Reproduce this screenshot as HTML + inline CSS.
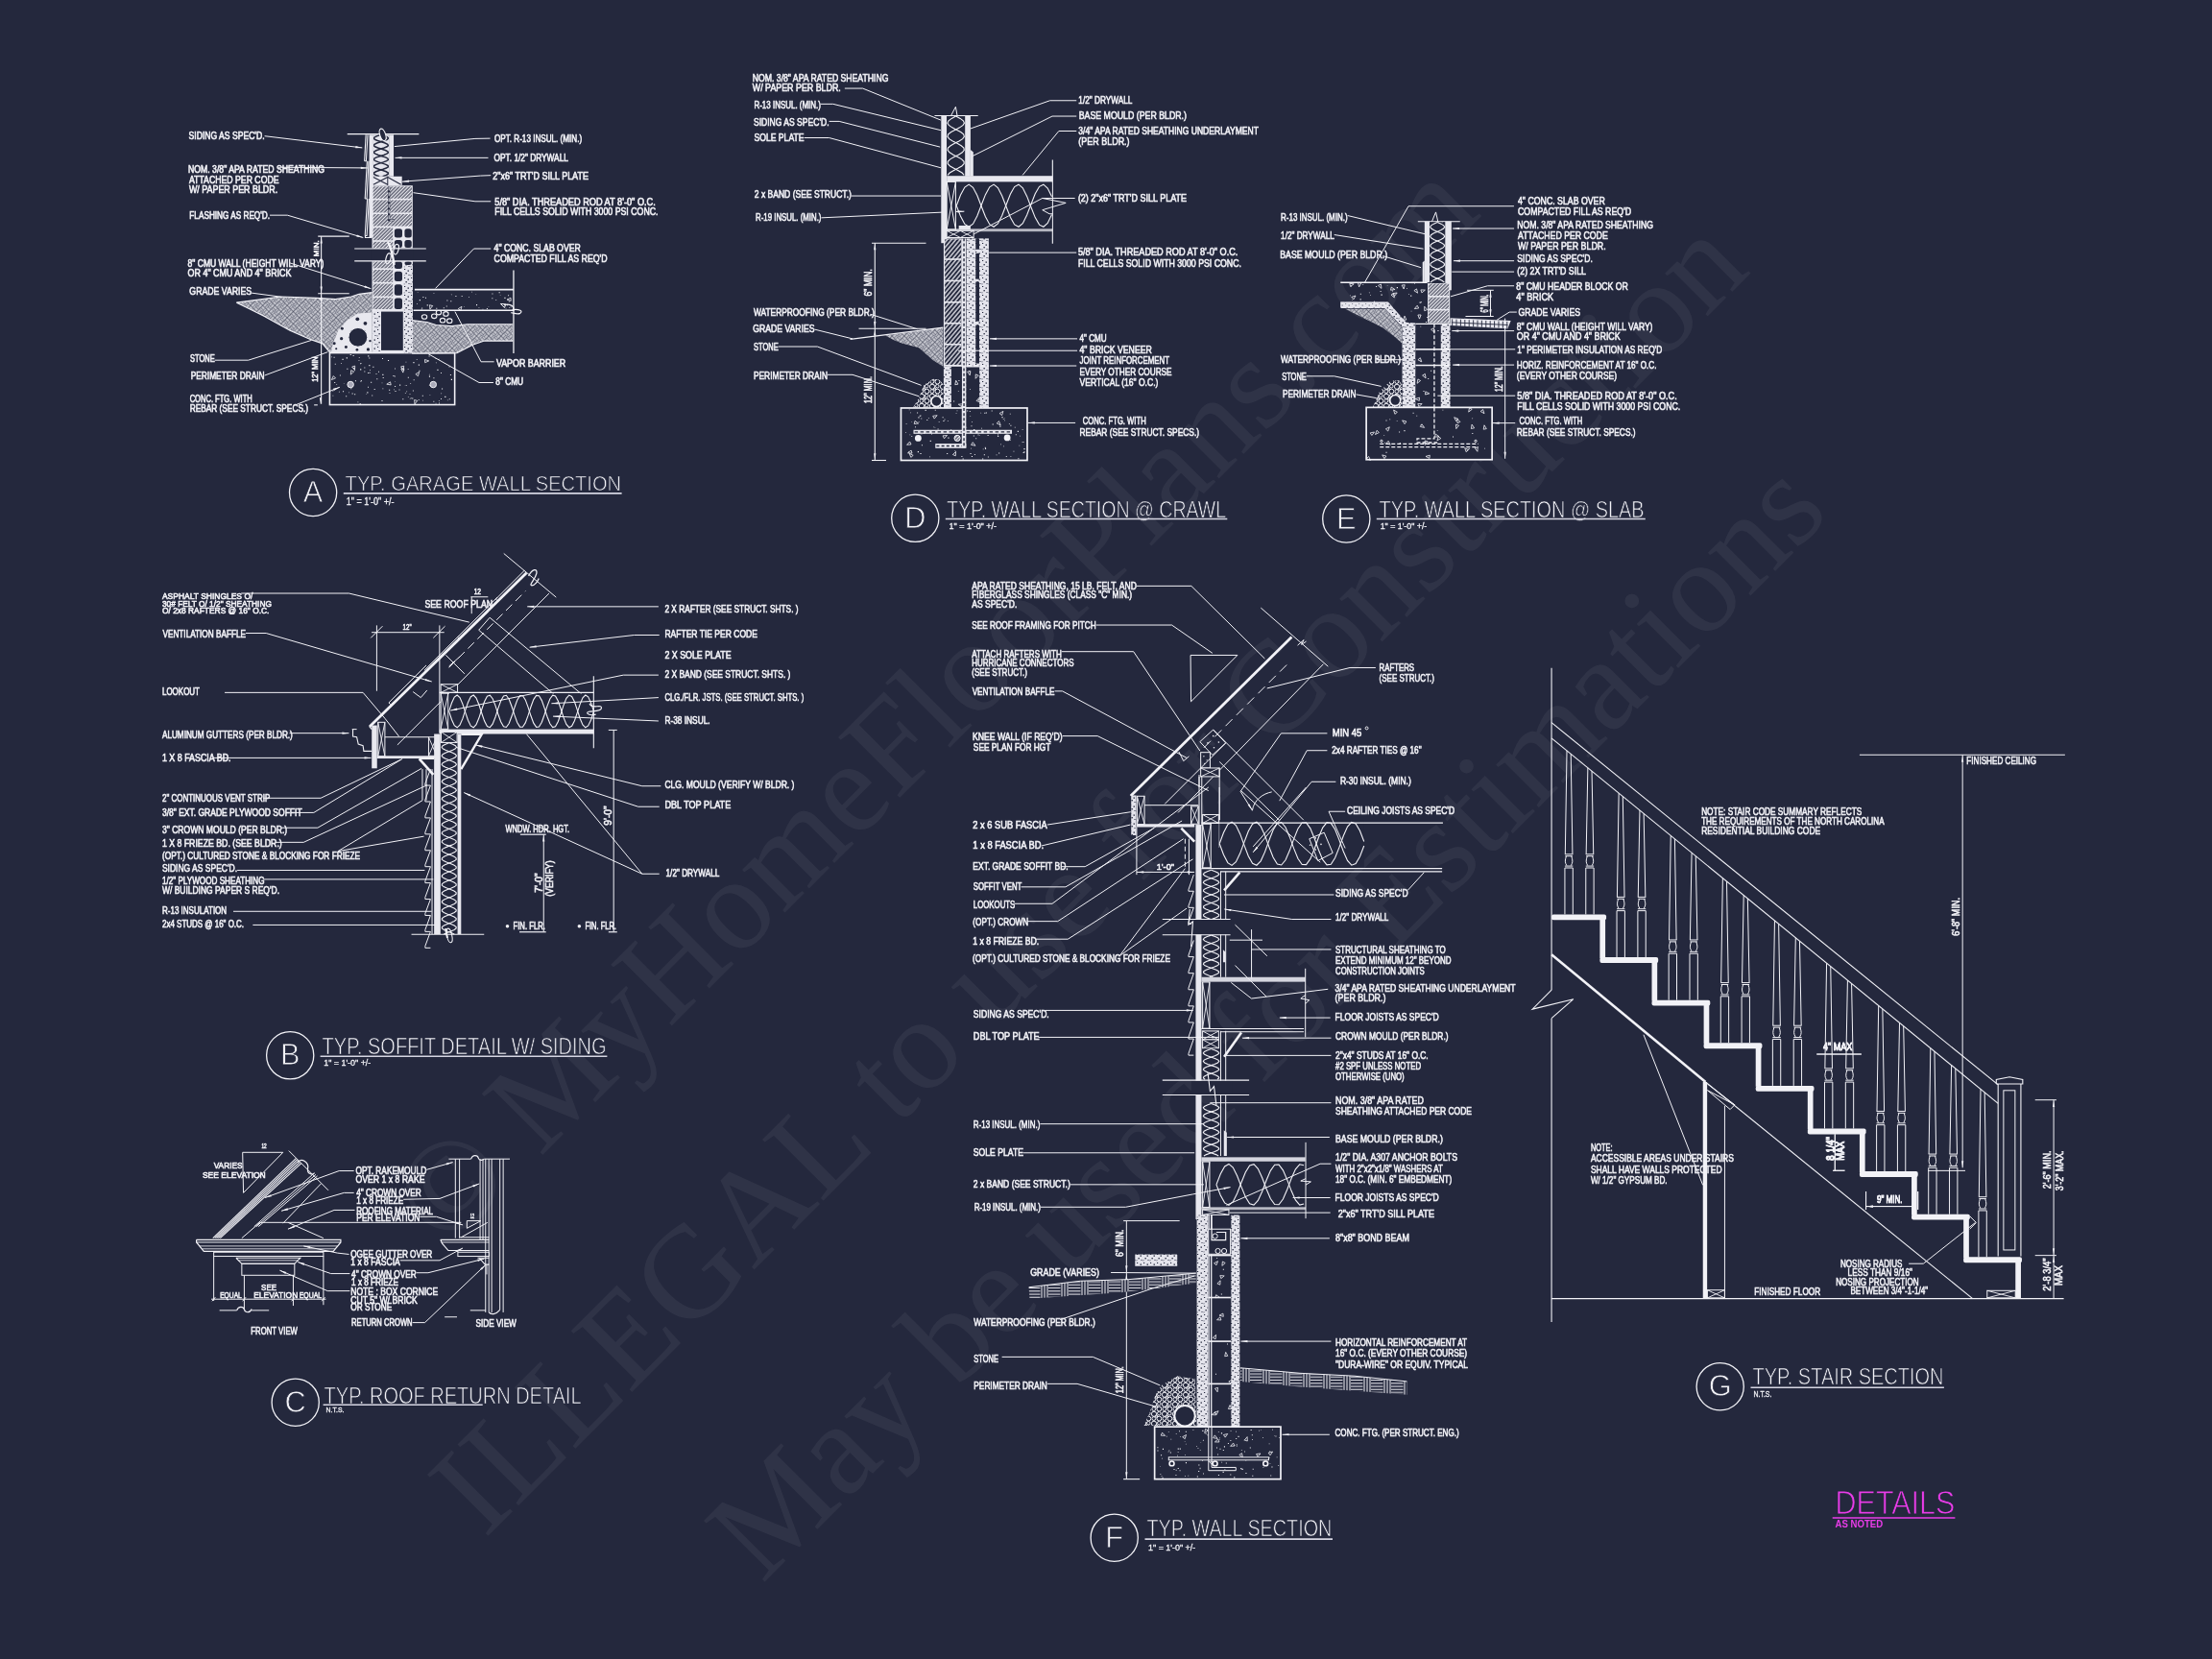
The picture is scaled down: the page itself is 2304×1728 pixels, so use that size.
<!DOCTYPE html>
<html><head><meta charset="utf-8"><title>Details</title>
<style>
html,body{margin:0;padding:0;background:#24283d;}
body{width:2304px;height:1728px;overflow:hidden;}
svg{display:block;will-change:transform;font-family:"Liberation Sans",sans-serif;}
.wm{font-family:"Liberation Serif",serif;}
</style></head><body>
<svg xmlns="http://www.w3.org/2000/svg" width="2304" height="1728" viewBox="0 0 2304 1728">
<defs>
<pattern id="hd" width="2.6" height="2.6" patternUnits="userSpaceOnUse" patternTransform="rotate(-45)"><rect width="2.6" height="2.6" fill="#24283d"/><line x1="0" y1="1.3" x2="2.6" y2="1.3" stroke="#f2f2f7" stroke-width="1.55"/></pattern>
<pattern id="hd2" width="2.2" height="2.2" patternUnits="userSpaceOnUse" patternTransform="rotate(-45)"><rect width="2.2" height="2.2" fill="#24283d"/><line x1="0" y1="1.1" x2="2.2" y2="1.1" stroke="#f2f2f7" stroke-width="1.0"/></pattern>
<pattern id="earth" width="9" height="9" patternUnits="userSpaceOnUse" patternTransform="rotate(45)">
<rect width="9" height="9" fill="#24283d"/>
<g stroke="#f2f2f7" stroke-width="1.05">
<line x1="0.3" y1="0.75" x2="4.2" y2="0.75"/><line x1="0.3" y1="2.25" x2="4.2" y2="2.25"/><line x1="0.3" y1="3.75" x2="4.2" y2="3.75"/>
<line x1="5.25" y1="0.3" x2="5.25" y2="4.2"/><line x1="6.75" y1="0.3" x2="6.75" y2="4.2"/><line x1="8.25" y1="0.3" x2="8.25" y2="4.2"/>
<line x1="0.75" y1="4.8" x2="0.75" y2="8.7"/><line x1="2.25" y1="4.8" x2="2.25" y2="8.7"/><line x1="3.75" y1="4.8" x2="3.75" y2="8.7"/>
<line x1="4.8" y1="5.25" x2="8.7" y2="5.25"/><line x1="4.8" y1="6.75" x2="8.7" y2="6.75"/><line x1="4.8" y1="8.25" x2="8.7" y2="8.25"/>
</g></pattern>
<pattern id="grout" width="7" height="9" patternUnits="userSpaceOnUse">
<rect width="7" height="9" fill="#e4e4ec"/>
<g fill="#24283d"><rect x="1" y="1" width="1.2" height="1"/><rect x="4.5" y="2.5" width="1.5" height="1.2"/><rect x="2.5" y="5" width="1.3" height="1.4"/><rect x="5.5" y="7" width="1" height="1"/><rect x="0.5" y="7.5" width="1" height="0.8"/></g></pattern>
<pattern id="brick" width="3.4" height="3.4" patternUnits="userSpaceOnUse" patternTransform="rotate(-50)"><rect width="3.4" height="3.4" fill="#24283d"/><line x1="0" y1="1.7" x2="3.4" y2="1.7" stroke="#f2f2f7" stroke-width="1.25"/></pattern>
<pattern id="stone" width="11" height="10" patternUnits="userSpaceOnUse"><rect width="11" height="10" fill="#24283d"/><g fill="none" stroke="#f2f2f7" stroke-width="1"><circle cx="3" cy="2.8" r="2.6"/><circle cx="8.4" cy="7.6" r="2.4"/><circle cx="8.3" cy="2.2" r="1.8"/><circle cx="2.8" cy="7.6" r="1.9"/><circle cx="5.6" cy="5.1" r="1.1"/></g></pattern>
<pattern id="bond" width="21" height="9.6" patternUnits="userSpaceOnUse"><rect width="21" height="9.6" fill="#24283d"/><g stroke="#f2f2f7" stroke-width="1"><line x1="0" y1="0.8" x2="12.5" y2="0.8"/><line x1="0" y1="4" x2="12.5" y2="4"/><line x1="0" y1="7.2" x2="12.5" y2="7.2"/><line x1="14" y1="0" x2="14" y2="9.6"/><line x1="17" y1="0" x2="17" y2="9.6"/><line x1="20" y1="0" x2="20" y2="9.6"/></g></pattern>
</defs>

<rect x="0" y="0" width="2304" height="1728" fill="#24283d"/>
<g id="s_misc">
<text class="wm" x="1004.6" y="763.4" font-size="137" text-anchor="middle" fill="#ffffff" opacity="0.052" transform="rotate(-45 1004.6 763.4)">© MyHomeFloorPlans.com</text>
<text class="wm" x="1165" y="943" font-size="137" text-anchor="middle" fill="#ffffff" opacity="0.052" transform="rotate(-45 1165 943)">ILLEGAL to use for Construction</text>
<text class="wm" x="1350.6" y="1093.2" font-size="137" text-anchor="middle" fill="#ffffff" opacity="0.052" transform="rotate(-45 1350.6 1093.2)">May be used for Estimations</text>
<circle cx="326.1" cy="513.0" r="24.6" fill="none" stroke="#f2f2f7" stroke-width="1.3"/>
<text x="326.1" y="523.0" font-size="30.73" fill="#f2f2f7" stroke="#24283d" stroke-width="0.8" text-anchor="middle">A</text>
<text x="359.6" y="511.2" font-size="22.21" fill="#f2f2f7" textLength="287.5" lengthAdjust="spacingAndGlyphs" stroke="#24283d" stroke-width="0.7">TYP. GARAGE WALL SECTION</text>
<line x1="357.8" y1="513.9" x2="647.6" y2="513.9" stroke="#d5d5e2" stroke-width="1.6"/>
<text x="360.8" y="526.0" font-size="10.07" fill="#f2f2f7" textLength="49.8" lengthAdjust="spacingAndGlyphs" stroke="#f2f2f7" stroke-width="0.3">1" = 1'-0" +/-</text>
<circle cx="953.3" cy="539.8" r="24.6" fill="none" stroke="#f2f2f7" stroke-width="1.3"/>
<text x="953.3" y="549.8" font-size="30.73" fill="#f2f2f7" stroke="#24283d" stroke-width="0.8" text-anchor="middle">D</text>
<text x="986.3" y="538.6" font-size="24.44" fill="#f2f2f7" textLength="290.8" lengthAdjust="spacingAndGlyphs" stroke="#24283d" stroke-width="0.7">TYP. WALL SECTION @ CRAWL</text>
<line x1="984.8" y1="540.5" x2="1278.3" y2="540.5" stroke="#d5d5e2" stroke-width="1.6"/>
<text x="988.6" y="551.4" font-size="8.59" fill="#f2f2f7" textLength="49.4" lengthAdjust="spacingAndGlyphs" stroke="#f2f2f7" stroke-width="0.3">1" = 1'-0" +/-</text>
<circle cx="1402.3" cy="540.5" r="24.6" fill="none" stroke="#f2f2f7" stroke-width="1.3"/>
<text x="1402.3" y="550.5" font-size="30.73" fill="#f2f2f7" stroke="#24283d" stroke-width="0.8" text-anchor="middle">E</text>
<text x="1436.5" y="538.6" font-size="24.44" fill="#f2f2f7" textLength="276.1" lengthAdjust="spacingAndGlyphs" stroke="#24283d" stroke-width="0.7">TYP. WALL SECTION @ SLAB</text>
<line x1="1433.8" y1="540.5" x2="1713.8" y2="540.5" stroke="#d5d5e2" stroke-width="1.6"/>
<text x="1437.7" y="551.4" font-size="8.59" fill="#f2f2f7" textLength="48.6" lengthAdjust="spacingAndGlyphs" stroke="#f2f2f7" stroke-width="0.3">1" = 1'-0" +/-</text>
<circle cx="302.2" cy="1099.3" r="24.6" fill="none" stroke="#f2f2f7" stroke-width="1.3"/>
<text x="302.2" y="1109.3" font-size="30.73" fill="#f2f2f7" stroke="#24283d" stroke-width="0.8" text-anchor="middle">B</text>
<text x="335.6" y="1098.3" font-size="24.44" fill="#f2f2f7" textLength="296.0" lengthAdjust="spacingAndGlyphs" stroke="#24283d" stroke-width="0.7">TYP. SOFFIT DETAIL W/ SIDING</text>
<line x1="333.6" y1="1100.3" x2="632.4" y2="1100.3" stroke="#d5d5e2" stroke-width="1.6"/>
<text x="337.2" y="1109.7" font-size="9.47" fill="#f2f2f7" textLength="49.1" lengthAdjust="spacingAndGlyphs" stroke="#f2f2f7" stroke-width="0.3">1" = 1'-0" +/-</text>
<circle cx="307.7" cy="1460.7" r="24.6" fill="none" stroke="#f2f2f7" stroke-width="1.3"/>
<text x="307.7" y="1470.7" font-size="30.73" fill="#f2f2f7" stroke="#24283d" stroke-width="0.8" text-anchor="middle">C</text>
<text x="337.6" y="1461.7" font-size="23.6" fill="#f2f2f7" textLength="268.1" lengthAdjust="spacingAndGlyphs" stroke="#24283d" stroke-width="0.7">TYP. ROOF RETURN DETAIL</text>
<line x1="336.6" y1="1463.3" x2="502.7" y2="1463.3" stroke="#d5d5e2" stroke-width="1.6"/>
<text x="339.6" y="1471.3" font-size="7.55" fill="#f2f2f7" textLength="18.9" lengthAdjust="spacingAndGlyphs" stroke="#f2f2f7" stroke-width="0.3">N.T.S.</text>
<circle cx="1160.7" cy="1601.7" r="24.6" fill="none" stroke="#f2f2f7" stroke-width="1.3"/>
<text x="1160.7" y="1611.7" font-size="30.73" fill="#f2f2f7" stroke="#24283d" stroke-width="0.8" text-anchor="middle">F</text>
<text x="1194.5" y="1600.1" font-size="24.16" fill="#f2f2f7" textLength="192.9" lengthAdjust="spacingAndGlyphs" stroke="#24283d" stroke-width="0.7">TYP. WALL SECTION</text>
<line x1="1192.5" y1="1603.1" x2="1388.0" y2="1603.1" stroke="#d5d5e2" stroke-width="1.6"/>
<text x="1196.1" y="1614.6" font-size="9.77" fill="#f2f2f7" textLength="49.1" lengthAdjust="spacingAndGlyphs" stroke="#f2f2f7" stroke-width="0.3">1" = 1'-0" +/-</text>
<circle cx="1791.7" cy="1444.2" r="24.6" fill="none" stroke="#f2f2f7" stroke-width="1.3"/>
<text x="1791.7" y="1454.2" font-size="30.73" fill="#f2f2f7" stroke="#24283d" stroke-width="0.8" text-anchor="middle">G</text>
<text x="1825.5" y="1442.2" font-size="23.32" fill="#f2f2f7" textLength="199.0" lengthAdjust="spacingAndGlyphs" stroke="#24283d" stroke-width="0.7">TYP. STAIR SECTION</text>
<line x1="1823.5" y1="1445.2" x2="2024.9" y2="1445.2" stroke="#d5d5e2" stroke-width="1.6"/>
<text x="1826.5" y="1455.1" font-size="8.88" fill="#f2f2f7" textLength="18.9" lengthAdjust="spacingAndGlyphs" stroke="#f2f2f7" stroke-width="0.3">N.T.S.</text>
<text x="1911.5" y="1577.0" font-size="34.64" fill="#e83ce8" textLength="124.9" lengthAdjust="spacingAndGlyphs" stroke="#24283d" stroke-width="0.9">DETAILS</text>
<line x1="1908.7" y1="1581.0" x2="2036.4" y2="1581.0" stroke="#e83ce8" stroke-width="1.6"/>
<text x="1911.5" y="1591.4" font-size="11.25" fill="#e83ce8" textLength="49.7" lengthAdjust="spacingAndGlyphs" font-weight="bold">AS NOTED</text>
</g>
<g id="s_a">
<polygon points="246.46,315.09 292.57,308.99 329.19,310.34 349.54,311.7 365.81,308.99 373.95,306.28 387.51,304.65 387.51,367.31 344.11,367.31 342.08,365.27 335.97,357.82 323.77,353.75 302.07,344.25 274.94,329.33" fill="url(#earth)" stroke="none" stroke-width="0"/>
<polyline points="246.46,315.09 292.57,308.99 329.19,310.34 349.54,311.7 365.81,308.99 373.95,306.28 387.51,304.65" fill="none" stroke="#f2f2f7" stroke-width="1.2"/>
<polyline points="246.46,315.09 274.94,329.33 302.07,344.25 323.77,353.75 335.97,357.82 342.08,365.27 344.11,367.31" fill="none" stroke="#f2f2f7" stroke-width="1.2"/>
<polygon points="346.82,357.82 352.25,344.25 361.74,333.4 372.59,326.62 387.51,325.54 387.51,367.31 344.79,367.31" fill="#e8e8ef" stroke="none" stroke-width="0"/>
<circle cx="372.32" cy="332.32" r="1.9" fill="#24283d" stroke="none" stroke-width="0"/>
<circle cx="380.46" cy="336.79" r="1.9" fill="#24283d" stroke="none" stroke-width="0"/>
<circle cx="356.32" cy="342.22" r="1.49" fill="#24283d" stroke="none" stroke-width="0"/>
<circle cx="355.64" cy="352.66" r="1.63" fill="#24283d" stroke="none" stroke-width="0"/>
<circle cx="348.18" cy="357.82" r="1.49" fill="#24283d" stroke="none" stroke-width="0"/>
<circle cx="360.39" cy="361.61" r="1.49" fill="#24283d" stroke="none" stroke-width="0"/>
<circle cx="371.92" cy="364.33" r="1.36" fill="#24283d" stroke="none" stroke-width="0"/>
<circle cx="383.45" cy="363.92" r="1.63" fill="#24283d" stroke="none" stroke-width="0"/>
<circle cx="385.48" cy="355.1" r="1.22" fill="#24283d" stroke="none" stroke-width="0"/>
<circle cx="350.22" cy="363.24" r="1.09" fill="#24283d" stroke="none" stroke-width="0"/>
<circle cx="372.87" cy="351.3" r="9.9" fill="#24283d" stroke="#e8e8ef" stroke-width="1"/>
<rect x="343.43" y="367.58" width="130.21" height="53.98" fill="#24283d" stroke="#f2f2f7" stroke-width="1.6"/>
<path d="M375.1 396.7h0.8v0.8h-0.8zM421.8 400.9h0.7v0.7h-0.7zM346.5 411.8h0.8v0.8h-0.8zM374.7 420.0h0.9v0.9h-0.9zM451.4 393.2h1.0v1.0h-1.0zM364.0 401.4h1.1v1.1h-1.1zM411.5 406.9h1.0v1.0h-1.0zM352.9 407.7h0.9v0.9h-0.9zM383.2 370.3h1.1v1.1h-1.1zM405.1 405.7h1.1v1.1h-1.1zM435.8 416.1h0.8v0.8h-0.8zM446.9 391.6h1.1v1.1h-1.1zM456.8 373.7h0.7v0.7h-0.7zM372.4 418.4h0.9v0.9h-0.9zM424.7 384.2h0.9v0.9h-0.9zM394.0 386.8h0.9v0.9h-0.9zM419.3 415.3h1.0v1.0h-1.0zM463.2 412.8h1.2v1.2h-1.2zM430.4 377.1h1.1v1.1h-1.1zM467.8 415.3h0.9v0.9h-0.9zM435.8 379.6h1.1v1.1h-1.1zM417.9 383.4h0.7v0.7h-0.7zM453.7 419.7h0.7v0.7h-0.7zM446.9 389.8h0.7v0.7h-0.7zM382.3 408.3h1.1v1.1h-1.1zM350.4 400.3h0.7v0.7h-0.7zM436.4 385.7h1.1v1.1h-1.1zM469.8 394.7h1.2v1.2h-1.2zM384.3 372.6h1.0v1.0h-1.0zM348.8 378.8h0.9v0.9h-0.9zM422.6 376.7h0.7v0.7h-0.7zM455.4 384.8h1.1v1.1h-1.1zM459.1 388.1h0.9v0.9h-0.9zM411.1 401.9h1.0v1.0h-1.0zM416.1 400.6h1.1v1.1h-1.1zM409.4 390.9h1.0v1.0h-1.0zM375.1 384.2h1.2v1.2h-1.2zM411.2 396.9h0.6v0.6h-0.6zM397.7 398.6h0.6v0.6h-0.6zM423.3 401.2h0.7v0.7h-0.7zM424.8 392.7h1.0v1.0h-1.0zM389.7 405.1h1.0v1.0h-1.0zM347.6 371.8h1.0v1.0h-1.0zM467.6 381.6h0.9v0.9h-0.9zM420.4 385.2h0.8v0.8h-0.8zM384.6 387.7h1.0v1.0h-1.0zM383.1 388.1h1.0v1.0h-1.0zM348.2 398.0h1.0v1.0h-1.0zM384.3 380.1h1.1v1.1h-1.1zM375.2 378.3h0.9v0.9h-0.9zM433.8 373.9h0.8v0.8h-0.8zM387.3 411.6h0.9v0.9h-0.9zM453.9 377.4h0.8v0.8h-0.8zM427.7 414.3h0.9v0.9h-0.9zM373.5 374.9h0.9v0.9h-0.9zM369.1 410.2h1.1v1.1h-1.1zM368.2 383.0h1.1v1.1h-1.1zM426.6 410.2h0.8v0.8h-0.8zM361.3 383.7h1.1v1.1h-1.1zM379.4 386.5h0.9v0.9h-0.9zM398.3 389.8h1.1v1.1h-1.1zM364.7 368.9h1.1v1.1h-1.1zM457.0 419.5h0.9v0.9h-0.9zM465.9 416.5h0.7v0.7h-0.7zM439.8 411.8h1.0v1.0h-1.0zM411.0 383.6h0.8v0.8h-0.8zM373.8 372.2h0.9v0.9h-0.9zM381.4 410.4h0.7v0.7h-0.7zM460.0 404.4h1.1v1.1h-1.1zM459.1 415.0h0.9v0.9h-0.9zM346.5 407.1h0.7v0.7h-0.7zM383.0 402.8h0.9v0.9h-0.9zM397.5 417.1h1.0v1.0h-1.0zM388.3 381.7h1.1v1.1h-1.1zM405.6 409.0h0.8v0.8h-0.8zM369.9 396.2h1.1v1.1h-1.1zM366.6 409.5h1.1v1.1h-1.1zM447.6 411.1h0.6v0.6h-0.6zM424.9 413.1h0.7v0.7h-0.7zM379.4 382.5h0.9v0.9h-0.9zM398.7 393.0h1.0v1.0h-1.0zM345.0 371.5h0.7v0.7h-0.7zM360.7 372.2h1.2v1.2h-1.2zM453.7 373.1h0.9v0.9h-0.9zM385.1 384.9h0.8v0.8h-0.8zM427.3 398.9h0.8v0.8h-0.8zM369.1 385.6h0.7v0.7h-0.7zM415.6 405.6h0.8v0.8h-0.8zM355.0 377.9h0.8v0.8h-0.8zM421.9 409.0h0.8v0.8h-0.8zM446.9 400.8h0.9v0.9h-0.9zM392.3 394.2h1.0v1.0h-1.0zM398.4 404.4h0.9v0.9h-0.9zM376.0 396.3h1.0v1.0h-1.0zM353.9 390.6h0.9v0.9h-0.9zM456.9 416.9h0.8v0.8h-0.8zM459.3 409.4h0.8v0.8h-0.8zM404.0 375.0h1.1v1.1h-1.1zM429.2 414.4h1.1v1.1h-1.1zM429.9 406.5h0.9v0.9h-0.9zM357.9 399.0h0.6v0.6h-0.6zM363.1 408.6h0.7v0.7h-0.7zM356.5 373.8h1.1v1.1h-1.1zM367.6 369.9h1.1v1.1h-1.1zM360.2 412.2h1.0v1.0h-1.0zM451.4 417.8h0.9v0.9h-0.9zM446.6 370.5h1.0v1.0h-1.0zM410.0 405.5h0.7v0.7h-0.7zM440.3 416.8h0.7v0.7h-0.7zM386.1 397.7h1.1v1.1h-1.1zM375.7 377.9h0.8v0.8h-0.8zM423.3 407.5h0.8v0.8h-0.8zM391.6 389.1h0.8v0.8h-0.8zM398.1 373.0h0.9v0.9h-0.9zM468.9 389.9h1.0v1.0h-1.0zM365.3 404.3h1.0v1.0h-1.0zM430.7 395.3h0.9v0.9h-0.9zM426.8 414.9h0.7v0.7h-0.7zM357.0 407.2h1.1v1.1h-1.1zM410.7 391.5h1.0v1.0h-1.0z" fill="#f2f2f7"/>
<path d="M369.5 385.5L366.7 382.1L369.7 381.1zM419.8 388.1L417.8 384.2L420.9 383.8zM432.0 420.9L431.6 416.5L434.7 417.4zM436.7 387.4L435.4 391.7L432.9 389.7zM420.0 385.6L417.6 381.9L420.7 381.2zM345.4 395.5L347.3 391.6L349.5 393.9zM365.3 390.1L365.7 385.7L368.6 387.1zM446.7 375.9L442.7 377.7L442.5 374.5zM402.8 400.2L406.5 397.8L407.2 400.9z" fill="none" stroke="#f2f2f7" stroke-width="0.8"/>
<circle cx="365.13" cy="400.54" r="3.26" fill="#a9a9b8" stroke="#f2f2f7" stroke-width="1"/>
<circle cx="451.26" cy="400.54" r="3.26" fill="#a9a9b8" stroke="#f2f2f7" stroke-width="1"/>
<polygon points="429.16,333.67 444.76,335.44 454.25,338.56 470.53,339.64 486.8,337.74 534.27,337.74 534.27,355.1 504.44,355.1 492.23,359.17 475.95,367.58 429.16,368.12" fill="url(#earth)" stroke="none" stroke-width="0"/>
<polyline points="429.16,333.67 444.76,335.44 454.25,338.56 470.53,339.64 486.8,337.74 534.27,337.74" fill="none" stroke="#f2f2f7" stroke-width="1.1"/>
<polyline points="534.27,355.1 504.44,355.1 492.23,359.17 475.95,367.58 429.16,368.12" fill="none" stroke="#f2f2f7" stroke-width="1.1"/>
<ellipse cx="442.05" cy="330.01" rx="2.71" ry="2.31" fill="none" stroke="#f2f2f7" stroke-width="1.1"/>
<ellipse cx="452.22" cy="329.33" rx="2.71" ry="2.31" fill="none" stroke="#f2f2f7" stroke-width="1.1"/>
<ellipse cx="461.03" cy="333.67" rx="2.71" ry="2.31" fill="none" stroke="#f2f2f7" stroke-width="1.1"/>
<ellipse cx="468.22" cy="334.22" rx="2.71" ry="2.31" fill="none" stroke="#f2f2f7" stroke-width="1.1"/>
<ellipse cx="464.42" cy="326.89" rx="2.71" ry="2.31" fill="none" stroke="#f2f2f7" stroke-width="1.1"/>
<ellipse cx="456.96" cy="325.54" rx="2.71" ry="2.31" fill="none" stroke="#f2f2f7" stroke-width="1.1"/>
<rect x="432.55" y="301.94" width="102.4" height="21.29" fill="#24283d" stroke="none" stroke-width="1"/>
<line x1="431.87" y1="301.66" x2="534.95" y2="301.66" stroke="#f2f2f7" stroke-width="1.8"/>
<line x1="430.52" y1="323.23" x2="535.63" y2="323.23" stroke="#f2f2f7" stroke-width="1.5"/>
<path d="M496.0 317.1h1.1v1.1h-1.1zM527.9 317.1h1.1v1.1h-1.1zM436.8 312.1h1.1v1.1h-1.1zM498.6 320.1h0.7v0.7h-0.7zM480.7 308.1h0.9v0.9h-0.9zM491.1 303.8h0.7v0.7h-0.7zM461.8 320.3h1.0v1.0h-1.0zM449.8 318.2h0.7v0.7h-0.7zM495.5 305.9h0.6v0.6h-0.6zM520.8 307.4h0.7v0.7h-0.7zM531.8 319.5h0.8v0.8h-0.8zM529.8 313.4h1.0v1.0h-1.0zM454.3 320.8h1.0v1.0h-1.0zM530.3 319.9h0.8v0.8h-0.8zM469.9 306.6h0.7v0.7h-0.7zM440.4 309.1h1.0v1.0h-1.0zM434.2 316.0h0.8v0.8h-0.8zM464.8 318.6h0.9v0.9h-0.9zM465.4 312.4h1.0v1.0h-1.0zM439.6 321.4h0.6v0.6h-0.6zM508.6 319.0h0.6v0.6h-0.6zM512.4 310.3h0.9v0.9h-0.9zM434.8 304.4h0.7v0.7h-0.7zM529.1 307.2h1.0v1.0h-1.0zM526.6 320.8h0.8v0.8h-0.8zM469.3 313.2h1.0v1.0h-1.0zM444.7 317.3h1.1v1.1h-1.1zM519.6 304.2h1.1v1.1h-1.1zM443.0 309.8h1.0v1.0h-1.0zM525.4 309.8h1.1v1.1h-1.1zM488.2 309.3h0.8v0.8h-0.8zM451.6 305.0h0.7v0.7h-0.7zM502.6 321.8h0.7v0.7h-0.7zM438.8 321.6h0.9v0.9h-0.9zM474.4 307.9h1.0v1.0h-1.0zM516.3 311.9h0.9v0.9h-0.9zM439.5 320.3h0.6v0.6h-0.6zM483.1 318.9h0.7v0.7h-0.7zM506.9 320.9h1.0v1.0h-1.0zM512.5 305.5h0.9v0.9h-0.9z" fill="#f2f2f7"/>
<path d="M447.9 322.1L447.5 317.7L450.6 318.6zM481.0 319.3L479.8 323.5L477.3 321.6zM528.0 312.1L532.0 310.2L532.2 313.4z" fill="none" stroke="#f2f2f7" stroke-width="0.8"/>
<path d="M 521.39 316.45 L 525.46 320.52 L 526.81 316.85 Z" fill="none" stroke="#f2f2f7" stroke-width="1"/>
<path d="M 524.78 317.8 C 530.2 315.77 536.99 319.16 534.27 322.55 C 541.06 321.87 545.12 323.91 541.73 326.35 C 538.34 327.98 534.27 325.54 532.24 325.54" fill="none" stroke="#f2f2f7" stroke-width="1.2"/>
<line x1="361.74" y1="139.67" x2="436.34" y2="139.67" stroke="#f2f2f7" stroke-width="1.2"/>
<polyline points="381.14,140.34 379.65,167.74" fill="none" stroke="#f2f2f7" stroke-width="1.1"/>
<polyline points="383.04,140.34 381.41,167.74 379.65,167.74" fill="none" stroke="#f2f2f7" stroke-width="1.1"/>
<polyline points="382.36,167.74 380.19,207.07" fill="none" stroke="#f2f2f7" stroke-width="1.1"/>
<polyline points="383.99,167.74 382.09,207.07 380.19,207.07" fill="none" stroke="#f2f2f7" stroke-width="1.1"/>
<polyline points="382.63,207.07 380.19,245.46" fill="none" stroke="#f2f2f7" stroke-width="1.1"/>
<polyline points="384.39,207.07 382.09,245.46 380.19,245.46" fill="none" stroke="#f2f2f7" stroke-width="1.1"/>
<polyline points="380.46,245.46 380.46,247.49 387.24,247.49" fill="none" stroke="#f2f2f7" stroke-width="1.1"/>
<rect x="388.6" y="140.34" width="16.55" height="43.41" fill="#e4e4ec" stroke="none" stroke-width="0"/>
<polyline points="396.87,140.34 400.73,141.58 403.53,142.82 404.48,144.06 403.33,145.3 400.4,146.54 396.49,147.78 392.69,149.02 390.04,150.26 389.28,151.5 390.62,152.74 393.68,153.99 397.63,155.23 401.37,156.47 403.86,157.71 404.42,158.95 402.9,160.19 399.71,161.43 395.74,162.67 392.08,163.91 389.74,165.15 389.38,166.39 391.08,167.63 394.39,168.87 398.38,170.11 401.96,171.35 404.13,172.59 404.29,173.83 402.41,175.07 398.99,176.31 394.99,177.55 391.51,178.79 389.51,180.03 389.55,181.27 391.6,182.51 395.12,183.75" fill="none" stroke="#24283d" stroke-width="1.5"/>
<polyline points="396.87,140.34 393.01,141.58 390.22,142.82 389.26,144.06 390.41,145.3 393.34,146.54 397.25,147.78 401.05,149.02 403.7,150.26 404.46,151.5 403.13,152.74 400.06,153.99 396.11,155.23 392.38,156.47 389.88,157.71 389.32,158.95 390.84,160.19 394.03,161.43 398.01,162.67 401.67,163.91 404.0,165.15 404.37,166.39 402.66,167.63 399.36,168.87 395.36,170.11 391.79,171.35 389.62,172.59 389.45,173.83 391.34,175.07 394.75,176.31 398.75,177.55 402.23,178.79 404.23,180.03 404.2,181.27 402.14,182.51 398.63,183.75" fill="none" stroke="#24283d" stroke-width="1.5"/>
<rect x="384.53" y="140.34" width="4.34" height="107.15" fill="#e8e8ef" stroke="none" stroke-width="0"/>
<rect x="405.15" y="140.34" width="4.88" height="43.41" fill="#e8e8ef" stroke="none" stroke-width="0"/>
<ellipse cx="398.64" cy="140.34" rx="2.98" ry="6.51" fill="#24283d" stroke="#f2f2f7" stroke-width="1.2" transform="rotate(-18 398.64 140.34)"/>
<rect x="388.19" y="183.75" width="30.52" height="9.49" fill="#e8e8ef" stroke="none" stroke-width="0"/>
<polyline points="403.79,184.56 417.62,192.16" fill="none" stroke="#24283d" stroke-width="1.2"/>
<polyline points="388.87,192.16 403.79,184.56" fill="none" stroke="#24283d" stroke-width="1.2"/>
<polyline points="388.87,184.56 403.79,192.16" fill="none" stroke="#24283d" stroke-width="1.2"/>
<line x1="403.79" y1="183.75" x2="403.79" y2="193.24" stroke="#24283d" stroke-width="1"/>
<rect x="387.51" y="193.24" width="42.32" height="65.37" fill="#e8e8ef" stroke="none" stroke-width="0"/>
<rect x="387.51" y="272.18" width="42.32" height="52.89" fill="#e8e8ef" stroke="none" stroke-width="0"/>
<rect x="388.6" y="194.33" width="40.42" height="12.47" fill="url(#hd)" stroke="none" stroke-width="0"/>
<rect x="388.6" y="208.43" width="40.42" height="13.02" fill="url(#hd)" stroke="none" stroke-width="0"/>
<rect x="388.6" y="223.08" width="40.42" height="12.48" fill="url(#hd)" stroke="none" stroke-width="0"/>
<rect x="388.6" y="237.18" width="20.61" height="13.02" fill="url(#hd)" stroke="none" stroke-width="0"/>
<rect x="388.6" y="251.83" width="20.61" height="6.78" fill="url(#hd)" stroke="none" stroke-width="0"/>
<rect x="388.6" y="272.18" width="20.61" height="7.19" fill="url(#hd)" stroke="none" stroke-width="0"/>
<rect x="388.6" y="280.99" width="20.61" height="12.89" fill="url(#hd)" stroke="none" stroke-width="0"/>
<rect x="388.6" y="295.51" width="20.61" height="13.02" fill="url(#hd)" stroke="none" stroke-width="0"/>
<rect x="388.6" y="310.15" width="20.61" height="13.97" fill="url(#hd)" stroke="none" stroke-width="0"/>
<polyline points="405.15,194.33 405.15,229.18 410.57,229.18" fill="none" stroke="#24283d" stroke-width="2.2"/>
<polyline points="405.15,194.33 405.15,229.18 410.57,229.18" fill="none" stroke="#f2f2f7" stroke-width="1" stroke-dasharray="4 2"/>
<rect x="410.84" y="238.27" width="8.14" height="9.22" rx="2.5" fill="#24283d"/>
<rect x="421.42" y="238.27" width="7.32" height="9.22" rx="2.5" fill="#24283d"/>
<rect x="410.84" y="249.93" width="8.14" height="8.14" rx="2.5" fill="#24283d"/>
<rect x="421.42" y="249.93" width="7.32" height="8.14" rx="2.5" fill="#24283d"/>
<rect x="410.84" y="272.58" width="8.14" height="7.46" rx="2.5" fill="#24283d"/>
<rect x="410.84" y="282.76" width="8.14" height="10.17" rx="2.5" fill="#24283d"/>
<rect x="410.84" y="296.32" width="8.14" height="11.53" rx="2.5" fill="#24283d"/>
<rect x="410.84" y="310.56" width="8.14" height="11.53" rx="2.5" fill="#24283d"/>
<rect x="420.74" y="272.18" width="9.09" height="52.89" fill="url(#grout)" stroke="none" stroke-width="0"/>
<rect x="421.42" y="272.18" width="7.32" height="3.8" rx="2.5" fill="#24283d"/>
<rect x="386.16" y="259.29" width="44.76" height="12.34" fill="#24283d" stroke="none" stroke-width="0"/>
<line x1="369.2" y1="259.02" x2="443.8" y2="259.02" stroke="#f2f2f7" stroke-width="1.2"/>
<line x1="369.2" y1="271.91" x2="443.8" y2="271.91" stroke="#f2f2f7" stroke-width="1.2"/>
<path d="M 403.79 252.24 C 406.5 255.63 409.21 266.48 410.57 275.97" fill="none" stroke="#f2f2f7" stroke-width="2.4"/>
<ellipse cx="412.61" cy="259.7" rx="2.44" ry="5.43" fill="none" stroke="#f2f2f7" stroke-width="1.2" transform="rotate(15 412.61 259.7)"/>
<ellipse cx="404.47" cy="269.19" rx="2.44" ry="5.43" fill="none" stroke="#f2f2f7" stroke-width="1.2" transform="rotate(15 404.47 269.19)"/>
<rect x="387.51" y="322.01" width="42.32" height="45.57" fill="#e8e8ef" stroke="none" stroke-width="0"/>
<rect x="388.87" y="323.91" width="7.05" height="42.04" fill="url(#grout)" stroke="none" stroke-width="0"/>
<rect x="420.74" y="290.0" width="9.09" height="77.58" fill="url(#grout)" stroke="none" stroke-width="0"/>
<rect x="397.01" y="324.59" width="22.78" height="40.28" fill="#24283d" stroke="none" stroke-width="0"/>
<line x1="534.95" y1="281.4" x2="534.95" y2="367.93" stroke="#f2f2f7" stroke-width="1.3"/>
<line x1="331.23" y1="246.14" x2="363.78" y2="246.14" stroke="#f2f2f7" stroke-width="1.1"/>
<line x1="331.23" y1="305.81" x2="363.78" y2="305.81" stroke="#f2f2f7" stroke-width="1.1"/>
<line x1="334.62" y1="246.14" x2="334.62" y2="420.83" stroke="#f2f2f7" stroke-width="1.1"/>
<polygon points="334.62,246.41 335.72,253.41 333.52,253.41" fill="#f2f2f7"/>
<polygon points="334.62,305.54 333.52,298.54 335.72,298.54" fill="#f2f2f7"/>
<polygon points="334.62,306.08 335.72,313.08 333.52,313.08" fill="#f2f2f7"/>
<text x="331.63" y="267.16" font-size="8.03" fill="#f2f2f7" textLength="16.95" lengthAdjust="spacingAndGlyphs" transform="rotate(-90 331.63 267.16)" stroke="#f2f2f7" stroke-width="0.6">MIN.</text>
<line x1="327.16" y1="421.83" x2="330.82" y2="421.83" stroke="#f2f2f7" stroke-width="1.1"/>
<polygon points="333.94,421.29 332.84,414.29 335.04,414.29" fill="#f2f2f7"/>
<text x="330.82" y="397.83" font-size="8.43" fill="#f2f2f7" textLength="26.45" lengthAdjust="spacingAndGlyphs" transform="rotate(-90 330.82 397.83)" stroke="#f2f2f7" stroke-width="0.6">12" MIN</text>
<text x="196.55" y="145.09" font-size="10.04" fill="#f2f2f7" textLength="79.07" lengthAdjust="spacingAndGlyphs" stroke="#f2f2f7" stroke-width="0.6">SIDING AS SPEC'D.</text>
<polyline points="275.62,141.7 377.34,153.91" fill="none" stroke="#f2f2f7" stroke-width="1"/>
<polygon points="377.34,153.91 370.26,154.17 370.52,151.98" fill="#f2f2f7"/>
<text x="196.0" y="179.68" font-size="10.04" fill="#f2f2f7" textLength="142.0" lengthAdjust="spacingAndGlyphs" stroke="#f2f2f7" stroke-width="0.6">NOM. 3/8" APA RATED SHEATHING</text>
<polyline points="289.86,174.25 382.77,174.93" fill="none" stroke="#f2f2f7" stroke-width="1"/>
<polygon points="382.77,174.93 375.76,175.98 375.78,173.78" fill="#f2f2f7"/>
<text x="196.95" y="190.8" font-size="10.04" fill="#f2f2f7" textLength="93.58" lengthAdjust="spacingAndGlyphs" stroke="#f2f2f7" stroke-width="0.6">ATTACHED PER CODE</text>
<text x="196.95" y="201.38" font-size="10.04" fill="#f2f2f7" textLength="92.23" lengthAdjust="spacingAndGlyphs" stroke="#f2f2f7" stroke-width="0.6">W/ PAPER PER BLDR.</text>
<text x="197.36" y="227.83" font-size="10.04" fill="#f2f2f7" textLength="83.68" lengthAdjust="spacingAndGlyphs" stroke="#f2f2f7" stroke-width="0.6">FLASHING AS REQ'D.</text>
<polyline points="281.04,224.16 299.35,224.16 378.29,247.49" fill="none" stroke="#f2f2f7" stroke-width="1"/>
<polygon points="378.29,247.49 371.27,246.56 371.89,244.45" fill="#f2f2f7"/>
<text x="195.6" y="278.01" font-size="10.04" fill="#f2f2f7" textLength="141.73" lengthAdjust="spacingAndGlyphs" stroke="#f2f2f7" stroke-width="0.6">8" CMU WALL (HEIGHT WILL VARY)</text>
<polyline points="302.07,273.94 386.43,300.66" fill="none" stroke="#f2f2f7" stroke-width="1"/>
<polygon points="386.43,300.66 379.42,299.59 380.09,297.50" fill="#f2f2f7"/>
<text x="195.6" y="287.5" font-size="10.04" fill="#f2f2f7" textLength="107.83" lengthAdjust="spacingAndGlyphs" stroke="#f2f2f7" stroke-width="0.6">OR 4" CMU AND 4" BRICK</text>
<text x="197.36" y="307.17" font-size="10.04" fill="#f2f2f7" textLength="64.7" lengthAdjust="spacingAndGlyphs" stroke="#f2f2f7" stroke-width="0.6">GRADE VARIES</text>
<polyline points="262.06,305.13 292.57,309.2" fill="none" stroke="#f2f2f7" stroke-width="1"/>
<text x="198.04" y="376.8" font-size="10.04" fill="#f2f2f7" textLength="25.63" lengthAdjust="spacingAndGlyphs" stroke="#f2f2f7" stroke-width="0.6">STONE</text>
<polyline points="223.67,375.18 258.67,375.18 324.45,354.42" fill="none" stroke="#f2f2f7" stroke-width="1"/>
<text x="198.72" y="395.11" font-size="10.04" fill="#f2f2f7" textLength="76.9" lengthAdjust="spacingAndGlyphs" stroke="#f2f2f7" stroke-width="0.6">PERIMETER DRAIN</text>
<polyline points="275.62,391.04 341.4,366.63" fill="none" stroke="#f2f2f7" stroke-width="1"/>
<text x="197.63" y="418.85" font-size="10.04" fill="#f2f2f7" textLength="65.1" lengthAdjust="spacingAndGlyphs" stroke="#f2f2f7" stroke-width="0.6">CONC. FTG. WITH</text>
<text x="197.63" y="429.43" font-size="10.04" fill="#f2f2f7" textLength="123.42" lengthAdjust="spacingAndGlyphs" stroke="#f2f2f7" stroke-width="0.6">REBAR (SEE STRUCT. SPECS.)</text>
<polyline points="306.81,422.24 353.88,403.25" fill="none" stroke="#f2f2f7" stroke-width="1"/>
<polygon points="353.88,403.25 347.80,406.89 346.98,404.85" fill="#f2f2f7"/>
<text x="515.01" y="147.8" font-size="10.04" fill="#f2f2f7" textLength="91.14" lengthAdjust="spacingAndGlyphs" stroke="#f2f2f7" stroke-width="0.6">OPT. R-13 INSUL. (MIN.)</text>
<polyline points="510.54,144.14 494.94,144.41 410.85,152.55" fill="none" stroke="#f2f2f7" stroke-width="1"/>
<text x="514.61" y="167.74" font-size="10.04" fill="#f2f2f7" textLength="77.31" lengthAdjust="spacingAndGlyphs" stroke="#f2f2f7" stroke-width="0.6">OPT. 1/2" DRYWALL</text>
<polyline points="508.5,164.35 411.53,164.35" fill="none" stroke="#f2f2f7" stroke-width="1"/>
<polygon points="411.53,164.35 418.53,163.25 418.53,165.45" fill="#f2f2f7"/>
<text x="513.25" y="187.14" font-size="10.04" fill="#f2f2f7" textLength="99.69" lengthAdjust="spacingAndGlyphs" stroke="#f2f2f7" stroke-width="0.6">2"x6" TRT'D SILL PLATE</text>
<polyline points="511.22,182.66 500.37,183.07 418.99,189.17" fill="none" stroke="#f2f2f7" stroke-width="1"/>
<polygon points="418.99,189.17 425.89,187.55 426.05,189.74" fill="#f2f2f7"/>
<text x="515.29" y="213.58" font-size="10.04" fill="#f2f2f7" textLength="167.5" lengthAdjust="spacingAndGlyphs" stroke="#f2f2f7" stroke-width="0.6">5/8" DIA. THREADED ROD AT 8'-0" O.C.</text>
<polyline points="511.22,209.79 494.94,209.79 430.52,200.7" fill="none" stroke="#f2f2f7" stroke-width="1"/>
<text x="515.29" y="224.44" font-size="10.04" fill="#f2f2f7" textLength="170.22" lengthAdjust="spacingAndGlyphs" stroke="#f2f2f7" stroke-width="0.6">FILL CELLS SOLID WITH 3000 PSI CONC.</text>
<text x="514.61" y="261.73" font-size="10.04" fill="#f2f2f7" textLength="90.19" lengthAdjust="spacingAndGlyphs" stroke="#f2f2f7" stroke-width="0.6">4" CONC. SLAB OVER</text>
<polyline points="511.22,259.02 493.58,259.02 453.57,300.39" fill="none" stroke="#f2f2f7" stroke-width="1"/>
<text x="514.61" y="272.58" font-size="10.04" fill="#f2f2f7" textLength="118.0" lengthAdjust="spacingAndGlyphs" stroke="#f2f2f7" stroke-width="0.6">COMPACTED FILL AS REQ'D</text>
<text x="516.91" y="381.55" font-size="10.04" fill="#f2f2f7" textLength="72.29" lengthAdjust="spacingAndGlyphs" stroke="#f2f2f7" stroke-width="0.6">VAPOR BARRIER</text>
<polyline points="514.61,376.8 501.04,376.8 473.92,324.59" fill="none" stroke="#f2f2f7" stroke-width="1"/>
<text x="516.37" y="400.95" font-size="10.04" fill="#f2f2f7" textLength="28.75" lengthAdjust="spacingAndGlyphs" stroke="#f2f2f7" stroke-width="0.6">8" CMU</text>
<polyline points="513.93,398.5 499.01,398.5 446.11,368.67" fill="none" stroke="#f2f2f7" stroke-width="1"/>
</g>
<g id="s_d">
<line x1="973.45" y1="120.55" x2="1018.7" y2="120.55" stroke="#f2f2f7" stroke-width="1.1"/>
<polyline points="990.54,120.55 995.42,111.27 997.86,125.1 1002.75,120.55" fill="none" stroke="#f2f2f7" stroke-width="1"/>
<rect x="980.29" y="120.55" width="5.86" height="132.65" fill="#e8e8ef" stroke="none" stroke-width="0"/>
<rect x="986.15" y="121.04" width="19.04" height="61.36" fill="#24283d" stroke="none" stroke-width="0"/>
<polyline points="995.67,121.04 1000.14,123.4 1003.36,125.76 1004.42,128.12 1003.03,130.48 999.57,132.84 995.02,135.2 990.65,137.56 987.69,139.92 986.96,142.28 988.68,144.64 992.35,147.0 996.96,149.36 1001.2,151.72 1003.89,154.08 1004.28,156.44 1002.25,158.8 998.37,161.16 993.74,163.52 989.65,165.88 987.24,168.24 987.2,170.6 989.53,172.96 993.58,175.32 998.22,177.68 1002.14,180.04 1004.25,182.4" fill="none" stroke="#f2f2f7" stroke-width="1.1"/>
<polyline points="995.67,121.04 991.19,123.4 987.98,125.76 986.91,128.12 988.31,130.48 991.76,132.84 996.31,135.2 1000.68,137.56 1003.65,139.92 1004.37,142.28 1002.66,144.64 998.98,147.0 994.38,149.36 990.13,151.72 987.44,154.08 987.06,156.44 989.09,158.8 992.96,161.16 997.59,163.52 1001.69,165.88 1004.09,168.24 1004.14,170.6 1001.8,172.96 997.75,175.32 993.11,177.68 989.19,180.04 987.09,182.4" fill="none" stroke="#f2f2f7" stroke-width="1.1"/>
<rect x="1005.19" y="120.55" width="5.7" height="63.15" fill="#e8e8ef" stroke="none" stroke-width="0"/>
<polygon points="1010.89,156.03 1013.82,158.47 1013.82,183.7 1010.89,183.7" fill="#e8e8ef" stroke="none" stroke-width="0"/>
<rect x="986.15" y="183.21" width="110.18" height="6.18" fill="#e8e8ef" stroke="none" stroke-width="0"/>
<line x1="1096.33" y1="166.61" x2="1096.33" y2="253.68" stroke="#f2f2f7" stroke-width="1.1"/>
<rect x="986.15" y="189.39" width="9.27" height="49.65" fill="#24283d" stroke="#f2f2f7" stroke-width="1"/>
<polyline points="986.15,189.39 995.42,239.04" fill="none" stroke="#f2f2f7" stroke-width="1"/>
<polyline points="995.42,189.39 986.15,239.04" fill="none" stroke="#f2f2f7" stroke-width="1"/>
<rect x="996.24" y="190.21" width="99.28" height="48.01" fill="#24283d" stroke="none" stroke-width="0"/>
<polyline points="996.24,214.22 1000.55,225.33 1004.87,233.43 1009.19,236.3 1013.5,233.18 1017.82,224.9 1022.14,213.72 1026.45,202.67 1030.77,194.77 1035.09,192.14 1039.4,195.51 1043.72,203.97 1048.04,215.21 1052.35,226.18 1056.67,233.9 1060.99,236.27 1065.3,232.65 1069.62,224.02 1073.94,212.73 1078.25,201.84 1082.57,194.31 1086.89,192.2 1091.2,196.06 1095.52,204.86" fill="none" stroke="#f2f2f7" stroke-width="1.1"/>
<polyline points="996.24,214.22 1000.55,203.1 1004.87,195.01 1009.19,192.13 1013.5,195.26 1017.82,203.53 1022.14,214.71 1026.45,225.76 1030.77,233.67 1035.09,236.29 1039.4,232.92 1043.72,224.46 1048.04,213.22 1052.35,202.25 1056.67,194.54 1060.99,192.16 1065.3,195.78 1069.62,204.41 1073.94,215.7 1078.25,226.59 1082.57,234.12 1086.89,236.23 1091.2,232.37 1095.52,223.57" fill="none" stroke="#f2f2f7" stroke-width="1.1"/>
<line x1="986.15" y1="239.04" x2="1096.33" y2="239.04" stroke="#f2f2f7" stroke-width="1.2"/>
<line x1="995.42" y1="240.66" x2="1096.33" y2="240.66" stroke="#f2f2f7" stroke-width="0.8"/>
<polyline points="1014.14,243.92 1085.76,206.48 1110.17,211.37 1085.76,218.69 1093.08,222.76 1096.33,222.76" fill="none" stroke="#f2f2f7" stroke-width="1"/>
<rect x="986.15" y="240.34" width="27.99" height="7.16" fill="#24283d" stroke="#f2f2f7" stroke-width="1"/>
<polyline points="986.15,240.34 1000.31,247.5 1014.14,240.34" fill="none" stroke="#f2f2f7" stroke-width="0.9"/>
<polyline points="986.15,247.5 1000.31,240.34 1014.14,247.5" fill="none" stroke="#f2f2f7" stroke-width="0.9"/>
<rect x="998.68" y="234.97" width="12.21" height="4.07" fill="#e8e8ef" stroke="none" stroke-width="0"/>
<line x1="908.02" y1="253.2" x2="964.5" y2="253.2" stroke="#f2f2f7" stroke-width="1.1"/>
<line x1="911.28" y1="252.93" x2="911.28" y2="479.49" stroke="#f2f2f7" stroke-width="1.1"/>
<line x1="894.51" y1="342.29" x2="964.5" y2="342.29" stroke="#f2f2f7" stroke-width="1.1"/>
<line x1="908.02" y1="479.49" x2="922.99" y2="479.49" stroke="#f2f2f7" stroke-width="1.1"/>
<polygon points="911.28,253.26 912.38,260.26 910.18,260.26" fill="#f2f2f7"/>
<polygon points="911.28,341.96 910.18,334.96 912.38,334.96" fill="#f2f2f7"/>
<polygon points="911.28,342.61 912.38,349.61 910.18,349.61" fill="#f2f2f7"/>
<polygon points="911.28,479.17 910.18,472.17 912.38,472.17" fill="#f2f2f7"/>
<text x="907.53" y="308.59" font-size="10.6" fill="#f2f2f7" textLength="28.48" lengthAdjust="spacingAndGlyphs" transform="rotate(-90 907.53 308.59)" stroke="#f2f2f7" stroke-width="0.6">6" MIN.</text>
<text x="907.53" y="420.08" font-size="10.6" fill="#f2f2f7" textLength="27.99" lengthAdjust="spacingAndGlyphs" transform="rotate(-90 907.53 420.08)" stroke="#f2f2f7" stroke-width="0.6">12" MIN.</text>
<rect x="982.89" y="248.37" width="18.88" height="132.81" fill="#e8e8ef" stroke="none" stroke-width="0"/>
<rect x="984.19" y="249.35" width="16.93" height="19.86" fill="url(#brick)" stroke="none" stroke-width="0"/>
<rect x="984.19" y="270.83" width="16.93" height="20.84" fill="url(#brick)" stroke="none" stroke-width="0"/>
<rect x="984.19" y="293.29" width="16.93" height="20.67" fill="url(#brick)" stroke="none" stroke-width="0"/>
<rect x="984.19" y="315.59" width="16.93" height="20.35" fill="url(#brick)" stroke="none" stroke-width="0"/>
<rect x="984.19" y="337.57" width="16.93" height="20.34" fill="url(#brick)" stroke="none" stroke-width="0"/>
<rect x="984.19" y="359.54" width="16.93" height="20.34" fill="url(#brick)" stroke="none" stroke-width="0"/>
<rect x="1001.77" y="248.37" width="4.56" height="218.1" fill="#e8e8ef" stroke="none" stroke-width="0"/>
<line x1="1004.05" y1="248.37" x2="1004.05" y2="464.52" stroke="#24283d" stroke-width="1.4" stroke-dasharray="3 2.2"/>
<rect x="974.26" y="462.08" width="32.07" height="4.72" fill="#e8e8ef" stroke="none" stroke-width="0"/>
<line x1="975.4" y1="464.52" x2="1004.38" y2="464.52" stroke="#24283d" stroke-width="1.4" stroke-dasharray="3 2.2"/>
<rect x="1006.82" y="248.37" width="23.11" height="176.6" fill="url(#grout)" stroke="none" stroke-width="0"/>
<rect x="1016.26" y="248.37" width="3.74" height="11.4" fill="#24283d" stroke="none" stroke-width="0"/>
<rect x="1016.26" y="263.83" width="3.74" height="26.86" fill="#24283d" stroke="none" stroke-width="0"/>
<rect x="1016.26" y="293.62" width="3.74" height="41.02" fill="#24283d" stroke="none" stroke-width="0"/>
<rect x="1016.26" y="338.7" width="3.74" height="39.88" fill="#24283d" stroke="none" stroke-width="0"/>
<line x1="982.89" y1="381.18" x2="1029.93" y2="381.18" stroke="#f2f2f7" stroke-width="1.3"/>
<rect x="982.89" y="381.84" width="7.98" height="43.13" fill="url(#grout)" stroke="none" stroke-width="0"/>
<rect x="992.01" y="382.49" width="9.76" height="41.99" fill="#24283d" stroke="none" stroke-width="0"/>
<rect x="1006.82" y="382.49" width="13.34" height="41.99" fill="#24283d" stroke="none" stroke-width="0"/>
<path d="M1001.0 422.0h0.7v0.7h-0.7zM993.1 417.5h1.0v1.0h-1.0zM998.4 396.0h1.0v1.0h-1.0zM997.9 407.1h0.7v0.7h-0.7z" fill="#f2f2f7"/>
<path d="M995.7 396.3L998.0 400.1L994.8 400.7zM998.3 421.2L1002.7 420.8L1001.9 423.9z" fill="none" stroke="#f2f2f7" stroke-width="0.8"/>
<path d="M1010.3 387.7h0.8v0.8h-0.8zM1009.2 386.2h0.8v0.8h-0.8zM1018.8 416.0h1.0v1.0h-1.0zM1010.1 405.3h0.8v0.8h-0.8z" fill="#f2f2f7"/>
<path d="M1010.2 390.9L1007.7 387.2L1010.8 386.5zM1020.0 414.2L1020.1 418.6L1017.1 417.5zM1016.2 394.3L1016.2 389.9L1019.2 391.1z" fill="none" stroke="#f2f2f7" stroke-width="0.8"/>
<polygon points="922.18,349.61 982.4,341.15 982.4,381.84 971.82,375.33 957.17,362.3 939.27,357.42 931.13,354.17" fill="url(#earth)" stroke="none" stroke-width="0"/>
<polyline points="885.56,353.35 982.4,341.15" fill="none" stroke="#f2f2f7" stroke-width="1.1"/>
<polygon points="950.99,424.48 957.17,414.39 962.06,401.37 971.82,394.86 979.15,395.67 982.4,400.55 982.4,424.97" fill="url(#stone)" stroke="none" stroke-width="0"/>
<circle cx="975.4" cy="417.97" r="5.53" fill="#24283d" stroke="#f2f2f7" stroke-width="1.6"/>
<rect x="938.46" y="424.97" width="131.51" height="54.52" fill="#24283d" stroke="#f2f2f7" stroke-width="1.7"/>
<path d="M981.6 434.3h1.0v1.0h-1.0zM949.4 454.1h0.8v0.8h-0.8zM947.5 452.6h0.7v0.7h-0.7zM995.7 430.2h0.7v0.7h-0.7zM994.5 469.0h0.7v0.7h-0.7zM968.7 458.8h1.1v1.1h-1.1zM1014.1 446.9h1.2v1.2h-1.2zM946.1 470.6h0.8v0.8h-0.8zM958.6 432.6h0.8v0.8h-0.8zM1044.8 435.9h0.9v0.9h-0.9zM1022.0 445.7h0.9v0.9h-0.9zM948.1 429.6h0.7v0.7h-0.7zM1027.3 448.5h0.8v0.8h-0.8zM1015.2 449.8h0.8v0.8h-0.8zM1042.0 462.4h0.8v0.8h-0.8zM1013.8 453.5h1.1v1.1h-1.1zM1033.6 441.4h1.2v1.2h-1.2zM955.2 448.0h1.0v1.0h-1.0zM959.6 451.7h0.7v0.7h-0.7zM1025.8 465.8h0.9v0.9h-0.9zM1052.4 442.7h1.0v1.0h-1.0zM1016.3 456.3h0.9v0.9h-0.9zM1047.8 475.0h0.9v0.9h-0.9zM1025.3 429.7h1.0v1.0h-1.0zM1023.1 477.5h1.1v1.1h-1.1zM976.6 446.4h1.0v1.0h-1.0zM943.0 450.3h0.7v0.7h-0.7zM955.1 429.6h1.0v1.0h-1.0zM956.7 439.3h0.8v0.8h-0.8zM1051.8 430.7h0.9v0.9h-0.9zM1010.5 471.9h1.1v1.1h-1.1zM1050.9 440.9h0.9v0.9h-0.9zM986.1 471.9h1.1v1.1h-1.1zM959.4 435.6h0.8v0.8h-0.8zM970.0 451.5h0.9v0.9h-0.9zM973.8 426.8h0.9v0.9h-0.9zM987.4 455.6h1.1v1.1h-1.1zM1028.6 453.0h1.0v1.0h-1.0zM1026.8 429.4h1.1v1.1h-1.1zM1040.1 471.4h1.1v1.1h-1.1zM990.4 447.1h0.7v0.7h-0.7zM1021.4 429.8h0.7v0.7h-0.7zM966.9 434.9h0.8v0.8h-0.8zM946.8 426.6h0.7v0.7h-0.7zM953.1 445.2h0.6v0.6h-0.6zM1052.2 458.1h0.7v0.7h-0.7zM972.4 444.4h0.8v0.8h-0.8zM955.8 470.1h1.2v1.2h-1.2zM999.9 451.4h0.7v0.7h-0.7zM953.2 444.2h0.8v0.8h-0.8zM1046.4 434.9h0.6v0.6h-0.6zM1062.0 453.7h0.7v0.7h-0.7zM1009.8 428.0h0.9v0.9h-0.9zM1065.6 470.9h1.0v1.0h-1.0zM973.6 445.4h0.7v0.7h-0.7zM1039.1 453.9h1.1v1.1h-1.1zM982.4 438.0h1.1v1.1h-1.1zM1066.4 470.3h1.1v1.1h-1.1zM1045.0 464.5h0.8v0.8h-0.8zM1006.5 444.8h0.6v0.6h-0.6zM943.7 440.9h0.8v0.8h-0.8zM1028.9 475.6h0.9v0.9h-0.9zM1060.3 477.2h1.1v1.1h-1.1zM986.9 437.9h0.8v0.8h-0.8zM965.3 437.1h1.0v1.0h-1.0zM1055.5 469.7h0.9v0.9h-0.9zM1023.8 467.6h0.7v0.7h-0.7zM1024.8 473.2h1.1v1.1h-1.1zM1036.3 451.1h0.7v0.7h-0.7zM1041.3 443.6h1.1v1.1h-1.1zM1064.7 446.9h0.8v0.8h-0.8zM1061.5 463.8h0.7v0.7h-0.7zM956.4 434.3h1.1v1.1h-1.1zM1043.5 434.1h1.1v1.1h-1.1zM1065.8 460.3h0.8v0.8h-0.8zM1010.5 433.3h0.6v0.6h-0.6zM1064.6 459.9h0.9v0.9h-0.9zM1059.8 448.8h1.1v1.1h-1.1zM1046.0 437.4h0.8v0.8h-0.8zM977.7 438.9h0.9v0.9h-0.9zM973.4 448.1h0.7v0.7h-0.7zM1056.8 444.7h0.9v0.9h-0.9zM1014.9 473.0h0.9v0.9h-0.9zM1057.8 452.3h0.9v0.9h-0.9zM1007.2 427.6h0.9v0.9h-0.9zM963.6 426.8h1.1v1.1h-1.1zM962.2 450.9h1.0v1.0h-1.0zM1011.5 443.3h0.9v0.9h-0.9zM1011.3 466.8h0.7v0.7h-0.7zM1012.0 439.3h0.8v0.8h-0.8zM1039.1 452.6h0.9v0.9h-0.9zM1037.6 473.4h0.9v0.9h-0.9zM1018.6 452.5h0.9v0.9h-0.9zM1028.9 449.8h0.9v0.9h-0.9zM1001.4 474.9h1.0v1.0h-1.0zM1052.5 474.9h0.8v0.8h-0.8zM1011.9 475.0h1.1v1.1h-1.1zM957.7 432.8h0.9v0.9h-0.9zM949.4 438.9h0.7v0.7h-0.7zM1026.0 466.8h1.1v1.1h-1.1zM959.9 463.3h1.0v1.0h-1.0zM958.4 471.9h1.2v1.2h-1.2zM968.2 475.4h0.8v0.8h-0.8zM1002.6 477.4h1.1v1.1h-1.1zM960.8 448.7h0.9v0.9h-0.9zM983.6 436.6h0.8v0.8h-0.8zM1032.7 427.6h0.9v0.9h-0.9zM996.6 427.5h0.8v0.8h-0.8zM1020.1 452.9h0.7v0.7h-0.7zM1066.4 467.0h1.2v1.2h-1.2z" fill="#f2f2f7"/>
<path d="M956.6 441.0L952.2 441.5L953.0 438.4zM1042.2 442.8L1038.2 440.9L1040.5 438.7zM995.6 470.4L995.3 474.8L992.4 473.5zM976.1 432.7L973.2 436.1L971.7 433.3zM1016.0 464.2L1011.6 463.4L1013.3 460.7zM944.6 463.3L947.6 460.0L949.0 462.9zM947.2 472.3L951.2 474.3L948.8 476.4zM1044.9 428.4L1043.6 432.6L1041.1 430.6zM945.5 471.8L949.1 469.0L950.0 472.1zM986.5 453.5L983.5 456.8L982.0 453.9z" fill="none" stroke="#f2f2f7" stroke-width="0.8"/>
<rect x="951.48" y="447.75" width="102.54" height="4.07" fill="#e8e8ef" stroke="none" stroke-width="0"/>
<line x1="952.62" y1="449.87" x2="1053.2" y2="449.87" stroke="#24283d" stroke-width="1.3" stroke-dasharray="3.5 2.5"/>
<circle cx="956.36" cy="456.38" r="3.42" fill="#f2f2f7" stroke="none" stroke-width="0"/>
<circle cx="1049.13" cy="455.89" r="3.42" fill="#f2f2f7" stroke="none" stroke-width="0"/>
<circle cx="997.05" cy="456.38" r="3.09" fill="url(#hd)" stroke="#f2f2f7" stroke-width="1"/>
<rect x="974.26" y="462.08" width="32.07" height="4.72" fill="#e8e8ef" stroke="none" stroke-width="0"/>
<line x1="975.4" y1="464.52" x2="1004.38" y2="464.52" stroke="#24283d" stroke-width="1.4" stroke-dasharray="3 2.2"/>
<rect x="1001.77" y="424.97" width="4.56" height="41.5" fill="#e8e8ef" stroke="none" stroke-width="0"/>
<line x1="1004.05" y1="424.97" x2="1004.05" y2="464.52" stroke="#24283d" stroke-width="1.4" stroke-dasharray="3 2.2"/>
<text x="784.97" y="328.94" font-size="10.6" fill="#f2f2f7" textLength="125.81" lengthAdjust="spacingAndGlyphs" stroke="#f2f2f7" stroke-width="0.6">WATERPROOFING (PER BLDR.)</text>
<polyline points="906.72,327.31 955.55,342.77" fill="none" stroke="#f2f2f7" stroke-width="1"/>
<text x="784.32" y="346.35" font-size="10.6" fill="#f2f2f7" textLength="64.13" lengthAdjust="spacingAndGlyphs" stroke="#f2f2f7" stroke-width="0.6">GRADE VARIES</text>
<polyline points="848.45,343.1 888.0,352.86" fill="none" stroke="#f2f2f7" stroke-width="1"/>
<text x="784.97" y="365.23" font-size="10.6" fill="#f2f2f7" textLength="25.72" lengthAdjust="spacingAndGlyphs" stroke="#f2f2f7" stroke-width="0.6">STONE</text>
<polyline points="810.69,361.0 851.38,361.0 959.62,401.37" fill="none" stroke="#f2f2f7" stroke-width="1"/>
<text x="784.97" y="394.53" font-size="10.6" fill="#f2f2f7" textLength="76.99" lengthAdjust="spacingAndGlyphs" stroke="#f2f2f7" stroke-width="0.6">PERIMETER DRAIN</text>
<polyline points="861.96,390.3 888.0,390.3 957.17,412.76" fill="none" stroke="#f2f2f7" stroke-width="1"/>
<text x="783.83" y="85.23" font-size="10.6" fill="#f2f2f7" textLength="141.6" lengthAdjust="spacingAndGlyphs" stroke="#f2f2f7" stroke-width="0.6">NOM. 3/8" APA RATED SHEATHING</text>
<text x="783.83" y="94.99" font-size="10.6" fill="#f2f2f7" textLength="91.96" lengthAdjust="spacingAndGlyphs" stroke="#f2f2f7" stroke-width="0.6">W/ PAPER PER BLDR.</text>
<polyline points="879.86,92.06 898.58,92.06 979.96,125.1" fill="none" stroke="#f2f2f7" stroke-width="1"/>
<text x="785.46" y="113.39" font-size="10.6" fill="#f2f2f7" textLength="69.5" lengthAdjust="spacingAndGlyphs" stroke="#f2f2f7" stroke-width="0.6">R-13 INSUL. (MIN.)</text>
<polyline points="854.96,108.34 867.66,108.34 979.96,135.68" fill="none" stroke="#f2f2f7" stroke-width="1"/>
<text x="784.97" y="130.8" font-size="10.6" fill="#f2f2f7" textLength="78.61" lengthAdjust="spacingAndGlyphs" stroke="#f2f2f7" stroke-width="0.6">SIDING AS SPEC'D.</text>
<polyline points="863.59,126.41 874.17,126.41 979.15,153.1" fill="none" stroke="#f2f2f7" stroke-width="1"/>
<text x="785.46" y="147.08" font-size="10.6" fill="#f2f2f7" textLength="52.08" lengthAdjust="spacingAndGlyphs" stroke="#f2f2f7" stroke-width="0.6">SOLE PLATE</text>
<polyline points="837.55,143.5 863.59,143.5 979.96,174.75" fill="none" stroke="#f2f2f7" stroke-width="1"/>
<text x="785.79" y="206.48" font-size="10.6" fill="#f2f2f7" textLength="101.07" lengthAdjust="spacingAndGlyphs" stroke="#f2f2f7" stroke-width="0.6">2 x BAND (SEE STRUCT.)</text>
<polyline points="886.86,204.04 979.96,204.04" fill="none" stroke="#f2f2f7" stroke-width="1"/>
<text x="787.09" y="230.08" font-size="10.6" fill="#f2f2f7" textLength="68.36" lengthAdjust="spacingAndGlyphs" stroke="#f2f2f7" stroke-width="0.6">R-19 INSUL. (MIN.)</text>
<polyline points="855.45,226.83 981.59,221.13" fill="none" stroke="#f2f2f7" stroke-width="1"/>
<polyline points="995.42,220.48 1004.38,220.16" fill="none" stroke="#f2f2f7" stroke-width="1"/>
<polygon points="1004.38,220.16 997.42,221.51 997.35,219.31" fill="#f2f2f7"/>
<text x="1123.37" y="108.34" font-size="10.6" fill="#f2f2f7" textLength="55.99" lengthAdjust="spacingAndGlyphs" stroke="#f2f2f7" stroke-width="0.6">1/2" DRYWALL</text>
<polyline points="1121.26,104.76 1093.59,104.76 1010.58,134.06" fill="none" stroke="#f2f2f7" stroke-width="1"/>
<text x="1123.7" y="124.29" font-size="10.6" fill="#f2f2f7" textLength="112.3" lengthAdjust="spacingAndGlyphs" stroke="#f2f2f7" stroke-width="0.6">BASE MOULD (PER BLDR.)</text>
<polyline points="1121.26,121.04 1096.03,121.04 1013.02,162.54" fill="none" stroke="#f2f2f7" stroke-width="1"/>
<text x="1123.37" y="140.08" font-size="10.6" fill="#f2f2f7" textLength="187.5" lengthAdjust="spacingAndGlyphs" stroke="#f2f2f7" stroke-width="0.6">3/4" APA RATED SHEATHING UNDERLAYMENT</text>
<polyline points="1121.26,136.5 1102.86,136.5 1065.1,182.4" fill="none" stroke="#f2f2f7" stroke-width="1"/>
<text x="1123.37" y="150.82" font-size="10.6" fill="#f2f2f7" textLength="53.22" lengthAdjust="spacingAndGlyphs" stroke="#f2f2f7" stroke-width="0.6">(PER BLDR.)</text>
<text x="1122.88" y="210.07" font-size="10.6" fill="#f2f2f7" textLength="113.12" lengthAdjust="spacingAndGlyphs" stroke="#f2f2f7" stroke-width="0.6">(2) 2"x6" TRT'D SILL PLATE</text>
<line x1="1119.63" y1="206.48" x2="1085.45" y2="206.48" stroke="#f2f2f7" stroke-width="1"/>
<text x="1122.88" y="266.38" font-size="10.6" fill="#f2f2f7" textLength="166.5" lengthAdjust="spacingAndGlyphs" stroke="#f2f2f7" stroke-width="0.6">5/8" DIA. THREADED ROD AT 8'-0" O.C.</text>
<polyline points="1121.26,263.12 1030.11,263.12" fill="none" stroke="#f2f2f7" stroke-width="1"/>
<text x="1122.88" y="277.61" font-size="10.6" fill="#f2f2f7" textLength="170.08" lengthAdjust="spacingAndGlyphs" stroke="#f2f2f7" stroke-width="0.6">FILL CELLS SOLID WITH 3000 PSI CONC.</text>
<text x="1124.51" y="355.79" font-size="10.6" fill="#f2f2f7" textLength="28.16" lengthAdjust="spacingAndGlyphs" stroke="#f2f2f7" stroke-width="0.6">4" CMU</text>
<polyline points="1122.07,352.86 1030.92,352.86" fill="none" stroke="#f2f2f7" stroke-width="1"/>
<polygon points="1030.92,352.86 1037.92,351.76 1037.92,353.96" fill="#f2f2f7"/>
<text x="1124.51" y="367.51" font-size="10.6" fill="#f2f2f7" textLength="75.36" lengthAdjust="spacingAndGlyphs" stroke="#f2f2f7" stroke-width="0.6">4" BRICK VENEER</text>
<polyline points="1122.07,365.23 997.88,365.23" fill="none" stroke="#f2f2f7" stroke-width="1"/>
<text x="1124.51" y="379.39" font-size="10.6" fill="#f2f2f7" textLength="93.59" lengthAdjust="spacingAndGlyphs" stroke="#f2f2f7" stroke-width="0.6">JOINT REINFORCEMENT</text>
<polyline points="1121.26,381.02 1030.92,381.02" fill="none" stroke="#f2f2f7" stroke-width="1"/>
<polygon points="1030.92,381.02 1037.92,379.92 1037.92,382.12" fill="#f2f2f7"/>
<text x="1124.51" y="390.79" font-size="10.6" fill="#f2f2f7" textLength="96.03" lengthAdjust="spacingAndGlyphs" stroke="#f2f2f7" stroke-width="0.6">EVERY OTHER COURSE</text>
<text x="1124.51" y="402.18" font-size="10.6" fill="#f2f2f7" textLength="81.87" lengthAdjust="spacingAndGlyphs" stroke="#f2f2f7" stroke-width="0.6">VERTICAL (16" O.C.)</text>
<text x="1127.77" y="441.73" font-size="10.6" fill="#f2f2f7" textLength="65.92" lengthAdjust="spacingAndGlyphs" stroke="#f2f2f7" stroke-width="0.6">CONC. FTG. WITH</text>
<polyline points="1120.12,440.43 1070.8,440.43" fill="none" stroke="#f2f2f7" stroke-width="1"/>
<polygon points="1070.80,440.43 1077.80,439.33 1077.80,441.53" fill="#f2f2f7"/>
<text x="1124.51" y="454.26" font-size="10.6" fill="#f2f2f7" textLength="124.51" lengthAdjust="spacingAndGlyphs" stroke="#f2f2f7" stroke-width="0.6">REBAR (SEE STRUCT. SPECS.)</text>
</g>
<g id="s_e">
<polyline points="1576.93,214.74 1467.06,214.74 1421.49,294.17" fill="none" stroke="#f2f2f7" stroke-width="1"/>
<line x1="1476.83" y1="230.69" x2="1520.77" y2="230.69" stroke="#f2f2f7" stroke-width="1.1"/>
<polyline points="1491.48,230.69 1495.55,220.92 1498.8,235.57 1502.87,230.69" fill="none" stroke="#f2f2f7" stroke-width="1"/>
<rect x="1483.83" y="230.69" width="5.21" height="63.48" fill="#e8e8ef" stroke="none" stroke-width="0"/>
<polygon points="1483.83,271.38 1481.71,273.33 1481.71,294.17 1483.83,294.17" fill="#e8e8ef" stroke="none" stroke-width="0"/>
<rect x="1489.04" y="231.5" width="16.27" height="62.67" fill="#24283d" stroke="none" stroke-width="0"/>
<polyline points="1497.17,231.5 1500.96,233.15 1503.71,234.8 1504.66,236.45 1503.55,238.1 1500.69,239.75 1496.87,241.4 1493.12,243.05 1490.49,244.7 1489.7,246.35 1490.96,247.99 1493.93,249.64 1497.79,251.29 1501.48,252.94 1503.99,254.59 1504.62,256.24 1503.21,257.89 1500.13,259.54 1496.25,261.19 1492.62,262.84 1490.24,264.48 1489.77,266.13 1491.33,267.78 1494.5,269.43 1498.41,271.08 1501.97,272.73 1504.22,274.38 1504.53,276.03 1502.82,277.68 1499.56,279.33 1495.64,280.97 1492.14,282.62 1490.03,284.27 1489.88,285.92 1491.74,287.57 1495.09,289.22 1499.01,290.87 1502.43,292.52 1504.41,294.17" fill="none" stroke="#f2f2f7" stroke-width="1.1"/>
<polyline points="1497.17,231.5 1493.39,233.15 1490.64,234.8 1489.69,236.45 1490.8,238.1 1493.66,239.75 1497.48,241.4 1501.23,243.05 1503.85,244.7 1504.65,246.35 1503.39,247.99 1500.42,249.64 1496.56,251.29 1492.87,252.94 1490.36,254.59 1489.73,256.24 1491.14,257.89 1494.21,259.54 1498.1,261.19 1501.73,262.84 1504.11,264.48 1504.58,266.13 1503.02,267.78 1499.85,269.43 1495.94,271.08 1492.38,272.73 1490.13,274.38 1489.82,276.03 1491.53,277.68 1494.79,279.33 1498.71,280.97 1502.21,282.62 1504.32,284.27 1504.47,285.92 1502.61,287.57 1499.26,289.22 1495.34,290.87 1491.92,292.52 1489.94,294.17" fill="none" stroke="#f2f2f7" stroke-width="1.1"/>
<rect x="1505.31" y="230.69" width="6.51" height="71.61" fill="#e8e8ef" stroke="none" stroke-width="0"/>
<line x1="1396.26" y1="294.17" x2="1486.6" y2="294.17" stroke="#f2f2f7" stroke-width="1.5"/>
<path d="M1479.9 314.3h0.9v0.9h-0.9zM1450.0 302.6h0.9v0.9h-0.9zM1406.2 307.6h0.7v0.7h-0.7zM1469.7 323.8h0.7v0.7h-0.7zM1485.0 335.0h1.0v1.0h-1.0zM1452.5 301.5h0.6v0.6h-0.6zM1444.8 297.4h0.7v0.7h-0.7zM1419.3 296.2h0.9v0.9h-0.9zM1438.5 306.5h1.2v1.2h-1.2zM1486.2 329.9h1.0v1.0h-1.0zM1425.9 304.5h0.8v0.8h-0.8zM1473.0 295.0h0.7v0.7h-0.7zM1478.6 314.5h1.2v1.2h-1.2zM1433.1 298.0h1.0v1.0h-1.0zM1467.0 306.2h0.7v0.7h-0.7zM1465.1 299.9h0.8v0.8h-0.8zM1406.8 297.5h1.1v1.1h-1.1zM1437.6 302.9h1.0v1.0h-1.0zM1408.2 312.4h0.7v0.7h-0.7zM1469.2 307.6h1.1v1.1h-1.1zM1416.6 311.3h1.1v1.1h-1.1zM1454.8 299.1h1.2v1.2h-1.2zM1416.8 305.7h1.0v1.0h-1.0zM1427.1 307.3h0.7v0.7h-0.7zM1430.9 313.8h1.1v1.1h-1.1z" fill="#f2f2f7"/>
<path d="M1476.6 305.2L1472.9 302.7L1475.5 300.9zM1478.5 332.1L1476.9 328.0L1480.1 328.0zM1484.4 302.1L1480.9 304.9L1479.9 301.9zM1473.3 321.6L1476.2 318.2L1477.7 321.0zM1410.2 295.8L1406.6 298.4L1405.8 295.3zM1452.3 310.0L1449.0 307.1L1451.8 305.6zM1462.2 301.0L1460.1 297.1L1463.2 296.7zM1455.2 305.0L1452.4 308.4L1450.8 305.7zM1415.6 298.9L1414.5 294.6L1417.7 294.9zM1438.9 300.4L1435.6 297.4L1438.4 296.0zM1412.0 308.0L1409.9 311.8L1407.8 309.4zM1483.7 319.2L1486.7 322.5L1483.7 323.7zM1452.9 301.5L1448.5 302.2L1449.2 299.1zM1463.0 329.1L1464.9 333.1L1461.8 333.4z" fill="none" stroke="#f2f2f7" stroke-width="0.8"/>
<polygon points="1396.26,314.51 1445.9,314.51 1464.62,335.67 1474.39,336.48 1474.39,424.38 1460.55,424.38 1460.55,340.55 1442.16,321.02 1396.26,321.02" fill="url(#grout)" stroke="none" stroke-width="0"/>
<rect x="1396.26" y="314.51" width="48.83" height="6.51" fill="#e8e8ef" stroke="none" stroke-width="0" opacity="0.55"/>
<polygon points="1401.15,321.84 1442.65,321.84 1460.55,341.37 1460.55,357.64 1453.23,351.13 1440.21,341.37 1427.19,334.86 1414.17,328.35" fill="url(#earth)" stroke="none" stroke-width="0"/>
<rect x="1487.08" y="294.98" width="23.12" height="41.5" fill="#e8e8ef" stroke="none" stroke-width="0"/>
<rect x="1488.06" y="295.47" width="21.16" height="12.53" fill="url(#hd)" stroke="none" stroke-width="0"/>
<rect x="1488.06" y="309.63" width="21.16" height="12.21" fill="url(#hd)" stroke="none" stroke-width="0"/>
<rect x="1488.06" y="323.46" width="21.16" height="12.21" fill="url(#hd)" stroke="none" stroke-width="0"/>
<rect x="1474.71" y="337.3" width="26.05" height="87.08" fill="#24283d" stroke="none" stroke-width="0"/>
<rect x="1500.76" y="337.3" width="9.76" height="87.08" fill="url(#grout)" stroke="none" stroke-width="0"/>
<line x1="1474.39" y1="337.3" x2="1510.52" y2="337.3" stroke="#f2f2f7" stroke-width="1.2"/>
<line x1="1474.39" y1="363.83" x2="1510.52" y2="363.83" stroke="#f2f2f7" stroke-width="1.2"/>
<line x1="1474.39" y1="380.43" x2="1510.52" y2="380.43" stroke="#f2f2f7" stroke-width="1.6"/>
<path d="M1487.2 394.0h1.0v1.0h-1.0zM1479.4 339.8h0.8v0.8h-0.8zM1482.5 406.9h1.0v1.0h-1.0zM1490.2 385.7h1.0v1.0h-1.0zM1479.4 375.8h0.7v0.7h-0.7zM1497.4 343.9h1.1v1.1h-1.1z" fill="#f2f2f7"/>
<path d="M1476.1 399.3L1476.9 394.9L1479.6 396.5zM1488.8 409.9L1484.5 411.0L1484.8 407.9zM1474.2 415.5L1478.5 414.1L1478.3 417.3zM1481.2 420.6L1477.8 423.5L1476.8 420.5zM1480.8 376.8L1476.9 374.8L1479.3 372.7zM1485.1 393.8L1481.6 391.1L1484.3 389.4zM1494.0 346.1L1490.6 343.2L1493.4 341.7z" fill="none" stroke="#f2f2f7" stroke-width="0.8"/>
<polyline points="1493.92,337.3 1493.92,456.93 1476.02,456.93 1476.02,461.0 1497.17,461.0" fill="none" stroke="#f2f2f7" stroke-width="1.3" stroke-dasharray="4 2"/>
<line x1="1528.1" y1="302.3" x2="1555.77" y2="302.3" stroke="#f2f2f7" stroke-width="1"/>
<line x1="1526.47" y1="329.49" x2="1555.77" y2="329.49" stroke="#f2f2f7" stroke-width="1"/>
<line x1="1552.51" y1="302.3" x2="1552.51" y2="329.49" stroke="#f2f2f7" stroke-width="1"/>
<polygon points="1552.51,302.63 1553.61,309.63 1551.41,309.63" fill="#f2f2f7"/>
<polygon points="1552.51,329.16 1551.41,322.16 1553.61,322.16" fill="#f2f2f7"/>
<text x="1549.58" y="325.42" font-size="10.6" fill="#f2f2f7" textLength="18.72" lengthAdjust="spacingAndGlyphs" transform="rotate(-90 1549.58 325.42)" stroke="#f2f2f7" stroke-width="0.6">6" MIN.</text>
<line x1="1567.65" y1="331.6" x2="1567.65" y2="477.76" stroke="#f2f2f7" stroke-width="1"/>
<polygon points="1567.65,477.76 1566.55,470.76 1568.75,470.76" fill="#f2f2f7"/>
<polygon points="1567.65,331.93 1568.75,338.93 1566.55,338.93" fill="#f2f2f7"/>
<text x="1565.21" y="408.1" font-size="10.6" fill="#f2f2f7" textLength="26.86" lengthAdjust="spacingAndGlyphs" transform="rotate(-90 1565.21 408.1)" stroke="#f2f2f7" stroke-width="0.6">12" MIN.</text>
<polygon points="1510.52,331.28 1573.67,334.04 1570.42,342.18 1510.52,338.93" fill="#e8e8ef" stroke="none" stroke-width="0"/>
<line x1="1512.64" y1="332.42" x2="1512.64" y2="339.41" stroke="#24283d" stroke-width="0.9"/>
<line x1="1517.03" y1="332.61" x2="1517.03" y2="339.61" stroke="#24283d" stroke-width="0.9"/>
<line x1="1521.43" y1="332.81" x2="1521.43" y2="339.8" stroke="#24283d" stroke-width="0.9"/>
<line x1="1525.82" y1="333.0" x2="1525.82" y2="340.0" stroke="#24283d" stroke-width="0.9"/>
<line x1="1530.21" y1="333.2" x2="1530.21" y2="340.2" stroke="#24283d" stroke-width="0.9"/>
<line x1="1534.61" y1="333.39" x2="1534.61" y2="340.39" stroke="#24283d" stroke-width="0.9"/>
<line x1="1539.0" y1="333.59" x2="1539.0" y2="340.59" stroke="#24283d" stroke-width="0.9"/>
<line x1="1543.4" y1="333.78" x2="1543.4" y2="340.78" stroke="#24283d" stroke-width="0.9"/>
<line x1="1547.79" y1="333.98" x2="1547.79" y2="340.98" stroke="#24283d" stroke-width="0.9"/>
<line x1="1552.19" y1="334.17" x2="1552.19" y2="341.17" stroke="#24283d" stroke-width="0.9"/>
<line x1="1556.58" y1="334.37" x2="1556.58" y2="341.37" stroke="#24283d" stroke-width="0.9"/>
<line x1="1560.98" y1="334.56" x2="1560.98" y2="341.56" stroke="#24283d" stroke-width="0.9"/>
<line x1="1565.37" y1="334.76" x2="1565.37" y2="341.76" stroke="#24283d" stroke-width="0.9"/>
<line x1="1569.77" y1="334.95" x2="1569.77" y2="341.95" stroke="#24283d" stroke-width="0.9"/>
<line x1="1511.82" y1="335.83" x2="1570.42" y2="338.44" stroke="#24283d" stroke-width="0.9"/>
<polygon points="1429.63,424.38 1436.95,408.1 1448.35,396.71 1457.3,395.89 1460.55,401.59 1460.55,424.38" fill="url(#stone)" stroke="none" stroke-width="0"/>
<circle cx="1453.23" cy="417.05" r="5.53" fill="#24283d" stroke="#f2f2f7" stroke-width="1.6"/>
<rect x="1423.12" y="424.38" width="131.02" height="54.36" fill="#24283d" stroke="#f2f2f7" stroke-width="1.7"/>
<path d="M1457.8 461.1h1.0v1.0h-1.0zM1533.3 435.5h0.8v0.8h-0.8zM1443.5 437.6h1.0v1.0h-1.0zM1441.4 453.2h0.7v0.7h-0.7zM1462.4 448.1h1.1v1.1h-1.1zM1502.5 426.7h0.8v0.8h-0.8zM1443.5 470.7h1.1v1.1h-1.1zM1527.7 468.4h1.0v1.0h-1.0zM1546.0 466.7h0.8v0.8h-0.8zM1533.3 451.0h1.0v1.0h-1.0zM1496.8 448.0h0.8v0.8h-0.8zM1479.7 442.1h0.7v0.7h-0.7zM1529.5 466.9h1.2v1.2h-1.2zM1513.0 454.4h1.0v1.0h-1.0zM1442.0 460.7h0.9v0.9h-0.9zM1447.3 436.4h0.9v0.9h-0.9zM1457.1 449.6h1.0v1.0h-1.0zM1475.3 432.7h0.9v0.9h-0.9zM1454.8 438.1h0.7v0.7h-0.7zM1471.6 429.8h1.0v1.0h-1.0z" fill="#f2f2f7"/>
<path d="M1546.0 442.8L1548.3 446.6L1545.2 447.2zM1546.0 430.7L1542.1 428.5L1544.6 426.5zM1525.7 466.5L1529.6 468.6L1527.1 470.7zM1447.3 444.8L1445.7 449.0L1443.4 446.8zM1538.9 470.3L1536.2 466.8L1539.2 465.8zM1533.1 442.1L1535.6 445.8L1532.4 446.5zM1439.7 473.9L1443.9 475.1L1442.0 477.6zM1514.7 434.7L1518.8 436.3L1516.7 438.7zM1496.9 458.8L1498.3 454.6L1500.8 456.6zM1516.8 446.6L1516.4 442.2L1519.5 443.1zM1448.2 463.2L1444.0 461.7L1446.1 459.3zM1451.6 427.0L1455.4 429.3L1452.9 431.3zM1498.9 454.6L1494.5 455.2L1495.3 452.1zM1483.6 445.4L1479.3 444.4L1481.0 441.8zM1427.5 479.4L1423.4 477.7L1425.6 475.4zM1460.6 437.9L1464.9 439.0L1463.1 441.6zM1432.5 452.5L1434.1 448.3L1436.4 450.5zM1529.7 429.1L1530.5 424.7L1533.2 426.3zM1485.0 475.4L1489.3 474.2L1488.9 477.4zM1484.4 463.4L1484.1 459.0L1487.1 459.9zM1431.5 450.0L1428.9 453.5L1427.2 450.9zM1517.8 436.3L1520.9 439.4L1518.0 440.7z" fill="none" stroke="#f2f2f7" stroke-width="0.8"/>
<polyline points="1493.92,424.38 1493.92,456.93 1476.02,456.93 1476.02,461.0 1497.17,461.0" fill="none" stroke="#f2f2f7" stroke-width="1.3" stroke-dasharray="4 2"/>
<line x1="1437.28" y1="462.3" x2="1539.82" y2="462.3" stroke="#f2f2f7" stroke-width="1.3" stroke-dasharray="4 2"/>
<line x1="1437.28" y1="465.55" x2="1539.82" y2="465.55" stroke="#f2f2f7" stroke-width="1.3" stroke-dasharray="4 2"/>
<circle cx="1438.91" cy="459.37" r="1.14" fill="none" stroke="#f2f2f7" stroke-width="1"/>
<circle cx="1537.05" cy="459.37" r="1.14" fill="none" stroke="#f2f2f7" stroke-width="1"/>
<text x="1334.09" y="229.88" font-size="10.6" fill="#f2f2f7" textLength="69.5" lengthAdjust="spacingAndGlyphs" stroke="#f2f2f7" stroke-width="0.6">R-13 INSUL. (MIN.)</text>
<polyline points="1403.59,224.51 1484.15,243.71" fill="none" stroke="#f2f2f7" stroke-width="1"/>
<text x="1334.09" y="249.41" font-size="10.6" fill="#f2f2f7" textLength="55.66" lengthAdjust="spacingAndGlyphs" stroke="#f2f2f7" stroke-width="0.6">1/2" DRYWALL</text>
<polyline points="1389.75,244.52 1482.53,259.17" fill="none" stroke="#f2f2f7" stroke-width="1"/>
<text x="1333.27" y="269.26" font-size="10.6" fill="#f2f2f7" textLength="111.82" lengthAdjust="spacingAndGlyphs" stroke="#f2f2f7" stroke-width="0.6">BASE MOULD (PER BLDR.)</text>
<polyline points="1440.21,266.5 1480.08,278.7" fill="none" stroke="#f2f2f7" stroke-width="1"/>
<text x="1334.09" y="377.99" font-size="10.6" fill="#f2f2f7" textLength="124.84" lengthAdjust="spacingAndGlyphs" stroke="#f2f2f7" stroke-width="0.6">WATERPROOFING (PER BLDR.)</text>
<line x1="1433.7" y1="374.73" x2="1462.18" y2="374.73" stroke="#f2f2f7" stroke-width="1"/>
<text x="1335.23" y="395.89" font-size="10.6" fill="#f2f2f7" textLength="25.55" lengthAdjust="spacingAndGlyphs" stroke="#f2f2f7" stroke-width="0.6">STONE</text>
<polyline points="1360.78,391.82 1389.75,391.82 1438.58,402.4" fill="none" stroke="#f2f2f7" stroke-width="1"/>
<text x="1336.04" y="414.28" font-size="10.6" fill="#f2f2f7" textLength="76.5" lengthAdjust="spacingAndGlyphs" stroke="#f2f2f7" stroke-width="0.6">PERIMETER DRAIN</text>
<polyline points="1412.54,410.87 1433.7,414.61" fill="none" stroke="#f2f2f7" stroke-width="1"/>
<text x="1580.99" y="212.79" font-size="10.6" fill="#f2f2f7" textLength="90.82" lengthAdjust="spacingAndGlyphs" stroke="#f2f2f7" stroke-width="0.6">4" CONC. SLAB OVER</text>
<text x="1580.99" y="223.85" font-size="10.6" fill="#f2f2f7" textLength="118.16" lengthAdjust="spacingAndGlyphs" stroke="#f2f2f7" stroke-width="0.6">COMPACTED FILL AS REQ'D</text>
<text x="1580.34" y="238.34" font-size="10.6" fill="#f2f2f7" textLength="141.6" lengthAdjust="spacingAndGlyphs" stroke="#f2f2f7" stroke-width="0.6">NOM. 3/8" APA RATED SHEATHING</text>
<polyline points="1577.08,238.01 1513.12,238.01" fill="none" stroke="#f2f2f7" stroke-width="1"/>
<polygon points="1513.12,238.01 1520.12,236.91 1520.12,239.11" fill="#f2f2f7"/>
<text x="1580.99" y="249.41" font-size="10.6" fill="#f2f2f7" textLength="93.75" lengthAdjust="spacingAndGlyphs" stroke="#f2f2f7" stroke-width="0.6">ATTACHED PER CODE</text>
<text x="1580.99" y="259.66" font-size="10.6" fill="#f2f2f7" textLength="91.63" lengthAdjust="spacingAndGlyphs" stroke="#f2f2f7" stroke-width="0.6">W/ PAPER PER BLDR.</text>
<text x="1580.34" y="273.01" font-size="10.6" fill="#f2f2f7" textLength="78.45" lengthAdjust="spacingAndGlyphs" stroke="#f2f2f7" stroke-width="0.6">SIDING AS SPEC'D.</text>
<polyline points="1577.08,271.71 1513.93,271.71" fill="none" stroke="#f2f2f7" stroke-width="1"/>
<polygon points="1513.93,271.71 1520.93,270.61 1520.93,272.81" fill="#f2f2f7"/>
<text x="1580.34" y="286.35" font-size="10.6" fill="#f2f2f7" textLength="71.61" lengthAdjust="spacingAndGlyphs" stroke="#f2f2f7" stroke-width="0.6">(2) 2X TRT'D SILL</text>
<polyline points="1577.08,283.1 1512.3,283.1" fill="none" stroke="#f2f2f7" stroke-width="1"/>
<text x="1579.36" y="302.3" font-size="10.6" fill="#f2f2f7" textLength="116.54" lengthAdjust="spacingAndGlyphs" stroke="#f2f2f7" stroke-width="0.6">8" CMU HEADER BLOCK OR</text>
<polyline points="1577.08,297.75 1549.41,297.75 1511.0,308.82" fill="none" stroke="#f2f2f7" stroke-width="1"/>
<text x="1579.36" y="312.88" font-size="10.6" fill="#f2f2f7" textLength="38.74" lengthAdjust="spacingAndGlyphs" stroke="#f2f2f7" stroke-width="0.6">4" BRICK</text>
<text x="1581.48" y="328.67" font-size="10.6" fill="#f2f2f7" textLength="64.62" lengthAdjust="spacingAndGlyphs" stroke="#f2f2f7" stroke-width="0.6">GRADE VARIES</text>
<polyline points="1579.85,325.09 1572.2,325.09 1559.18,333.23" fill="none" stroke="#f2f2f7" stroke-width="1"/>
<text x="1579.85" y="344.3" font-size="10.6" fill="#f2f2f7" textLength="141.6" lengthAdjust="spacingAndGlyphs" stroke="#f2f2f7" stroke-width="0.6">8" CMU WALL (HEIGHT WILL VARY)</text>
<polyline points="1577.08,344.62 1512.3,344.62" fill="none" stroke="#f2f2f7" stroke-width="1"/>
<polygon points="1512.30,344.62 1519.30,343.52 1519.30,345.72" fill="#f2f2f7"/>
<text x="1579.85" y="353.57" font-size="10.6" fill="#f2f2f7" textLength="107.91" lengthAdjust="spacingAndGlyphs" stroke="#f2f2f7" stroke-width="0.6">OR 4" CMU AND 4" BRICK</text>
<text x="1580.34" y="367.73" font-size="10.6" fill="#f2f2f7" textLength="150.88" lengthAdjust="spacingAndGlyphs" stroke="#f2f2f7" stroke-width="0.6">1" PERIMETER INSULATION AS REQ'D</text>
<polyline points="1578.22,363.83 1474.54,363.83" fill="none" stroke="#f2f2f7" stroke-width="1"/>
<text x="1579.85" y="383.68" font-size="10.6" fill="#f2f2f7" textLength="145.67" lengthAdjust="spacingAndGlyphs" stroke="#f2f2f7" stroke-width="0.6">HORIZ. REINFORCEMENT AT 16" O.C.</text>
<polyline points="1577.08,380.1 1513.12,380.1" fill="none" stroke="#f2f2f7" stroke-width="1"/>
<polygon points="1513.12,380.10 1520.12,379.00 1520.12,381.20" fill="#f2f2f7"/>
<text x="1579.85" y="395.08" font-size="10.6" fill="#f2f2f7" textLength="104.17" lengthAdjust="spacingAndGlyphs" stroke="#f2f2f7" stroke-width="0.6">(EVERY OTHER COURSE)</text>
<text x="1580.34" y="415.75" font-size="10.6" fill="#f2f2f7" textLength="166.34" lengthAdjust="spacingAndGlyphs" stroke="#f2f2f7" stroke-width="0.6">5/8" DIA. THREADED ROD AT 8'-0" O.C.</text>
<polyline points="1578.22,412.17 1497.33,412.17" fill="none" stroke="#f2f2f7" stroke-width="1"/>
<text x="1580.34" y="426.82" font-size="10.6" fill="#f2f2f7" textLength="169.92" lengthAdjust="spacingAndGlyphs" stroke="#f2f2f7" stroke-width="0.6">FILL CELLS SOLID WITH 3000 PSI CONC.</text>
<text x="1582.62" y="441.95" font-size="10.6" fill="#f2f2f7" textLength="65.59" lengthAdjust="spacingAndGlyphs" stroke="#f2f2f7" stroke-width="0.6">CONC. FTG. WITH</text>
<polyline points="1578.22,440.65 1554.62,440.65" fill="none" stroke="#f2f2f7" stroke-width="1"/>
<polygon points="1554.62,440.65 1561.62,439.55 1561.62,441.75" fill="#f2f2f7"/>
<text x="1579.85" y="454.0" font-size="10.6" fill="#f2f2f7" textLength="123.7" lengthAdjust="spacingAndGlyphs" stroke="#f2f2f7" stroke-width="0.6">REBAR (SEE STRUCT. SPECS.)</text>
</g>
<g id="s_b">
<polyline points="385.1,756.85 548.35,596.86" fill="none" stroke="#f2f2f7" stroke-width="2.8"/>
<polyline points="404.95,731.95 444.02,692.88" fill="none" stroke="#f2f2f7" stroke-width="1"/>
<line x1="404.95" y1="731.95" x2="406.58" y2="733.57" stroke="#f2f2f7" stroke-width="1"/>
<polyline points="442.39,697.77 478.2,661.96" fill="none" stroke="#f2f2f7" stroke-width="1"/>
<line x1="442.39" y1="697.77" x2="444.02" y2="699.39" stroke="#f2f2f7" stroke-width="1"/>
<polyline points="476.57,663.59 518.07,622.08" fill="none" stroke="#f2f2f7" stroke-width="1"/>
<line x1="476.57" y1="663.59" x2="478.2" y2="665.21" stroke="#f2f2f7" stroke-width="1"/>
<polyline points="516.45,624.04 546.56,593.93" fill="none" stroke="#f2f2f7" stroke-width="1"/>
<line x1="516.45" y1="624.04" x2="518.07" y2="625.66" stroke="#f2f2f7" stroke-width="1"/>
<polyline points="413.91,775.89 571.95,618.01" fill="none" stroke="#f2f2f7" stroke-width="1"/>
<line x1="467.62" y1="695.33" x2="547.37" y2="615.57" stroke="#f2f2f7" stroke-width="1" stroke-dasharray="9 5"/>
<polyline points="524.75,576.51 579.27,622.08" fill="none" stroke="#f2f2f7" stroke-width="1"/>
<path d="M 550.62 600.11 C 553.88 592.79 560.39 591.16 558.76 597.67 C 557.14 604.18 550.62 609.06 553.88 609.88 C 557.14 609.88 560.39 604.99 561.2 602.55" fill="none" stroke="#f2f2f7" stroke-width="1.3"/>
<polyline points="464.36,682.3 483.89,701.84" fill="none" stroke="#f2f2f7" stroke-width="1"/>
<polyline points="467.62,694.02 479.01,683.93" fill="none" stroke="#f2f2f7" stroke-width="1"/>
<polyline points="430.18,720.55 438.32,726.58 444.83,718.93" fill="none" stroke="#f2f2f7" stroke-width="1"/>
<polyline points="498.7,656.26 510.1,643.24 617.52,732.76" fill="none" stroke="#f2f2f7" stroke-width="1"/>
<polyline points="498.7,656.26 616.71,757.17" fill="none" stroke="#f2f2f7" stroke-width="1"/>
<rect x="387.21" y="755.55" width="5.54" height="44.76" fill="#e8e8ef" stroke="none" stroke-width="0"/>
<polyline points="384.61,756.36 387.21,759.62" fill="none" stroke="#f2f2f7" stroke-width="1.2"/>
<rect x="393.72" y="752.29" width="7.17" height="35.48" fill="#24283d" stroke="#f2f2f7" stroke-width="1"/>
<line x1="393.72" y1="752.29" x2="400.89" y2="787.77" stroke="#f2f2f7" stroke-width="0.9"/>
<line x1="400.89" y1="752.29" x2="393.72" y2="787.77" stroke="#f2f2f7" stroke-width="0.9"/>
<rect x="392.75" y="787.29" width="65.1" height="2.76" fill="#e8e8ef" stroke="none" stroke-width="0"/>
<line x1="400.89" y1="767.75" x2="446.46" y2="767.75" stroke="#f2f2f7" stroke-width="1"/>
<rect x="446.46" y="767.75" width="8.46" height="19.54" fill="#24283d" stroke="#f2f2f7" stroke-width="1"/>
<line x1="446.46" y1="767.75" x2="454.92" y2="787.29" stroke="#f2f2f7" stroke-width="0.9"/>
<line x1="454.92" y1="767.75" x2="446.46" y2="787.29" stroke="#f2f2f7" stroke-width="0.9"/>
<polyline points="400.89,748.22 415.53,766.94" fill="none" stroke="#f2f2f7" stroke-width="1"/>
<polyline points="366.71,759.62 371.59,759.62" fill="none" stroke="#f2f2f7" stroke-width="1"/>
<polyline points="367.52,760.1 367.52,766.94 371.59,767.75 373.22,775.08 378.1,776.71 378.91,782.4 387.21,782.4" fill="none" stroke="#f2f2f7" stroke-width="1.1"/>
<line x1="387.05" y1="658.7" x2="462.73" y2="658.7" stroke="#f2f2f7" stroke-width="1"/>
<line x1="392.42" y1="651.38" x2="392.42" y2="719.74" stroke="#f2f2f7" stroke-width="1"/>
<line x1="457.85" y1="651.38" x2="457.85" y2="763.68" stroke="#f2f2f7" stroke-width="1"/>
<line x1="386.24" y1="664.4" x2="398.44" y2="652.19" stroke="#f2f2f7" stroke-width="1"/>
<line x1="451.34" y1="664.4" x2="463.55" y2="652.19" stroke="#f2f2f7" stroke-width="1"/>
<text x="419.6" y="656.26" font-size="9.16" fill="#f2f2f7" textLength="8.95" lengthAdjust="spacingAndGlyphs" stroke="#f2f2f7" stroke-width="0.6">12"</text>
<line x1="490.4" y1="621.76" x2="508.31" y2="621.76" stroke="#f2f2f7" stroke-width="1"/>
<line x1="491.22" y1="621.76" x2="491.22" y2="639.17" stroke="#f2f2f7" stroke-width="1"/>
<text x="493.66" y="618.83" font-size="8.67" fill="#f2f2f7" textLength="7.32" lengthAdjust="spacingAndGlyphs" stroke="#f2f2f7" stroke-width="0.6">12</text>
<text x="442.39" y="633.15" font-size="10.36" fill="#f2f2f7" textLength="70.8" lengthAdjust="spacingAndGlyphs" stroke="#f2f2f7" stroke-width="0.6">SEE ROOF PLAN</text>
<rect x="459.15" y="712.74" width="17.42" height="8.63" fill="#24283d" stroke="#f2f2f7" stroke-width="1"/>
<line x1="459.15" y1="712.74" x2="476.57" y2="721.37" stroke="#f2f2f7" stroke-width="0.9"/>
<line x1="476.57" y1="712.74" x2="459.15" y2="721.37" stroke="#f2f2f7" stroke-width="0.9"/>
<line x1="457.85" y1="721.37" x2="618.33" y2="721.37" stroke="#f2f2f7" stroke-width="1.2"/>
<rect x="459.15" y="722.18" width="7.65" height="37.11" fill="#24283d" stroke="#f2f2f7" stroke-width="1"/>
<line x1="459.15" y1="722.18" x2="466.8" y2="759.29" stroke="#f2f2f7" stroke-width="0.9"/>
<line x1="466.8" y1="722.18" x2="459.15" y2="759.29" stroke="#f2f2f7" stroke-width="0.9"/>
<rect x="467.62" y="722.51" width="150.71" height="36.78" fill="#24283d" stroke="none" stroke-width="0"/>
<polyline points="467.62,740.9 470.46,749.49 473.3,755.71 476.15,757.81 478.99,755.23 481.84,748.67 484.68,739.95 487.52,731.5 490.37,725.66 493.21,724.04 496.05,727.09 498.9,733.98 501.74,742.78 504.59,751.06 507.43,756.53 510.27,757.65 513.12,754.14 515.96,746.95 518.8,738.08 521.65,729.99 524.49,724.93 527.33,724.3 530.18,728.27 533.02,735.74 535.87,744.65 538.71,752.51 541.55,757.15 544.4,757.29 547.24,752.88 550.08,745.15 552.93,736.24 555.77,728.62 558.62,724.41 561.46,724.77 564.3,729.6 567.15,737.57 569.99,746.46 572.83,753.81 575.68,757.57 578.52,756.72 581.37,751.47 584.21,743.3 587.05,734.45 589.9,727.4 592.74,724.09 595.58,725.44 598.43,731.08 601.27,739.44 604.11,748.21 606.96,754.95 609.8,757.79 612.65,755.95 615.49,749.94 618.33,741.41" fill="none" stroke="#f2f2f7" stroke-width="1.1"/>
<polyline points="467.62,740.9 470.46,732.3 473.3,726.09 476.15,723.98 478.99,726.57 481.84,733.13 484.68,741.84 487.52,750.29 490.37,756.14 493.21,757.76 496.05,754.7 498.9,747.82 501.74,739.01 504.59,730.73 507.43,725.27 510.27,724.14 513.12,727.66 515.96,734.85 518.8,743.72 521.65,751.8 524.49,756.86 527.33,757.5 530.18,753.53 533.02,746.05 535.87,737.15 538.71,729.29 541.55,724.64 544.4,724.51 547.24,728.92 550.08,736.65 552.93,745.56 555.77,753.18 558.62,757.39 561.46,757.03 564.3,752.19 567.15,744.23 569.99,735.34 572.83,727.99 575.68,724.22 578.52,725.08 581.37,730.32 584.21,738.5 587.05,747.34 589.9,754.4 592.74,757.71 595.58,756.36 598.43,750.72 601.27,742.36 604.11,733.59 606.96,726.85 609.8,724.01 612.65,725.85 615.49,731.86 618.33,740.38" fill="none" stroke="#f2f2f7" stroke-width="1.1"/>
<rect x="457.85" y="759.62" width="160.48" height="4.88" fill="#e8e8ef" stroke="none" stroke-width="0"/>
<line x1="618.33" y1="704.28" x2="618.33" y2="779.15" stroke="#f2f2f7" stroke-width="1.1"/>
<path d="M 614.1 732.76 C 615.73 739.27 627.12 732.76 626.47 737.64 C 625.49 742.53 610.85 739.27 611.66 742.85 C 614.1 745.78 620.61 744.15 620.61 744.15" fill="none" stroke="#f2f2f7" stroke-width="1.2"/>
<line x1="633.8" y1="760.43" x2="642.75" y2="760.43" stroke="#f2f2f7" stroke-width="1"/>
<rect x="452.15" y="764.5" width="6.68" height="208.49" fill="#e8e8ef" stroke="none" stroke-width="0"/>
<rect x="459.48" y="773.78" width="16.6" height="199.21" fill="#24283d" stroke="none" stroke-width="0"/>
<polyline points="467.78,773.78 471.61,775.27 474.41,776.77 475.42,778.27 474.36,779.77 471.53,781.27 467.68,782.76 463.87,784.26 461.1,785.76 460.14,787.26 461.25,788.75 464.11,790.25 467.97,791.75 471.78,793.25 474.5,794.75 475.41,796.24 474.26,797.74 471.36,799.24 467.49,800.74 463.7,802.24 461.01,803.73 460.15,805.23 461.35,806.73 464.28,808.23 468.16,809.73 471.94,811.22 474.59,812.72 475.4,814.22 474.16,815.72 471.19,817.21 467.3,818.71 463.54,820.21 460.93,821.71 460.16,823.21 461.45,824.7 464.45,826.2 468.35,827.7 472.09,829.2 474.67,830.7 475.39,832.19 474.05,833.69 471.02,835.19 467.11,836.69 463.39,838.19 460.85,839.68 460.18,841.18 461.56,842.68 464.62,844.18 468.54,845.67 472.25,847.17 474.75,848.67 475.37,850.17 473.94,851.67 470.85,853.16 466.93,854.66 463.23,856.16 460.77,857.66 460.2,859.16 461.67,860.65 464.8,862.15 468.73,863.65 472.4,865.15 474.83,866.64 475.35,868.14 473.83,869.64 470.67,871.14 466.74,872.64 463.08,874.13 460.69,875.63 460.22,877.13 461.79,878.63 464.97,880.13 468.92,881.62 472.55,883.12 474.9,884.62 475.32,886.12 473.71,887.62 470.5,889.11 466.55,890.61 462.93,892.11 460.63,893.61 460.25,895.1 461.91,896.6 465.15,898.1 469.1,899.6 472.7,901.1 474.97,902.59 475.29,904.09 473.59,905.59 470.32,907.09 466.36,908.59 462.79,910.08 460.56,911.58 460.29,913.08 462.03,914.58 465.33,916.08 469.29,917.57 472.84,919.07 475.03,920.57 475.26,922.07 473.46,923.56 470.14,925.06 466.18,926.56 462.65,928.06 460.5,929.56 460.32,931.05 462.16,932.55 465.51,934.05 469.48,935.55 472.98,937.05 475.09,938.54 475.21,940.04 473.34,941.54 469.96,943.04 465.99,944.53 462.51,946.03 460.45,947.53 460.37,949.03 462.29,950.53 465.69,952.02 469.66,953.52 473.12,955.02 475.14,956.52 475.17,958.02 473.2,959.51 469.77,961.01 465.81,962.51 462.37,964.01 460.4,965.51 460.42,967.0 462.42,968.5 465.88,970.0 469.85,971.5 473.26,972.99" fill="none" stroke="#f2f2f7" stroke-width="1.1"/>
<polyline points="467.78,773.78 463.95,775.27 461.15,776.77 460.14,778.27 461.2,779.77 464.03,781.27 467.88,782.76 471.69,784.26 474.46,785.76 475.42,787.26 474.31,788.75 471.45,790.25 467.59,791.75 463.78,793.25 461.06,794.75 460.15,796.24 461.3,797.74 464.2,799.24 468.07,800.74 471.86,802.24 474.55,803.73 475.41,805.23 474.21,806.73 471.28,808.23 467.4,809.73 463.62,811.22 460.97,812.72 460.16,814.22 461.4,815.72 464.37,817.21 468.26,818.71 472.02,820.21 474.63,821.71 475.4,823.21 474.11,824.7 471.11,826.2 467.21,827.7 463.47,829.2 460.89,830.7 460.17,832.19 461.51,833.69 464.54,835.19 468.44,836.69 472.17,838.19 474.71,839.68 475.38,841.18 474.0,842.68 470.94,844.18 467.02,845.67 463.31,847.17 460.81,848.67 460.19,850.17 461.62,851.67 464.71,853.16 468.63,854.66 472.33,856.16 474.79,857.66 475.36,859.16 473.89,860.65 470.76,862.15 466.83,863.65 463.16,865.15 460.73,866.64 460.21,868.14 461.73,869.64 464.89,871.14 468.82,872.64 472.48,874.13 474.86,875.63 475.34,877.13 473.77,878.63 470.59,880.13 466.64,881.62 463.01,883.12 460.66,884.62 460.24,886.12 461.85,887.62 465.06,889.11 469.01,890.61 472.63,892.11 474.93,893.61 475.31,895.1 473.65,896.6 470.41,898.1 466.46,899.6 462.86,901.1 460.59,902.59 460.27,904.09 461.97,905.59 465.24,907.09 469.2,908.59 472.77,910.08 475.0,911.58 475.27,913.08 473.53,914.58 470.23,916.08 466.27,917.57 462.72,919.07 460.53,920.57 460.3,922.07 462.1,923.56 465.42,925.06 469.38,926.56 472.91,928.06 475.06,929.56 475.24,931.05 473.4,932.55 470.05,934.05 466.08,935.55 462.58,937.05 460.47,938.54 460.35,940.04 462.22,941.54 465.6,943.04 469.57,944.53 473.05,946.03 475.11,947.53 475.19,949.03 473.27,950.53 469.87,952.02 465.9,953.52 462.44,955.02 460.42,956.52 460.39,958.02 462.36,959.51 465.79,961.01 469.75,962.51 473.19,964.01 475.16,965.51 475.14,967.0 473.14,968.5 469.68,970.0 465.71,971.5 462.3,972.99" fill="none" stroke="#f2f2f7" stroke-width="1.1"/>
<rect x="476.57" y="764.5" width="3.74" height="208.49" fill="#e8e8ef" stroke="none" stroke-width="0"/>
<rect x="459.48" y="762.38" width="16.6" height="11.07" fill="#24283d" stroke="#f2f2f7" stroke-width="1"/>
<line x1="459.48" y1="762.38" x2="476.08" y2="773.45" stroke="#f2f2f7" stroke-width="0.9"/>
<line x1="476.08" y1="762.38" x2="459.48" y2="773.45" stroke="#f2f2f7" stroke-width="0.9"/>
<polyline points="436.69,790.38 451.34,806.82" fill="none" stroke="#f2f2f7" stroke-width="2.6"/>
<line x1="436.69" y1="790.05" x2="452.15" y2="790.05" stroke="#f2f2f7" stroke-width="2"/>
<polyline points="480.31,764.82 501.8,764.82 480.31,801.12" fill="none" stroke="#f2f2f7" stroke-width="2.4"/>
<line x1="439.95" y1="801.12" x2="439.95" y2="833.67" stroke="#f2f2f7" stroke-width="1"/>
<line x1="444.02" y1="801.12" x2="444.02" y2="833.67" stroke="#f2f2f7" stroke-width="1"/>
<polyline points="448.41,801.12 442.88,816.09 442.88,818.05 448.41,818.05" fill="none" stroke="#f2f2f7" stroke-width="1"/>
<polyline points="448.41,818.05 442.88,833.02 442.88,834.97 448.41,834.97" fill="none" stroke="#f2f2f7" stroke-width="1"/>
<polyline points="448.41,834.97 442.88,849.95 442.88,851.9 448.41,851.9" fill="none" stroke="#f2f2f7" stroke-width="1"/>
<polyline points="448.41,851.9 442.88,866.88 442.88,868.83 448.41,868.83" fill="none" stroke="#f2f2f7" stroke-width="1"/>
<polyline points="448.41,868.83 442.88,883.8 442.88,885.76 448.41,885.76" fill="none" stroke="#f2f2f7" stroke-width="1"/>
<polyline points="448.41,885.76 442.88,900.73 442.88,902.68 448.41,902.68" fill="none" stroke="#f2f2f7" stroke-width="1"/>
<polyline points="448.41,902.68 442.88,917.66 442.88,919.61 448.41,919.61" fill="none" stroke="#f2f2f7" stroke-width="1"/>
<polyline points="448.41,919.61 442.88,934.58 442.88,936.54 448.41,936.54" fill="none" stroke="#f2f2f7" stroke-width="1"/>
<polyline points="448.41,936.54 442.88,951.51 442.88,953.46 448.41,953.46" fill="none" stroke="#f2f2f7" stroke-width="1"/>
<polyline points="448.41,953.46 442.88,968.44 442.88,970.39 448.41,970.39" fill="none" stroke="#f2f2f7" stroke-width="1"/>
<polyline points="448.41,970.39 442.88,985.36 442.88,987.32 448.41,987.32" fill="none" stroke="#f2f2f7" stroke-width="1"/>
<line x1="450.04" y1="801.12" x2="450.04" y2="972.99" stroke="#f2f2f7" stroke-width="1"/>
<line x1="428.55" y1="973.32" x2="504.24" y2="973.32" stroke="#f2f2f7" stroke-width="1.1"/>
<ellipse cx="468.11" cy="974.46" rx="2.6" ry="7.49" fill="none" stroke="#f2f2f7" stroke-width="1.1" transform="rotate(-12 468.11 974.46)"/>
<line x1="464.04" y1="967.14" x2="465.99" y2="976.9" stroke="#f2f2f7" stroke-width="2"/>
<text x="168.95" y="623.71" font-size="9.64" fill="#f2f2f7" textLength="94.4" lengthAdjust="spacingAndGlyphs" stroke="#f2f2f7" stroke-width="0.6">ASPHALT SHINGLES O/</text>
<text x="168.95" y="631.52" font-size="9.64" fill="#f2f2f7" textLength="113.93" lengthAdjust="spacingAndGlyphs" stroke="#f2f2f7" stroke-width="0.6">30# FELT O/ 1/2" SHEATHING</text>
<text x="168.95" y="638.68" font-size="9.64" fill="#f2f2f7" textLength="111.49" lengthAdjust="spacingAndGlyphs" stroke="#f2f2f7" stroke-width="0.6">O/ 2x8 RAFTERS @ 16" O.C.</text>
<polyline points="251.15,618.01 363.45,618.01 488.78,648.12" fill="none" stroke="#f2f2f7" stroke-width="1"/>
<text x="169.44" y="664.08" font-size="10.36" fill="#f2f2f7" textLength="86.59" lengthAdjust="spacingAndGlyphs" stroke="#f2f2f7" stroke-width="0.6">VENTILATION BAFFLE</text>
<polyline points="256.03,659.52 277.19,659.52 449.71,709.97" fill="none" stroke="#f2f2f7" stroke-width="1"/>
<polygon points="449.71,709.97 442.68,709.06 443.30,706.95" fill="#f2f2f7"/>
<text x="168.95" y="724.3" font-size="10.36" fill="#f2f2f7" textLength="39.06" lengthAdjust="spacingAndGlyphs" stroke="#f2f2f7" stroke-width="0.6">LOOKOUT</text>
<line x1="234.06" y1="721.37" x2="378.1" y2="721.37" stroke="#f2f2f7" stroke-width="1"/>
<line x1="378.1" y1="721.37" x2="400.89" y2="748.22" stroke="#f2f2f7" stroke-width="1"/>
<text x="168.95" y="769.38" font-size="10.36" fill="#f2f2f7" textLength="135.9" lengthAdjust="spacingAndGlyphs" stroke="#f2f2f7" stroke-width="0.6">ALUMINUM GUTTERS (PER BLDR.)</text>
<polyline points="301.6,763.68 363.45,763.68" fill="none" stroke="#f2f2f7" stroke-width="1"/>
<polygon points="363.45,763.68 356.45,764.78 356.45,762.58" fill="#f2f2f7"/>
<text x="168.95" y="792.98" font-size="10.36" fill="#f2f2f7" textLength="71.61" lengthAdjust="spacingAndGlyphs" stroke="#f2f2f7" stroke-width="0.6">1 X 8 FASCIA BD.</text>
<polyline points="221.85,789.4 386.56,789.4" fill="none" stroke="#f2f2f7" stroke-width="1"/>
<polygon points="386.56,789.40 379.56,790.50 379.56,788.30" fill="#f2f2f7"/>
<text x="168.95" y="834.52" font-size="10.36" fill="#f2f2f7" textLength="112.3" lengthAdjust="spacingAndGlyphs" stroke="#f2f2f7" stroke-width="0.6">2" CONTINUOUS VENT STRIP</text>
<polyline points="273.93,831.27 334.15,831.27 417.16,791.39" fill="none" stroke="#f2f2f7" stroke-width="1"/>
<text x="168.95" y="850.31" font-size="10.36" fill="#f2f2f7" textLength="145.67" lengthAdjust="spacingAndGlyphs" stroke="#f2f2f7" stroke-width="0.6">3/8" EXT. GRADE PLYWOOD SOFFIT</text>
<polyline points="306.48,846.41 326.83,846.41 419.11,790.42" fill="none" stroke="#f2f2f7" stroke-width="1"/>
<text x="168.95" y="867.57" font-size="10.36" fill="#f2f2f7" textLength="130.21" lengthAdjust="spacingAndGlyphs" stroke="#f2f2f7" stroke-width="0.6">3" CROWN MOULD (PER BLDR.)</text>
<polyline points="293.46,862.19 330.9,862.19 439.13,800.35" fill="none" stroke="#f2f2f7" stroke-width="1"/>
<text x="168.95" y="881.73" font-size="10.36" fill="#f2f2f7" textLength="124.84" lengthAdjust="spacingAndGlyphs" stroke="#f2f2f7" stroke-width="0.6">1 X 8 FRIEZE BD. (SEE BLDR.)</text>
<polyline points="286.95,877.33 316.25,877.33 444.83,817.76" fill="none" stroke="#f2f2f7" stroke-width="1"/>
<text x="168.95" y="894.75" font-size="10.36" fill="#f2f2f7" textLength="206.22" lengthAdjust="spacingAndGlyphs" stroke="#f2f2f7" stroke-width="0.6">(OPT.) CULTURED STONE &amp; BLOCKING FOR FRIEZE</text>
<polyline points="352.06,886.61 439.95,833.71" fill="none" stroke="#f2f2f7" stroke-width="1"/>
<polyline points="352.06,886.61 441.58,871.15" fill="none" stroke="#f2f2f7" stroke-width="1"/>
<text x="168.95" y="907.77" font-size="10.36" fill="#f2f2f7" textLength="78.12" lengthAdjust="spacingAndGlyphs" stroke="#f2f2f7" stroke-width="0.6">SIDING AS SPEC'D.</text>
<polyline points="247.08,906.46 442.39,906.46" fill="none" stroke="#f2f2f7" stroke-width="1"/>
<text x="168.95" y="921.28" font-size="10.36" fill="#f2f2f7" textLength="106.61" lengthAdjust="spacingAndGlyphs" stroke="#f2f2f7" stroke-width="0.6">1/2" PLYWOOD SHEATHING</text>
<polyline points="273.93,915.9 451.34,915.9" fill="none" stroke="#f2f2f7" stroke-width="1"/>
<text x="168.95" y="931.37" font-size="10.36" fill="#f2f2f7" textLength="122.07" lengthAdjust="spacingAndGlyphs" stroke="#f2f2f7" stroke-width="0.6">W/ BUILDING PAPER S REQ'D.</text>
<text x="168.95" y="951.71" font-size="10.36" fill="#f2f2f7" textLength="67.22" lengthAdjust="spacingAndGlyphs" stroke="#f2f2f7" stroke-width="0.6">R-13 INSULATION</text>
<polyline points="243.01,949.27 449.71,949.27" fill="none" stroke="#f2f2f7" stroke-width="1"/>
<text x="168.95" y="965.55" font-size="10.36" fill="#f2f2f7" textLength="85.12" lengthAdjust="spacingAndGlyphs" stroke="#f2f2f7" stroke-width="0.6">2x4 STUDS @ 16" O.C.</text>
<polyline points="263.35,963.43 452.97,963.43" fill="none" stroke="#f2f2f7" stroke-width="1"/>
<text x="692.4" y="637.55" font-size="10.36" fill="#f2f2f7" textLength="139.16" lengthAdjust="spacingAndGlyphs" stroke="#f2f2f7" stroke-width="0.6">2 X RAFTER (SEE STRUCT. SHTS. )</text>
<polyline points="685.89,631.85 549.17,631.85" fill="none" stroke="#f2f2f7" stroke-width="1"/>
<polygon points="549.17,631.85 556.17,630.75 556.17,632.95" fill="#f2f2f7"/>
<text x="692.4" y="664.08" font-size="10.36" fill="#f2f2f7" textLength="96.52" lengthAdjust="spacingAndGlyphs" stroke="#f2f2f7" stroke-width="0.6">RAFTER TIE PER CODE</text>
<polyline points="686.71,661.47 660.66,661.47 551.61,674.17" fill="none" stroke="#f2f2f7" stroke-width="1"/>
<polygon points="551.61,674.17 558.44,672.27 558.69,674.45" fill="#f2f2f7"/>
<text x="692.4" y="685.56" font-size="10.36" fill="#f2f2f7" textLength="69.17" lengthAdjust="spacingAndGlyphs" stroke="#f2f2f7" stroke-width="0.6">2 X SOLE PLATE</text>
<text x="692.4" y="706.39" font-size="10.36" fill="#f2f2f7" textLength="131.02" lengthAdjust="spacingAndGlyphs" stroke="#f2f2f7" stroke-width="0.6">2 X BAND (SEE STRUCT. SHTS. )</text>
<polyline points="685.89,703.14 649.27,703.14 469.26,740.08" fill="none" stroke="#f2f2f7" stroke-width="1"/>
<polygon points="469.26,740.08 475.90,737.60 476.34,739.75" fill="#f2f2f7"/>
<text x="692.4" y="729.51" font-size="10.36" fill="#f2f2f7" textLength="144.86" lengthAdjust="spacingAndGlyphs" stroke="#f2f2f7" stroke-width="0.6">CLG./FLR. JSTS. (SEE STRUCT. SHTS. )</text>
<polyline points="685.89,726.58 574.4,732.76" fill="none" stroke="#f2f2f7" stroke-width="1"/>
<polygon points="574.40,732.76 581.33,731.27 581.45,733.47" fill="#f2f2f7"/>
<text x="692.4" y="753.92" font-size="10.36" fill="#f2f2f7" textLength="47.2" lengthAdjust="spacingAndGlyphs" stroke="#f2f2f7" stroke-width="0.6">R-38 INSUL.</text>
<polyline points="685.89,750.99 576.03,746.11" fill="none" stroke="#f2f2f7" stroke-width="1"/>
<polygon points="576.03,746.11 583.07,745.32 582.97,747.52" fill="#f2f2f7"/>
<text x="692.4" y="820.69" font-size="10.36" fill="#f2f2f7" textLength="135.09" lengthAdjust="spacingAndGlyphs" stroke="#f2f2f7" stroke-width="0.6">CLG. MOULD (VERIFY W/ BLDR. )</text>
<polyline points="688.33,818.74 668.8,818.74 495.46,775.93" fill="none" stroke="#f2f2f7" stroke-width="1"/>
<polygon points="495.46,775.93 502.52,776.54 501.99,778.68" fill="#f2f2f7"/>
<text x="692.4" y="841.52" font-size="10.36" fill="#f2f2f7" textLength="68.85" lengthAdjust="spacingAndGlyphs" stroke="#f2f2f7" stroke-width="0.6">DBL TOP PLATE</text>
<polyline points="686.71,840.22 664.73,840.22 475.12,778.37" fill="none" stroke="#f2f2f7" stroke-width="1"/>
<text x="693.54" y="912.65" font-size="10.36" fill="#f2f2f7" textLength="55.83" lengthAdjust="spacingAndGlyphs" stroke="#f2f2f7" stroke-width="0.6">1/2" DRYWALL</text>
<polyline points="686.71,910.21 668.8,910.21 548.36,764.54" fill="none" stroke="#f2f2f7" stroke-width="1"/>
<polyline points="668.8,910.21 483.26,825.57" fill="none" stroke="#f2f2f7" stroke-width="1"/>
<polygon points="483.26,825.57 490.09,827.47 489.17,829.48" fill="#f2f2f7"/>
<text x="526.39" y="867.08" font-size="10.36" fill="#f2f2f7" textLength="66.73" lengthAdjust="spacingAndGlyphs" stroke="#f2f2f7" stroke-width="0.6">WNDW. HDR. HGT.</text>
<line x1="541.85" y1="869.19" x2="568.7" y2="869.19" stroke="#f2f2f7" stroke-width="1.2"/>
<line x1="566.26" y1="869.19" x2="566.26" y2="970.43" stroke="#f2f2f7" stroke-width="1"/>
<polygon points="566.26,869.52 567.36,876.52 565.16,876.52" fill="#f2f2f7"/>
<text x="564.64" y="929.74" font-size="10.36" fill="#f2f2f7" textLength="20.35" lengthAdjust="spacingAndGlyphs" transform="rotate(-90 564.64 929.74)" stroke="#f2f2f7" stroke-width="0.6">7'-0"</text>
<text x="575.7" y="933.81" font-size="10.36" fill="#f2f2f7" textLength="37.43" lengthAdjust="spacingAndGlyphs" transform="rotate(-90 575.7 933.81)" stroke="#f2f2f7" stroke-width="0.6">(VERIFY)</text>
<line x1="639.18" y1="760.47" x2="639.18" y2="970.43" stroke="#f2f2f7" stroke-width="1"/>
<text x="636.58" y="859.75" font-size="10.36" fill="#f2f2f7" textLength="20.35" lengthAdjust="spacingAndGlyphs" transform="rotate(-90 636.58 859.75)" stroke="#f2f2f7" stroke-width="0.6">9'-0"</text>
<circle cx="528.5" cy="964.73" r="1.79" fill="#f2f2f7" stroke="none" stroke-width="0"/>
<text x="534.52" y="968.48" font-size="10.36" fill="#f2f2f7" textLength="33.37" lengthAdjust="spacingAndGlyphs" stroke="#f2f2f7" stroke-width="0.6">FIN. FLR.</text>
<line x1="541.04" y1="970.76" x2="568.7" y2="970.76" stroke="#f2f2f7" stroke-width="1.2"/>
<circle cx="603.37" cy="964.73" r="1.79" fill="#f2f2f7" stroke="none" stroke-width="0"/>
<text x="609.39" y="968.48" font-size="10.36" fill="#f2f2f7" textLength="32.55" lengthAdjust="spacingAndGlyphs" stroke="#f2f2f7" stroke-width="0.6">FIN. FLR.</text>
<line x1="633.81" y1="970.76" x2="642.76" y2="970.76" stroke="#f2f2f7" stroke-width="1.2"/>
</g>
<g id="s_c">
<polyline points="252.7,1200.31 294.79,1200.31 253.56,1242.4 252.7,1200.31" fill="none" stroke="#f2f2f7" stroke-width="1"/>
<text x="272.46" y="1196.01" font-size="7.63" fill="#f2f2f7" textLength="5.15" lengthAdjust="spacingAndGlyphs" stroke="#f2f2f7" stroke-width="0.6">12</text>
<text x="222.64" y="1217.49" font-size="9.66" fill="#f2f2f7" textLength="30.06" lengthAdjust="spacingAndGlyphs" stroke="#f2f2f7" stroke-width="0.6">VARIES</text>
<text x="210.96" y="1226.94" font-size="9.66" fill="#f2f2f7" textLength="65.8" lengthAdjust="spacingAndGlyphs" stroke="#f2f2f7" stroke-width="0.6">SEE ELEVATION</text>
<line x1="221.78" y1="1289.64" x2="308.54" y2="1206.32" stroke="#f2f2f7" stroke-width="1.1"/>
<line x1="223.67" y1="1289.64" x2="309.86" y2="1207.64" stroke="#f2f2f7" stroke-width="1.1"/>
<line x1="225.56" y1="1289.64" x2="311.18" y2="1208.97" stroke="#f2f2f7" stroke-width="1.1"/>
<line x1="227.45" y1="1289.64" x2="312.5" y2="1210.29" stroke="#f2f2f7" stroke-width="1.1"/>
<line x1="229.34" y1="1289.64" x2="313.83" y2="1211.61" stroke="#f2f2f7" stroke-width="1.1"/>
<line x1="264.73" y1="1277.61" x2="327.43" y2="1221.78" stroke="#f2f2f7" stroke-width="1"/>
<line x1="266.96" y1="1277.61" x2="329.0" y2="1223.34" stroke="#f2f2f7" stroke-width="1"/>
<line x1="269.2" y1="1277.61" x2="330.56" y2="1224.91" stroke="#f2f2f7" stroke-width="1"/>
<line x1="300.81" y1="1198.59" x2="342.04" y2="1239.82" stroke="#f2f2f7" stroke-width="1"/>
<path d="M 310.25 1210.62 C 313.69 1205.46 322.28 1210.62 320.56 1217.49 C 319.7 1222.64 325.72 1224.36 327.43 1221.78" fill="none" stroke="#f2f2f7" stroke-width="1.2"/>
<line x1="294.79" y1="1274.18" x2="334.31" y2="1232.95" stroke="#f2f2f7" stroke-width="1"/>
<line x1="251.85" y1="1289.64" x2="270.74" y2="1273.32" stroke="#f2f2f7" stroke-width="1"/>
<line x1="270.74" y1="1273.32" x2="480.33" y2="1273.32" stroke="#f2f2f7" stroke-width="1"/>
<line x1="299.95" y1="1273.32" x2="336.88" y2="1289.64" stroke="#f2f2f7" stroke-width="1"/>
<polyline points="204.6,1291.36 354.92,1291.36 354.92,1293.93 347.19,1303.38 212.33,1303.38 204.6,1293.93 204.6,1291.36" fill="none" stroke="#f2f2f7" stroke-width="1.2"/>
<line x1="204.6" y1="1293.93" x2="354.92" y2="1293.93" stroke="#f2f2f7" stroke-width="1"/>
<line x1="208.04" y1="1297.89" x2="351.48" y2="1297.89" stroke="#f2f2f7" stroke-width="0.8"/>
<line x1="210.62" y1="1300.81" x2="348.91" y2="1300.81" stroke="#f2f2f7" stroke-width="0.8"/>
<rect x="222.64" y="1304.24" width="114.24" height="4.3" fill="none" stroke="#f2f2f7" stroke-width="1"/>
<polyline points="245.83,1310.25 312.83,1310.25 306.82,1316.27 251.85,1316.27 245.83,1310.25" fill="none" stroke="#f2f2f7" stroke-width="1.1"/>
<line x1="248.41" y1="1312.83" x2="310.25" y2="1312.83" stroke="#f2f2f7" stroke-width="0.8"/>
<rect x="251.85" y="1316.27" width="54.97" height="12.02" fill="none" stroke="#f2f2f7" stroke-width="1"/>
<line x1="222.64" y1="1308.54" x2="222.64" y2="1354.92" stroke="#f2f2f7" stroke-width="1"/>
<line x1="336.88" y1="1308.54" x2="336.88" y2="1359.21" stroke="#f2f2f7" stroke-width="1"/>
<line x1="254.42" y1="1328.29" x2="254.42" y2="1363.51" stroke="#f2f2f7" stroke-width="1"/>
<line x1="305.44" y1="1328.29" x2="305.44" y2="1360.07" stroke="#f2f2f7" stroke-width="1"/>
<line x1="220.06" y1="1353.2" x2="339.46" y2="1353.2" stroke="#f2f2f7" stroke-width="1"/>
<line x1="220.92" y1="1355.26" x2="224.36" y2="1351.14" stroke="#f2f2f7" stroke-width="1"/>
<line x1="252.7" y1="1355.26" x2="256.14" y2="1351.14" stroke="#f2f2f7" stroke-width="1"/>
<line x1="303.73" y1="1355.26" x2="307.16" y2="1351.14" stroke="#f2f2f7" stroke-width="1"/>
<line x1="335.16" y1="1355.26" x2="338.6" y2="1351.14" stroke="#f2f2f7" stroke-width="1"/>
<text x="229.17" y="1352.34" font-size="9.66" fill="#f2f2f7" textLength="22.68" lengthAdjust="spacingAndGlyphs" stroke="#f2f2f7" stroke-width="0.6">EQUAL</text>
<text x="272.12" y="1343.75" font-size="9.66" fill="#f2f2f7" textLength="15.8" lengthAdjust="spacingAndGlyphs" stroke="#f2f2f7" stroke-width="0.6">SEE</text>
<text x="264.21" y="1352.34" font-size="9.66" fill="#f2f2f7" textLength="46.04" lengthAdjust="spacingAndGlyphs" stroke="#f2f2f7" stroke-width="0.6">ELEVATION</text>
<text x="311.63" y="1352.34" font-size="9.66" fill="#f2f2f7" textLength="23.54" lengthAdjust="spacingAndGlyphs" stroke="#f2f2f7" stroke-width="0.6">EQUAL</text>
<line x1="228.65" y1="1364.88" x2="246.69" y2="1364.88" stroke="#f2f2f7" stroke-width="1"/>
<line x1="262.15" y1="1364.88" x2="280.19" y2="1364.88" stroke="#f2f2f7" stroke-width="1"/>
<path d="M 246.69 1364.88 C 248.41 1360.07 253.56 1360.93 254.42 1363.85 C 255.28 1367.8 260.43 1367.8 262.15 1363.51" fill="none" stroke="#f2f2f7" stroke-width="1.2"/>
<text x="261.29" y="1389.62" font-size="10.17" fill="#f2f2f7" textLength="48.62" lengthAdjust="spacingAndGlyphs" stroke="#f2f2f7" stroke-width="0.6">FRONT VIEW</text>
<text x="370.38" y="1222.98" font-size="10.17" fill="#f2f2f7" textLength="73.87" lengthAdjust="spacingAndGlyphs" stroke="#f2f2f7" stroke-width="0.6">OPT. RAKEMOULD</text>
<text x="370.38" y="1231.75" font-size="10.17" fill="#f2f2f7" textLength="72.15" lengthAdjust="spacingAndGlyphs" stroke="#f2f2f7" stroke-width="0.6">OVER 1 x 8 RAKE</text>
<polyline points="368.66,1219.55 353.2,1219.55 275.9,1247.55" fill="none" stroke="#f2f2f7" stroke-width="1"/>
<polygon points="275.90,1247.55 282.11,1244.13 282.86,1246.20" fill="#f2f2f7"/>
<polyline points="444.25,1218.35 471.74,1210.62" fill="none" stroke="#f2f2f7" stroke-width="1"/>
<polygon points="471.74,1210.62 465.30,1213.57 464.70,1211.46" fill="#f2f2f7"/>
<text x="371.24" y="1246.35" font-size="10.17" fill="#f2f2f7" textLength="67.51" lengthAdjust="spacingAndGlyphs" stroke="#f2f2f7" stroke-width="0.6">4" CROWN OVER</text>
<text x="371.24" y="1254.42" font-size="10.17" fill="#f2f2f7" textLength="48.96" lengthAdjust="spacingAndGlyphs" stroke="#f2f2f7" stroke-width="0.6">1 x 8 FRIEZE</text>
<polyline points="368.66,1242.4 358.36,1242.4 293.08,1261.29" fill="none" stroke="#f2f2f7" stroke-width="1"/>
<polygon points="293.08,1261.29 299.50,1258.29 300.11,1260.40" fill="#f2f2f7"/>
<polyline points="420.2,1249.27 458.0,1248.41 499.23,1232.95" fill="none" stroke="#f2f2f7" stroke-width="1"/>
<polygon points="499.23,1232.95 493.06,1236.44 492.29,1234.38" fill="#f2f2f7"/>
<text x="371.24" y="1264.73" font-size="10.17" fill="#f2f2f7" textLength="79.88" lengthAdjust="spacingAndGlyphs" stroke="#f2f2f7" stroke-width="0.6">ROOFING MATERIAL</text>
<text x="371.24" y="1272.12" font-size="10.17" fill="#f2f2f7" textLength="66.14" lengthAdjust="spacingAndGlyphs" stroke="#f2f2f7" stroke-width="0.6">PER ELEVATION</text>
<polyline points="369.52,1260.43 348.05,1260.43 299.95,1280.19" fill="none" stroke="#f2f2f7" stroke-width="1"/>
<polygon points="299.95,1280.19 306.01,1276.51 306.84,1278.55" fill="#f2f2f7"/>
<polyline points="437.38,1267.31 454.56,1267.31 482.05,1275.9" fill="none" stroke="#f2f2f7" stroke-width="1"/>
<polygon points="482.05,1275.90 475.04,1274.86 475.70,1272.76" fill="#f2f2f7"/>
<text x="365.23" y="1309.91" font-size="10.17" fill="#f2f2f7" textLength="85.04" lengthAdjust="spacingAndGlyphs" stroke="#f2f2f7" stroke-width="0.6">OGEE GUTTER OVER</text>
<text x="365.23" y="1317.98" font-size="10.17" fill="#f2f2f7" textLength="51.54" lengthAdjust="spacingAndGlyphs" stroke="#f2f2f7" stroke-width="0.6">1 x 8 FASCIA</text>
<polyline points="363.51,1306.47 351.48,1305.1 316.27,1297.89" fill="none" stroke="#f2f2f7" stroke-width="1"/>
<polygon points="316.27,1297.89 323.35,1298.22 322.91,1300.37" fill="#f2f2f7"/>
<polyline points="416.77,1312.83 458.0,1312.83 482.05,1299.95" fill="none" stroke="#f2f2f7" stroke-width="1"/>
<polygon points="482.05,1299.95 476.40,1304.22 475.36,1302.29" fill="#f2f2f7"/>
<text x="366.09" y="1330.53" font-size="10.17" fill="#f2f2f7" textLength="67.51" lengthAdjust="spacingAndGlyphs" stroke="#f2f2f7" stroke-width="0.6">4" CROWN OVER</text>
<text x="366.09" y="1338.6" font-size="10.17" fill="#f2f2f7" textLength="48.96" lengthAdjust="spacingAndGlyphs" stroke="#f2f2f7" stroke-width="0.6">1 x 8 FRIEZE</text>
<polyline points="364.37,1326.57 344.61,1326.57 310.25,1314.55" fill="none" stroke="#f2f2f7" stroke-width="1"/>
<polygon points="310.25,1314.55 317.22,1315.82 316.49,1317.90" fill="#f2f2f7"/>
<polyline points="433.6,1325.72 445.97,1325.72 504.38,1311.11" fill="none" stroke="#f2f2f7" stroke-width="1"/>
<polygon points="504.38,1311.11 497.86,1313.88 497.32,1311.74" fill="#f2f2f7"/>
<text x="365.23" y="1348.91" font-size="10.17" fill="#f2f2f7" textLength="91.05" lengthAdjust="spacingAndGlyphs" stroke="#f2f2f7" stroke-width="0.6">NOTE : BOX CORNICE</text>
<text x="365.23" y="1357.5" font-size="10.17" fill="#f2f2f7" textLength="69.58" lengthAdjust="spacingAndGlyphs" stroke="#f2f2f7" stroke-width="0.6">CUT 5" W/ BRICK</text>
<text x="365.23" y="1365.23" font-size="10.17" fill="#f2f2f7" textLength="42.95" lengthAdjust="spacingAndGlyphs" stroke="#f2f2f7" stroke-width="0.6">OR STONE</text>
<polyline points="364.37,1344.61 341.18,1344.61 291.36,1323.14" fill="none" stroke="#f2f2f7" stroke-width="1"/>
<polygon points="291.36,1323.14 298.22,1324.90 297.35,1326.92" fill="#f2f2f7"/>
<text x="366.09" y="1380.69" font-size="10.17" fill="#f2f2f7" textLength="63.56" lengthAdjust="spacingAndGlyphs" stroke="#f2f2f7" stroke-width="0.6">RETURN CROWN</text>
<polyline points="429.65,1377.6 442.53,1377.6 506.1,1317.13" fill="none" stroke="#f2f2f7" stroke-width="1"/>
<polygon points="506.10,1317.13 501.79,1322.75 500.27,1321.16" fill="#f2f2f7"/>
<line x1="467.44" y1="1207.18" x2="490.64" y2="1207.18" stroke="#f2f2f7" stroke-width="1"/>
<line x1="504.38" y1="1207.18" x2="531.01" y2="1207.18" stroke="#f2f2f7" stroke-width="1"/>
<path d="M 490.64 1207.18 C 492.35 1202.03 497.51 1202.88 498.37 1206.32 C 499.23 1208.9 502.66 1208.9 504.38 1207.18" fill="none" stroke="#f2f2f7" stroke-width="1.2"/>
<line x1="474.32" y1="1207.18" x2="474.32" y2="1289.64" stroke="#f2f2f7" stroke-width="1"/>
<line x1="478.61" y1="1207.18" x2="478.61" y2="1289.64" stroke="#f2f2f7" stroke-width="1"/>
<line x1="500.08" y1="1207.18" x2="500.08" y2="1291.36" stroke="#f2f2f7" stroke-width="1"/>
<line x1="503.0" y1="1207.18" x2="503.0" y2="1291.36" stroke="#f2f2f7" stroke-width="1"/>
<line x1="505.75" y1="1207.18" x2="505.75" y2="1366.95" stroke="#f2f2f7" stroke-width="1"/>
<line x1="509.19" y1="1207.18" x2="509.19" y2="1366.95" stroke="#f2f2f7" stroke-width="1"/>
<line x1="512.11" y1="1207.18" x2="512.11" y2="1366.95" stroke="#f2f2f7" stroke-width="1"/>
<line x1="520.7" y1="1207.18" x2="520.7" y2="1364.37" stroke="#f2f2f7" stroke-width="1"/>
<line x1="524.14" y1="1207.18" x2="524.14" y2="1366.95" stroke="#f2f2f7" stroke-width="1"/>
<path d="M 509.19 1366.95 C 511.25 1369.52 516.4 1369.52 520.7 1364.37" fill="none" stroke="#f2f2f7" stroke-width="1.2"/>
<text x="489.78" y="1268.68" font-size="7.63" fill="#f2f2f7" textLength="4.29" lengthAdjust="spacingAndGlyphs" stroke="#f2f2f7" stroke-width="0.6">12</text>
<polyline points="486.34,1271.6 500.94,1271.6 486.34,1279.33 486.34,1271.6" fill="none" stroke="#f2f2f7" stroke-width="1"/>
<line x1="480.33" y1="1288.78" x2="507.81" y2="1273.32" stroke="#f2f2f7" stroke-width="1"/>
<line x1="478.61" y1="1288.78" x2="509.53" y2="1288.78" stroke="#f2f2f7" stroke-width="1"/>
<polyline points="458.85,1291.36 509.53,1291.36" fill="none" stroke="#f2f2f7" stroke-width="1.2"/>
<polyline points="458.85,1291.36 460.57,1295.14 466.93,1302.52 509.53,1302.52" fill="none" stroke="#f2f2f7" stroke-width="1.2"/>
<line x1="459.71" y1="1293.93" x2="509.53" y2="1293.93" stroke="#f2f2f7" stroke-width="0.9"/>
<rect x="476.89" y="1304.24" width="32.64" height="4.3" fill="none" stroke="#f2f2f7" stroke-width="1"/>
<polyline points="497.51,1310.25 509.53,1310.25" fill="none" stroke="#f2f2f7" stroke-width="1"/>
<polyline points="499.23,1310.25 505.24,1317.13 509.53,1317.13" fill="none" stroke="#f2f2f7" stroke-width="1.1"/>
<line x1="506.96" y1="1317.13" x2="506.96" y2="1327.43" stroke="#f2f2f7" stroke-width="1"/>
<line x1="489.78" y1="1364.88" x2="506.1" y2="1364.88" stroke="#f2f2f7" stroke-width="1"/>
<line x1="463.15" y1="1371.76" x2="476.03" y2="1371.76" stroke="#f2f2f7" stroke-width="1"/>
<text x="495.45" y="1382.06" font-size="10.17" fill="#f2f2f7" textLength="42.43" lengthAdjust="spacingAndGlyphs" stroke="#f2f2f7" stroke-width="0.6">SIDE VIEW</text>
</g>
<g id="s_f">
<polyline points="1177.73,828.93 1345.38,663.57" fill="none" stroke="#f2f2f7" stroke-width="2.8"/>
<line x1="1313.31" y1="633.13" x2="1383.3" y2="694.17" stroke="#f2f2f7" stroke-width="1"/>
<path d="M 1351.56 672.19 L 1358.07 666.5 L 1355.63 671.38 L 1360.51 668.12" fill="none" stroke="#f2f2f7" stroke-width="1"/>
<line x1="1227.05" y1="846.35" x2="1378.42" y2="691.73" stroke="#f2f2f7" stroke-width="1"/>
<line x1="1253.91" y1="778.8" x2="1343.42" y2="689.28" stroke="#f2f2f7" stroke-width="1" stroke-dasharray="10 6"/>
<polyline points="1240.07,682.45 1288.9,682.45 1240.56,730.79 1240.07,682.45" fill="none" stroke="#f2f2f7" stroke-width="1"/>
<polyline points="1227.86,782.87 1232.75,792.64 1238.44,787.75" fill="none" stroke="#f2f2f7" stroke-width="1"/>
<polyline points="1249.84,772.62 1263.67,760.08 1276.69,773.92 1262.86,786.45 1249.84,772.62" fill="none" stroke="#f2f2f7" stroke-width="1"/>
<circle cx="1263.67" cy="766.6" r="0.81" fill="#f2f2f7" stroke="none" stroke-width="0"/>
<circle cx="1257.98" cy="773.92" r="0.81" fill="#f2f2f7" stroke="none" stroke-width="0"/>
<circle cx="1269.37" cy="773.11" r="0.81" fill="#f2f2f7" stroke="none" stroke-width="0"/>
<circle cx="1264.49" cy="778.8" r="0.81" fill="#f2f2f7" stroke="none" stroke-width="0"/>
<rect x="1250.65" y="783.68" width="9.77" height="16.28" fill="none" stroke="#f2f2f7" stroke-width="1"/>
<circle cx="1253.91" cy="787.75" r="0.65" fill="#f2f2f7" stroke="none" stroke-width="0"/>
<circle cx="1257.16" cy="791.82" r="0.65" fill="#f2f2f7" stroke="none" stroke-width="0"/>
<circle cx="1254.72" cy="795.4" r="0.65" fill="#f2f2f7" stroke="none" stroke-width="0"/>
<rect x="1250.65" y="799.96" width="19.53" height="8.95" fill="#24283d" stroke="#f2f2f7" stroke-width="1"/>
<line x1="1250.65" y1="799.96" x2="1270.18" y2="808.91" stroke="#f2f2f7" stroke-width="0.9"/>
<line x1="1270.18" y1="799.96" x2="1250.65" y2="808.91" stroke="#f2f2f7" stroke-width="0.9"/>
<line x1="1249.02" y1="808.91" x2="1249.02" y2="860.18" stroke="#f2f2f7" stroke-width="1"/>
<line x1="1251.79" y1="808.91" x2="1251.79" y2="860.18" stroke="#f2f2f7" stroke-width="1"/>
<line x1="1270.18" y1="799.96" x2="1270.18" y2="882.97" stroke="#f2f2f7" stroke-width="1"/>
<line x1="1263.67" y1="760.08" x2="1363.77" y2="860.18" stroke="#f2f2f7" stroke-width="1"/>
<line x1="1270.18" y1="793.45" x2="1338.54" y2="860.18" stroke="#f2f2f7" stroke-width="1"/>
<line x1="1276.69" y1="773.92" x2="1213.22" y2="837.4" stroke="#f2f2f7" stroke-width="1"/>
<rect x="1178.22" y="828.44" width="5.37" height="41.51" fill="url(#grout)" stroke="none" stroke-width="0"/>
<rect x="1184.41" y="829.26" width="7.65" height="29.29" fill="#24283d" stroke="#f2f2f7" stroke-width="1"/>
<line x1="1184.41" y1="829.26" x2="1192.06" y2="858.55" stroke="#f2f2f7" stroke-width="0.9"/>
<line x1="1192.06" y1="829.26" x2="1184.41" y2="858.55" stroke="#f2f2f7" stroke-width="0.9"/>
<line x1="1192.06" y1="838.7" x2="1248.21" y2="838.7" stroke="#f2f2f7" stroke-width="1"/>
<rect x="1240.56" y="839.84" width="7.65" height="18.39" fill="#24283d" stroke="#f2f2f7" stroke-width="1"/>
<line x1="1240.56" y1="839.84" x2="1248.21" y2="858.23" stroke="#f2f2f7" stroke-width="0.9"/>
<line x1="1248.21" y1="839.84" x2="1240.56" y2="858.23" stroke="#f2f2f7" stroke-width="0.9"/>
<rect x="1183.92" y="858.25" width="60.22" height="3.25" fill="#e8e8ef" stroke="none" stroke-width="0"/>
<line x1="1183.92" y1="861.5" x2="1183.92" y2="911.15" stroke="#f2f2f7" stroke-width="1"/>
<line x1="1183.92" y1="908.38" x2="1244.14" y2="908.38" stroke="#f2f2f7" stroke-width="1"/>
<polygon points="1184.24,908.38 1191.24,907.28 1191.24,909.48" fill="#f2f2f7"/>
<polygon points="1243.82,908.38 1236.82,909.48 1236.82,907.28" fill="#f2f2f7"/>
<text x="1204.75" y="906.26" font-size="9.16" fill="#f2f2f7" textLength="18.23" lengthAdjust="spacingAndGlyphs" stroke="#f2f2f7" stroke-width="0.6">1'-0"</text>
<polyline points="1230.31,862.64 1244.14,876.64" fill="none" stroke="#f2f2f7" stroke-width="2.6"/>
<line x1="1234.38" y1="873.71" x2="1234.38" y2="904.64" stroke="#f2f2f7" stroke-width="1" stroke-dasharray="5 3"/>
<line x1="1238.44" y1="873.71" x2="1238.44" y2="911.15" stroke="#f2f2f7" stroke-width="1"/>
<polyline points="1243.33,911.15 1237.96,926.61 1237.96,928.24 1243.33,928.24" fill="none" stroke="#f2f2f7" stroke-width="1"/>
<polyline points="1243.33,928.24 1237.96,943.7 1237.96,945.33 1243.33,945.33" fill="none" stroke="#f2f2f7" stroke-width="1"/>
<polyline points="1243.33,945.33 1237.96,960.79 1237.96,962.42 1243.33,962.42" fill="none" stroke="#f2f2f7" stroke-width="1"/>
<polyline points="1243.33,979.51 1237.96,994.97 1237.96,996.6 1243.33,996.6" fill="none" stroke="#f2f2f7" stroke-width="1"/>
<polyline points="1243.33,996.6 1237.96,1012.06 1237.96,1013.68 1243.33,1013.68" fill="none" stroke="#f2f2f7" stroke-width="1"/>
<polyline points="1243.33,1013.68 1237.96,1029.15 1237.96,1030.77 1243.33,1030.77" fill="none" stroke="#f2f2f7" stroke-width="1"/>
<polyline points="1243.33,1030.77 1237.96,1046.24 1237.96,1047.86 1243.33,1047.86" fill="none" stroke="#f2f2f7" stroke-width="1"/>
<polyline points="1243.33,1047.86 1237.96,1063.33 1237.96,1064.95 1243.33,1064.95" fill="none" stroke="#f2f2f7" stroke-width="1"/>
<polyline points="1243.33,1064.95 1237.96,1080.42 1237.96,1082.04 1243.33,1082.04" fill="none" stroke="#f2f2f7" stroke-width="1"/>
<polyline points="1243.33,1082.04 1237.96,1097.51 1237.96,1099.13 1243.33,1099.13" fill="none" stroke="#f2f2f7" stroke-width="1"/>
<rect x="1245.44" y="859.06" width="6.02" height="410.97" fill="#e8e8ef" stroke="none" stroke-width="0"/>
<line x1="1249.02" y1="806.98" x2="1249.02" y2="820.0" stroke="#f2f2f7" stroke-width="1"/>
<rect x="1252.6" y="848.48" width="16.77" height="8.95" fill="#24283d" stroke="#f2f2f7" stroke-width="1"/>
<line x1="1252.6" y1="848.48" x2="1269.37" y2="857.43" stroke="#f2f2f7" stroke-width="0.9"/>
<line x1="1269.37" y1="848.48" x2="1252.6" y2="857.43" stroke="#f2f2f7" stroke-width="0.9"/>
<line x1="1270.18" y1="820.0" x2="1270.18" y2="857.43" stroke="#f2f2f7" stroke-width="1"/>
<rect x="1252.6" y="858.25" width="8.63" height="45.57" fill="#24283d" stroke="#f2f2f7" stroke-width="1"/>
<line x1="1252.6" y1="858.25" x2="1261.23" y2="903.82" stroke="#f2f2f7" stroke-width="0.9"/>
<line x1="1261.23" y1="858.25" x2="1252.6" y2="903.82" stroke="#f2f2f7" stroke-width="0.9"/>
<rect x="1270.18" y="854.18" width="150.56" height="49.15" fill="#24283d" stroke="none" stroke-width="0"/>
<polyline points="1270.18,878.76 1274.48,890.3 1278.79,898.6 1283.09,901.35 1287.39,897.77 1291.69,888.86 1295.99,877.12 1300.29,865.84 1304.59,858.18 1308.9,856.28 1313.2,860.68 1317.5,870.14 1321.8,882.02 1326.1,892.98 1330.4,899.96 1334.71,901.0 1339.01,895.81 1343.31,885.84 1347.61,873.88 1351.91,863.3 1356.21,857.04 1360.51,856.87 1364.82,862.83 1369.12,873.25 1373.42,885.21 1377.72,895.37 1382.02,900.87 1386.32,900.18 1390.62,893.48 1394.93,882.66 1399.23,870.75 1403.53,861.08 1407.83,856.36 1412.13,857.91 1416.43,865.31 1420.74,876.47" fill="none" stroke="#f2f2f7" stroke-width="1.1"/>
<polyline points="1270.18,878.76 1274.48,867.22 1278.79,858.91 1283.09,856.16 1287.39,859.74 1291.69,868.65 1295.99,880.39 1300.29,891.67 1304.59,899.34 1308.9,901.23 1313.2,896.83 1317.5,887.37 1321.8,875.49 1326.1,864.53 1330.4,857.55 1334.71,856.52 1339.01,861.71 1343.31,871.68 1347.61,883.63 1351.91,894.22 1356.21,900.47 1360.51,900.65 1364.82,894.69 1369.12,884.27 1373.42,872.3 1377.72,862.14 1382.02,856.64 1386.32,857.33 1390.62,864.03 1394.93,874.85 1399.23,886.76 1403.53,896.43 1407.83,901.15 1412.13,899.6 1416.43,892.21 1420.74,881.04" fill="none" stroke="#f2f2f7" stroke-width="1.1"/>
<line x1="1251.46" y1="857.11" x2="1502.93" y2="857.11" stroke="#f2f2f7" stroke-width="1.1"/>
<line x1="1251.46" y1="904.64" x2="1502.12" y2="904.64" stroke="#f2f2f7" stroke-width="1.2"/>
<line x1="1271.0" y1="907.89" x2="1502.12" y2="907.89" stroke="#f2f2f7" stroke-width="1.2"/>
<line x1="1292.15" y1="823.26" x2="1375.16" y2="898.12" stroke="#f2f2f7" stroke-width="1"/>
<line x1="1360.51" y1="820.0" x2="1305.18" y2="881.85" stroke="#f2f2f7" stroke-width="1"/>
<polyline points="1363.77,873.71 1379.23,867.2 1388.18,888.36 1372.72,896.5 1363.77,873.71" fill="none" stroke="#f2f2f7" stroke-width="1"/>
<circle cx="1370.28" cy="872.9" r="0.81" fill="#f2f2f7" stroke="none" stroke-width="0"/>
<circle cx="1364.58" cy="880.22" r="0.81" fill="#f2f2f7" stroke="none" stroke-width="0"/>
<circle cx="1375.98" cy="879.41" r="0.81" fill="#f2f2f7" stroke="none" stroke-width="0"/>
<circle cx="1370.28" cy="885.1" r="0.81" fill="#f2f2f7" stroke="none" stroke-width="0"/>
<path d="M 1304.36 844.41 C 1305.99 833.02 1315.76 826.51 1324.71 824.88" fill="none" stroke="#f2f2f7" stroke-width="1"/>
<rect x="1252.6" y="906.26" width="17.91" height="50.95" fill="#24283d" stroke="none" stroke-width="0"/>
<polyline points="1261.56,906.26 1265.76,907.72 1268.78,909.17 1269.79,910.63 1268.49,912.09 1265.26,913.54 1260.99,915.0 1256.88,916.45 1254.07,917.91 1253.36,919.36 1254.95,920.82 1258.37,922.27 1262.69,923.73 1266.69,925.19 1269.26,926.64 1269.67,928.1 1267.81,929.55 1264.2,931.01 1259.86,932.46 1255.99,933.92 1253.67,935.37 1253.56,936.83 1255.69,938.28 1259.45,939.74 1263.81,941.2 1267.53,942.65 1269.59,944.11 1269.4,945.56 1267.01,947.02 1263.1,948.47 1258.76,949.93 1255.2,951.38 1253.42,952.84 1253.91,954.3 1256.54,955.75 1260.57,957.21" fill="none" stroke="#f2f2f7" stroke-width="1.1"/>
<polyline points="1261.56,906.26 1257.36,907.72 1254.33,909.17 1253.33,910.63 1254.62,912.09 1257.86,913.54 1262.13,915.0 1266.24,916.45 1269.04,917.91 1269.75,919.36 1268.17,920.82 1264.74,922.27 1260.42,923.73 1256.42,925.19 1253.85,926.64 1253.44,928.1 1255.3,929.55 1258.91,931.01 1263.25,932.46 1267.13,933.92 1269.44,935.37 1269.55,936.83 1267.43,938.28 1263.66,939.74 1259.3,941.2 1255.58,942.65 1253.53,944.11 1253.72,945.56 1256.1,947.02 1260.01,948.47 1264.35,949.93 1267.91,951.38 1269.69,952.84 1269.2,954.3 1266.57,955.75 1262.54,957.21" fill="none" stroke="#f2f2f7" stroke-width="1.1"/>
<rect x="1252.6" y="974.13" width="17.91" height="43.3" fill="#24283d" stroke="none" stroke-width="0"/>
<polyline points="1261.56,974.13 1265.72,975.58 1268.75,977.02 1269.79,978.46 1268.57,979.91 1265.42,981.35 1261.21,982.79 1257.09,984.24 1254.2,985.68 1253.34,987.12 1254.73,988.57 1258.0,990.01 1262.25,991.45 1266.3,992.89 1269.06,994.34 1269.75,995.78 1268.18,997.22 1264.8,998.67 1260.52,1000.11 1256.53,1001.55 1253.92,1003.0 1253.41,1004.44 1255.14,1005.88 1258.63,1007.33 1262.93,1008.77 1266.85,1010.21 1269.31,1011.66 1269.65,1013.1 1267.75,1014.54 1264.16,1015.99 1259.84,1017.43" fill="none" stroke="#f2f2f7" stroke-width="1.1"/>
<polyline points="1261.56,974.13 1257.39,975.58 1254.37,977.02 1253.32,978.46 1254.54,979.91 1257.69,981.35 1261.9,982.79 1266.02,984.24 1268.91,985.68 1269.78,987.12 1268.38,988.57 1265.11,990.01 1260.87,991.45 1256.81,992.89 1254.06,994.34 1253.37,995.78 1254.93,997.22 1258.31,998.67 1262.59,1000.11 1266.58,1001.55 1269.19,1003.0 1269.7,1004.44 1267.97,1005.88 1264.48,1007.33 1260.18,1008.77 1256.26,1010.21 1253.8,1011.66 1253.47,1013.1 1255.36,1014.54 1258.96,1015.99 1263.27,1017.43" fill="none" stroke="#f2f2f7" stroke-width="1.1"/>
<line x1="1271.48" y1="907.89" x2="1271.48" y2="1017.75" stroke="#f2f2f7" stroke-width="1"/>
<line x1="1276.69" y1="907.89" x2="1276.69" y2="1017.75" stroke="#f2f2f7" stroke-width="1"/>
<polyline points="1275.07,927.42 1291.34,908.7" fill="none" stroke="#f2f2f7" stroke-width="2.6"/>
<polygon points="1273.93,989.27 1276.69,991.71 1276.69,1002.29 1273.93,1002.29" fill="#e8e8ef" stroke="none" stroke-width="0"/>
<rect x="1240.89" y="958.02" width="41.5" height="15.46" fill="#24283d" stroke="none" stroke-width="0"/>
<line x1="1210.77" y1="957.53" x2="1281.58" y2="957.53" stroke="#f2f2f7" stroke-width="1.1"/>
<line x1="1210.77" y1="973.81" x2="1281.58" y2="973.81" stroke="#f2f2f7" stroke-width="1.1"/>
<polyline points="1239.26,946.95 1237.96,963.23 1242.51,959.97 1240.56,986.02" fill="none" stroke="#f2f2f7" stroke-width="1.1"/>
<line x1="1303.55" y1="968.11" x2="1303.55" y2="1020.2" stroke="#f2f2f7" stroke-width="1"/>
<line x1="1280.76" y1="979.18" x2="1314.94" y2="979.18" stroke="#f2f2f7" stroke-width="1"/>
<line x1="1286.46" y1="963.23" x2="1319.82" y2="995.78" stroke="#f2f2f7" stroke-width="1"/>
<line x1="1286.46" y1="1005.55" x2="1319.01" y2="1038.1" stroke="#f2f2f7" stroke-width="1"/>
<rect x="1251.46" y="1017.75" width="108.24" height="4.89" fill="#e8e8ef" stroke="none" stroke-width="0" opacity="0.9"/>
<rect x="1252.6" y="1022.96" width="7.33" height="48.18" fill="#24283d" stroke="#f2f2f7" stroke-width="1"/>
<line x1="1252.6" y1="1022.96" x2="1259.93" y2="1071.14" stroke="#f2f2f7" stroke-width="0.9"/>
<line x1="1259.93" y1="1022.96" x2="1252.6" y2="1071.14" stroke="#f2f2f7" stroke-width="0.9"/>
<line x1="1251.46" y1="1071.46" x2="1358.07" y2="1071.46" stroke="#f2f2f7" stroke-width="1.1"/>
<line x1="1271.0" y1="1074.72" x2="1358.07" y2="1074.72" stroke="#f2f2f7" stroke-width="1"/>
<line x1="1359.7" y1="1008.8" x2="1359.7" y2="1080.42" stroke="#f2f2f7" stroke-width="1"/>
<polyline points="1359.7,1036.47 1354.82,1040.05 1363.77,1041.68 1359.7,1045.42" fill="none" stroke="#f2f2f7" stroke-width="1"/>
<rect x="1252.6" y="1073.91" width="16.77" height="8.95" fill="#24283d" stroke="#f2f2f7" stroke-width="1"/>
<line x1="1252.6" y1="1073.91" x2="1269.37" y2="1082.86" stroke="#f2f2f7" stroke-width="0.9"/>
<line x1="1269.37" y1="1073.91" x2="1252.6" y2="1082.86" stroke="#f2f2f7" stroke-width="0.9"/>
<rect x="1252.6" y="1082.86" width="16.77" height="8.95" fill="#24283d" stroke="#f2f2f7" stroke-width="1"/>
<line x1="1252.6" y1="1082.86" x2="1269.37" y2="1091.81" stroke="#f2f2f7" stroke-width="0.9"/>
<line x1="1269.37" y1="1082.86" x2="1252.6" y2="1091.81" stroke="#f2f2f7" stroke-width="0.9"/>
<rect x="1252.6" y="1092.55" width="17.91" height="31.74" fill="#24283d" stroke="none" stroke-width="0"/>
<polyline points="1261.56,1092.55 1265.72,1093.99 1268.74,1095.44 1269.79,1096.88 1268.57,1098.32 1265.43,1099.77 1261.22,1101.21 1257.1,1102.65 1254.21,1104.09 1253.34,1105.54 1254.72,1106.98 1257.98,1108.42 1262.23,1109.86 1266.29,1111.31 1269.05,1112.75 1269.75,1114.19 1268.2,1115.63 1264.82,1117.08 1260.55,1118.52 1256.55,1119.96 1253.93,1121.41 1253.4,1122.85 1255.12,1124.29" fill="none" stroke="#f2f2f7" stroke-width="1.1"/>
<polyline points="1261.56,1092.55 1257.39,1093.99 1254.37,1095.44 1253.32,1096.88 1254.54,1098.32 1257.68,1099.77 1261.89,1101.21 1266.01,1102.65 1268.9,1104.09 1269.78,1105.54 1268.39,1106.98 1265.13,1108.42 1260.88,1109.86 1256.82,1111.31 1254.06,1112.75 1253.36,1114.19 1254.91,1115.63 1258.29,1117.08 1262.56,1118.52 1266.56,1119.96 1269.18,1121.41 1269.71,1122.85 1267.99,1124.29" fill="none" stroke="#f2f2f7" stroke-width="1.1"/>
<rect x="1252.6" y="1149.52" width="17.91" height="54.52" fill="#24283d" stroke="none" stroke-width="0"/>
<polyline points="1261.56,1149.52 1265.7,1150.95 1268.72,1152.39 1269.79,1153.82 1268.62,1155.26 1265.53,1156.69 1261.36,1158.13 1257.24,1159.56 1254.3,1161.0 1253.33,1162.43 1254.59,1163.87 1257.75,1165.3 1261.94,1166.74 1266.03,1168.17 1268.9,1169.61 1269.78,1171.04 1268.41,1172.48 1265.19,1173.91 1260.97,1175.35 1256.92,1176.78 1254.12,1178.22 1253.35,1179.65 1254.81,1181.09 1258.1,1182.52 1262.33,1183.95 1266.35,1185.39 1269.07,1186.82 1269.75,1188.26 1268.19,1189.69 1264.83,1191.13 1260.59,1192.56 1256.6,1194.0 1253.96,1195.43 1253.39,1196.87 1255.04,1198.3 1258.46,1199.74 1262.72,1201.17 1266.67,1202.61 1269.22,1204.04" fill="none" stroke="#f2f2f7" stroke-width="1.1"/>
<polyline points="1261.56,1149.52 1257.41,1150.95 1254.39,1152.39 1253.32,1153.82 1254.49,1155.26 1257.58,1156.69 1261.75,1158.13 1265.87,1159.56 1268.81,1161.0 1269.79,1162.43 1268.52,1163.87 1265.36,1165.3 1261.17,1166.74 1257.08,1168.17 1254.21,1169.61 1253.33,1171.04 1254.7,1172.48 1257.92,1173.91 1262.14,1175.35 1266.2,1176.78 1268.99,1178.22 1269.76,1179.65 1268.31,1181.09 1265.01,1182.52 1260.78,1183.95 1256.76,1185.39 1254.04,1186.82 1253.37,1188.26 1254.92,1189.69 1258.28,1191.13 1262.53,1192.56 1266.51,1194.0 1269.15,1195.43 1269.72,1196.87 1268.07,1198.3 1264.66,1199.74 1260.39,1201.17 1256.45,1202.61 1253.89,1204.04" fill="none" stroke="#f2f2f7" stroke-width="1.1"/>
<line x1="1271.48" y1="1073.83" x2="1271.48" y2="1204.04" stroke="#f2f2f7" stroke-width="1"/>
<line x1="1276.69" y1="1073.83" x2="1276.69" y2="1204.04" stroke="#f2f2f7" stroke-width="1"/>
<polyline points="1275.07,1100.69 1292.97,1075.46" fill="none" stroke="#f2f2f7" stroke-width="2.6"/>
<polygon points="1274.74,1177.19 1277.83,1179.63 1277.83,1204.04 1274.74,1204.04" fill="#e8e8ef" stroke="none" stroke-width="0"/>
<rect x="1240.89" y="1125.59" width="42.31" height="14.65" fill="#24283d" stroke="none" stroke-width="0"/>
<line x1="1210.77" y1="1125.1" x2="1301.11" y2="1125.1" stroke="#f2f2f7" stroke-width="1.1"/>
<line x1="1210.77" y1="1140.57" x2="1301.11" y2="1140.57" stroke="#f2f2f7" stroke-width="1.1"/>
<polyline points="1257.98,1116.97 1260.42,1136.5 1264.49,1131.61 1266.93,1151.15" fill="none" stroke="#f2f2f7" stroke-width="1.1"/>
<rect x="1251.46" y="1205.35" width="108.24" height="4.39" fill="#e8e8ef" stroke="none" stroke-width="0" opacity="0.9"/>
<rect x="1252.6" y="1210.07" width="7.33" height="47.36" fill="#24283d" stroke="#f2f2f7" stroke-width="1"/>
<line x1="1252.6" y1="1210.07" x2="1259.93" y2="1257.43" stroke="#f2f2f7" stroke-width="0.9"/>
<line x1="1259.93" y1="1210.07" x2="1252.6" y2="1257.43" stroke="#f2f2f7" stroke-width="0.9"/>
<rect x="1266.93" y="1210.55" width="91.14" height="46.72" fill="#24283d" stroke="none" stroke-width="0"/>
<polyline points="1266.93,1233.91 1271.27,1244.97 1275.61,1252.87 1279.95,1255.37 1284.29,1251.75 1288.63,1243.05 1292.97,1231.74 1297.31,1221.05 1301.65,1214.02 1305.99,1212.67 1310.33,1217.37 1314.67,1226.79 1319.01,1238.23 1323.35,1248.45 1327.69,1254.52 1332.03,1254.71 1336.37,1248.97 1340.71,1238.94 1345.05,1227.48 1349.39,1217.84 1353.73,1212.79 1358.07,1213.76" fill="none" stroke="#f2f2f7" stroke-width="1.1"/>
<polyline points="1266.93,1233.91 1271.27,1222.85 1275.61,1214.95 1279.95,1212.45 1284.29,1216.07 1288.63,1224.77 1292.97,1236.08 1297.31,1246.77 1301.65,1253.8 1305.99,1255.15 1310.33,1250.45 1314.67,1241.03 1319.01,1229.58 1323.35,1219.37 1327.69,1213.3 1332.03,1213.11 1336.37,1218.84 1340.71,1228.88 1345.05,1240.34 1349.39,1249.97 1353.73,1255.03 1358.07,1254.06" fill="none" stroke="#f2f2f7" stroke-width="1.1"/>
<line x1="1251.46" y1="1258.08" x2="1360.03" y2="1258.08" stroke="#f2f2f7" stroke-width="1.1"/>
<line x1="1251.46" y1="1259.71" x2="1360.03" y2="1259.71" stroke="#f2f2f7" stroke-width="0.8"/>
<line x1="1360.03" y1="1189.88" x2="1360.03" y2="1269.15" stroke="#f2f2f7" stroke-width="1"/>
<polyline points="1360.03,1227.64 1354.82,1230.08 1365.4,1230.9 1360.03,1234.15" fill="none" stroke="#f2f2f7" stroke-width="1"/>
<rect x="1252.6" y="1259.87" width="27.35" height="5.53" fill="#24283d" stroke="#f2f2f7" stroke-width="1"/>
<line x1="1252.6" y1="1259.87" x2="1279.95" y2="1265.4" stroke="#f2f2f7" stroke-width="0.9"/>
<line x1="1279.95" y1="1259.87" x2="1252.6" y2="1265.4" stroke="#f2f2f7" stroke-width="0.9"/>
<line x1="1170.08" y1="1271.59" x2="1228.68" y2="1271.59" stroke="#f2f2f7" stroke-width="1"/>
<line x1="1173.34" y1="1271.59" x2="1173.34" y2="1540.63" stroke="#f2f2f7" stroke-width="1"/>
<text x="1170.41" y="1309.02" font-size="10.36" fill="#f2f2f7" textLength="28.48" lengthAdjust="spacingAndGlyphs" transform="rotate(-90 1170.41 1309.02)" stroke="#f2f2f7" stroke-width="0.6">6" MIN.</text>
<rect x="1182.29" y="1306.58" width="43.95" height="12.21" fill="url(#grout)" stroke="none" stroke-width="0"/>
<line x1="1157.06" y1="1325.48" x2="1245.77" y2="1326.13" stroke="#f2f2f7" stroke-width="1"/>
<polygon points="1173.34,1325.16 1172.24,1318.16 1174.44,1318.16" fill="#f2f2f7"/>
<polygon points="1173.34,1326.13 1174.44,1333.13 1172.24,1333.13" fill="#f2f2f7"/>
<polygon points="1173.34,1540.33 1172.24,1533.33 1174.44,1533.33" fill="#f2f2f7"/>
<line x1="1170.08" y1="1540.65" x2="1187.17" y2="1540.65" stroke="#f2f2f7" stroke-width="1.1"/>
<text x="1170.41" y="1451.13" font-size="10.36" fill="#f2f2f7" textLength="27.99" lengthAdjust="spacingAndGlyphs" transform="rotate(-90 1170.41 1451.13)" stroke="#f2f2f7" stroke-width="0.6">12" MIN.</text>
<polygon points="1071.61,1340.78 1125.33,1334.27 1175.78,1332.64 1245.77,1326.13 1245.77,1336.39 1203.45,1342.08 1167.64,1346.15 1072.43,1352.66" fill="url(#bond)" stroke="none" stroke-width="0"/>
<polyline points="1071.61,1340.78 1125.33,1334.27 1175.78,1332.64 1245.77,1326.13" fill="none" stroke="#f2f2f7" stroke-width="1"/>
<polygon points="1291.83,1424.77 1354.0,1430.3 1410.97,1433.23 1465.49,1438.93 1465.49,1452.76 1354.0,1444.62 1292.15,1438.93" fill="url(#bond)" stroke="none" stroke-width="0"/>
<polyline points="1291.83,1424.77 1354.0,1430.3 1410.97,1433.23 1465.49,1438.93" fill="none" stroke="#f2f2f7" stroke-width="1"/>
<rect x="1246.58" y="1265.59" width="11.72" height="220.54" fill="url(#grout)" stroke="none" stroke-width="0"/>
<rect x="1282.39" y="1265.59" width="8.95" height="220.54" fill="url(#grout)" stroke="none" stroke-width="0"/>
<rect x="1258.46" y="1265.59" width="3.91" height="220.54" fill="#e8e8ef" stroke="none" stroke-width="0"/>
<line x1="1260.42" y1="1265.59" x2="1260.42" y2="1530.89" stroke="#24283d" stroke-width="1.2"/>
<path d="M1266.0 1430.8h1.0v1.0h-1.0zM1271.8 1347.5h1.1v1.1h-1.1zM1278.0 1399.6h0.9v0.9h-0.9zM1267.3 1310.1h0.8v0.8h-0.8zM1273.8 1321.7h1.1v1.1h-1.1z" fill="#f2f2f7"/>
<path d="M1270.3 1351.3L1265.9 1351.7L1266.7 1348.7zM1283.8 1437.1L1282.0 1441.2L1279.8 1438.9zM1272.9 1318.4L1273.4 1314.0L1276.2 1315.5zM1275.2 1328.9L1271.8 1331.7L1270.8 1328.6zM1271.1 1333.8L1270.8 1338.2L1267.9 1336.9zM1262.1 1473.6L1265.6 1470.9L1266.5 1473.9zM1270.0 1370.1L1273.9 1368.1L1274.3 1371.3zM1268.5 1313.7L1266.9 1317.8L1264.6 1315.7zM1268.1 1449.8L1265.5 1446.2L1268.6 1445.4zM1281.1 1463.5L1282.6 1467.6L1279.4 1467.5zM1276.7 1408.4L1278.8 1412.3L1275.7 1412.7zM1266.6 1390.4L1266.1 1394.8L1263.3 1393.3zM1269.1 1469.7L1267.0 1473.6L1264.9 1471.2zM1267.5 1374.7L1270.9 1371.9L1271.9 1375.0z" fill="none" stroke="#f2f2f7" stroke-width="0.8"/>
<line x1="1258.3" y1="1307.58" x2="1282.39" y2="1307.58" stroke="#f2f2f7" stroke-width="1.6"/>
<line x1="1258.3" y1="1351.52" x2="1282.39" y2="1351.52" stroke="#f2f2f7" stroke-width="1.6"/>
<line x1="1258.3" y1="1397.1" x2="1282.39" y2="1397.1" stroke="#f2f2f7" stroke-width="1.6"/>
<line x1="1258.3" y1="1441.37" x2="1282.39" y2="1441.37" stroke="#f2f2f7" stroke-width="1.6"/>
<rect x="1258.79" y="1280.23" width="22.79" height="26.05" fill="#24283d" stroke="#f2f2f7" stroke-width="1"/>
<polyline points="1262.04,1265.59 1262.04,1291.63 1276.69,1291.63 1276.69,1283.49 1266.93,1283.49" fill="none" stroke="#f2f2f7" stroke-width="1.2"/>
<circle cx="1265.62" cy="1287.56" r="2.6" fill="none" stroke="#f2f2f7" stroke-width="1"/>
<circle cx="1268.55" cy="1303.02" r="2.6" fill="none" stroke="#f2f2f7" stroke-width="1"/>
<circle cx="1275.07" cy="1303.02" r="2.6" fill="none" stroke="#f2f2f7" stroke-width="1"/>
<polygon points="1191.24,1484.99 1197.75,1470.66 1203.45,1452.76 1209.96,1442.99 1226.24,1433.23 1244.95,1436.48 1246.09,1485.31" fill="url(#stone)" stroke="none" stroke-width="0"/>
<circle cx="1234.05" cy="1474.73" r="10.74" fill="#24283d" stroke="#f2f2f7" stroke-width="2"/>
<rect x="1202.64" y="1486.13" width="131.34" height="54.52" fill="#24283d" stroke="#f2f2f7" stroke-width="1.7"/>
<path d="M1327.0 1495.0h0.6v0.6h-0.6zM1332.2 1497.2h0.7v0.7h-0.7zM1287.7 1505.5h1.1v1.1h-1.1zM1234.0 1537.0h0.8v0.8h-0.8zM1281.3 1535.5h1.0v1.0h-1.0zM1322.6 1524.1h0.7v0.7h-0.7zM1317.2 1518.0h0.8v0.8h-0.8zM1228.6 1531.3h0.9v0.9h-0.9zM1324.4 1527.4h1.1v1.1h-1.1zM1276.8 1523.6h1.0v1.0h-1.0zM1237.4 1536.8h0.8v0.8h-0.8zM1304.3 1536.7h1.0v1.0h-1.0zM1222.5 1530.1h1.0v1.0h-1.0zM1228.0 1490.3h0.9v0.9h-0.9zM1208.4 1535.2h0.9v0.9h-0.9zM1270.5 1508.8h1.0v1.0h-1.0zM1321.7 1503.5h0.8v0.8h-0.8zM1278.9 1503.0h1.0v1.0h-1.0zM1273.8 1510.0h1.0v1.0h-1.0zM1271.9 1492.3h1.2v1.2h-1.2zM1249.8 1509.9h0.8v0.8h-0.8zM1323.3 1536.6h0.9v0.9h-0.9zM1255.6 1492.7h1.1v1.1h-1.1zM1226.2 1515.8h0.8v0.8h-0.8zM1246.3 1506.1h0.7v0.7h-0.7zM1209.0 1515.2h1.1v1.1h-1.1zM1287.2 1498.1h1.0v1.0h-1.0zM1210.9 1508.8h1.1v1.1h-1.1zM1322.2 1511.4h1.1v1.1h-1.1zM1268.1 1514.6h0.9v0.9h-0.9zM1331.2 1525.9h0.9v0.9h-0.9zM1297.4 1520.7h0.8v0.8h-0.8zM1304.7 1529.8h1.0v1.0h-1.0zM1325.0 1488.7h0.9v0.9h-0.9zM1285.5 1505.2h0.7v0.7h-0.7zM1292.9 1510.0h0.8v0.8h-0.8zM1209.6 1537.3h0.8v0.8h-0.8zM1219.4 1498.8h0.8v0.8h-0.8zM1315.2 1497.0h0.8v0.8h-0.8zM1216.7 1511.8h0.7v0.7h-0.7zM1248.3 1525.4h1.1v1.1h-1.1zM1311.1 1489.7h0.8v0.8h-0.8zM1313.0 1489.4h0.7v0.7h-0.7zM1267.0 1507.4h1.0v1.0h-1.0zM1296.2 1511.6h0.8v0.8h-0.8zM1233.8 1501.4h0.7v0.7h-0.7zM1289.5 1495.8h1.1v1.1h-1.1zM1287.0 1490.7h0.9v0.9h-0.9zM1281.6 1489.9h0.9v0.9h-0.9zM1208.1 1527.0h0.6v0.6h-0.6zM1285.2 1538.3h1.1v1.1h-1.1zM1234.2 1515.2h0.7v0.7h-0.7zM1248.1 1532.0h1.1v1.1h-1.1zM1205.4 1507.2h1.0v1.0h-1.0zM1226.7 1528.9h1.1v1.1h-1.1zM1274.9 1506.3h1.1v1.1h-1.1zM1270.0 1497.4h0.8v0.8h-0.8zM1224.7 1530.8h0.9v0.9h-0.9zM1293.5 1529.7h1.2v1.2h-1.2zM1228.7 1508.6h1.1v1.1h-1.1zM1301.8 1507.6h1.0v1.0h-1.0zM1229.2 1496.0h0.7v0.7h-0.7zM1252.9 1499.8h0.9v0.9h-0.9zM1328.5 1495.6h0.9v0.9h-0.9zM1315.0 1518.4h0.9v0.9h-0.9zM1302.6 1488.9h1.1v1.1h-1.1zM1292.2 1529.1h1.1v1.1h-1.1zM1216.9 1491.2h0.7v0.7h-0.7zM1268.9 1535.9h1.1v1.1h-1.1zM1257.0 1519.7h1.0v1.0h-1.0zM1246.8 1537.5h1.1v1.1h-1.1zM1297.4 1534.0h1.1v1.1h-1.1zM1287.8 1504.2h0.8v0.8h-0.8zM1234.8 1490.7h1.1v1.1h-1.1zM1242.5 1489.0h0.8v0.8h-0.8zM1217.5 1510.6h0.8v0.8h-0.8zM1226.7 1512.2h0.9v0.9h-0.9zM1249.6 1529.5h0.8v0.8h-0.8zM1273.6 1532.8h1.1v1.1h-1.1zM1252.3 1489.8h1.1v1.1h-1.1zM1270.1 1498.9h0.7v0.7h-0.7zM1234.9 1503.7h0.7v0.7h-0.7zM1210.5 1538.7h1.1v1.1h-1.1zM1218.8 1512.4h1.1v1.1h-1.1zM1268.9 1491.3h0.8v0.8h-0.8zM1253.0 1534.6h0.9v0.9h-0.9zM1263.1 1520.1h0.7v0.7h-0.7zM1292.2 1529.2h1.0v1.0h-1.0zM1250.5 1502.4h0.6v0.6h-0.6zM1214.8 1495.7h0.9v0.9h-0.9zM1304.0 1498.9h0.9v0.9h-0.9zM1285.7 1520.0h0.6v0.6h-0.6zM1322.2 1517.8h0.8v0.8h-0.8zM1234.9 1523.1h1.1v1.1h-1.1zM1247.5 1508.2h0.9v0.9h-0.9zM1226.7 1508.6h1.1v1.1h-1.1zM1275.5 1530.0h0.8v0.8h-0.8zM1315.5 1527.9h0.8v0.8h-0.8zM1272.2 1522.7h0.9v0.9h-0.9zM1281.4 1500.1h0.9v0.9h-0.9zM1249.7 1528.7h0.8v0.8h-0.8zM1329.7 1517.5h0.8v0.8h-0.8zM1257.5 1494.3h1.0v1.0h-1.0zM1210.2 1518.8h0.8v0.8h-0.8zM1303.8 1494.3h1.0v1.0h-1.0zM1295.7 1499.7h0.7v0.7h-0.7zM1252.0 1521.0h0.8v0.8h-0.8zM1205.4 1510.4h1.1v1.1h-1.1zM1224.5 1536.0h0.9v0.9h-0.9zM1224.8 1492.9h0.8v0.8h-0.8z" fill="#f2f2f7"/>
<path d="M1268.1 1498.4L1263.7 1497.7L1265.3 1494.9zM1265.4 1501.9L1268.8 1499.0L1269.9 1502.0zM1259.2 1522.0L1263.6 1522.5L1262.1 1525.3zM1235.5 1494.5L1234.2 1498.7L1231.7 1496.7zM1213.6 1495.4L1209.2 1495.1L1210.6 1492.2zM1313.0 1514.0L1310.0 1517.3L1308.6 1514.5zM1281.6 1506.3L1284.6 1503.1L1286.0 1506.0zM1299.1 1496.6L1299.3 1501.0L1296.3 1500.0zM1254.7 1492.6L1255.6 1488.3L1258.3 1490.0zM1278.7 1493.5L1276.2 1497.1L1274.4 1494.5zM1325.6 1512.1L1323.0 1515.8L1321.2 1513.2zM1294.4 1518.0L1290.8 1515.4L1293.5 1513.7z" fill="none" stroke="#f2f2f7" stroke-width="0.8"/>
<rect x="1217.29" y="1517.86" width="104.16" height="2.93" fill="#24283d" stroke="#f2f2f7" stroke-width="1"/>
<circle cx="1220.54" cy="1524.38" r="2.44" fill="none" stroke="#f2f2f7" stroke-width="1.6"/>
<circle cx="1265.62" cy="1524.38" r="2.44" fill="none" stroke="#f2f2f7" stroke-width="1.6"/>
<circle cx="1318.2" cy="1524.38" r="2.44" fill="none" stroke="#f2f2f7" stroke-width="1.6"/>
<polyline points="1258.79,1486.13 1258.79,1531.7 1287.27,1531.7" fill="none" stroke="#f2f2f7" stroke-width="1"/>
<polyline points="1262.04,1486.13 1262.04,1528.44 1287.27,1528.44 1287.27,1531.7" fill="none" stroke="#f2f2f7" stroke-width="1"/>
<text x="1012.21" y="614.41" font-size="10.36" fill="#f2f2f7" textLength="171.71" lengthAdjust="spacingAndGlyphs" stroke="#f2f2f7" stroke-width="0.6">APA RATED SHEATHING, 15 LB. FELT, AND</text>
<polyline points="1183.92,610.35 1240.89,610.35 1317.38,686.03" fill="none" stroke="#f2f2f7" stroke-width="1"/>
<text x="1012.21" y="623.37" font-size="10.36" fill="#f2f2f7" textLength="166.83" lengthAdjust="spacingAndGlyphs" stroke="#f2f2f7" stroke-width="0.6">FIBERGLASS SHINGLES (CLASS "C" MIN.)</text>
<text x="1012.21" y="633.13" font-size="10.36" fill="#f2f2f7" textLength="47.2" lengthAdjust="spacingAndGlyphs" stroke="#f2f2f7" stroke-width="0.6">AS SPEC'D.</text>
<text x="1012.21" y="654.78" font-size="10.36" fill="#f2f2f7" textLength="129.39" lengthAdjust="spacingAndGlyphs" stroke="#f2f2f7" stroke-width="0.6">SEE ROOF FRAMING FOR PITCH</text>
<polyline points="1141.6,651.04 1220.54,651.04 1262.86,680.33" fill="none" stroke="#f2f2f7" stroke-width="1"/>
<text x="1012.21" y="684.73" font-size="10.36" fill="#f2f2f7" textLength="93.59" lengthAdjust="spacingAndGlyphs" stroke="#f2f2f7" stroke-width="0.6">ATTACH RAFTERS WITH</text>
<polyline points="1105.79,678.7 1180.66,678.7 1249.84,782.06" fill="none" stroke="#f2f2f7" stroke-width="1"/>
<text x="1012.21" y="694.17" font-size="10.36" fill="#f2f2f7" textLength="106.28" lengthAdjust="spacingAndGlyphs" stroke="#f2f2f7" stroke-width="0.6">HURRICANE CONNECTORS</text>
<text x="1012.21" y="703.61" font-size="10.36" fill="#f2f2f7" textLength="57.78" lengthAdjust="spacingAndGlyphs" stroke="#f2f2f7" stroke-width="0.6">(SEE STRUCT.)</text>
<text x="1012.7" y="724.28" font-size="10.36" fill="#f2f2f7" textLength="85.77" lengthAdjust="spacingAndGlyphs" stroke="#f2f2f7" stroke-width="0.6">VENTILATION BAFFLE</text>
<polyline points="1098.47,719.88 1106.61,719.88 1236.0,789.38" fill="none" stroke="#f2f2f7" stroke-width="1"/>
<text x="1013.02" y="770.99" font-size="10.36" fill="#f2f2f7" textLength="93.59" lengthAdjust="spacingAndGlyphs" stroke="#f2f2f7" stroke-width="0.6">KNEE WALL (IF REQ'D)</text>
<polyline points="1106.61,766.6 1143.23,766.6 1258.79,823.56" fill="none" stroke="#f2f2f7" stroke-width="1"/>
<text x="1013.83" y="782.06" font-size="10.36" fill="#f2f2f7" textLength="80.57" lengthAdjust="spacingAndGlyphs" stroke="#f2f2f7" stroke-width="0.6">SEE PLAN FOR HGT</text>
<text x="1013.35" y="862.64" font-size="10.36" fill="#f2f2f7" textLength="77.47" lengthAdjust="spacingAndGlyphs" stroke="#f2f2f7" stroke-width="0.6">2 x 6  SUB FASCIA</text>
<polyline points="1090.82,859.06 1177.73,845.72" fill="none" stroke="#f2f2f7" stroke-width="1"/>
<text x="1013.35" y="883.8" font-size="10.36" fill="#f2f2f7" textLength="73.73" lengthAdjust="spacingAndGlyphs" stroke="#f2f2f7" stroke-width="0.6">1 x 8  FASCIA BD.</text>
<polyline points="1084.64,881.04 1177.41,859.06" fill="none" stroke="#f2f2f7" stroke-width="1"/>
<text x="1013.35" y="905.94" font-size="10.36" fill="#f2f2f7" textLength="99.28" lengthAdjust="spacingAndGlyphs" stroke="#f2f2f7" stroke-width="0.6">EXT. GRADE SOFFIT BD.</text>
<polyline points="1105.79,902.68 1130.21,902.68 1201.82,862.64" fill="none" stroke="#f2f2f7" stroke-width="1"/>
<text x="1013.83" y="927.42" font-size="10.36" fill="#f2f2f7" textLength="50.46" lengthAdjust="spacingAndGlyphs" stroke="#f2f2f7" stroke-width="0.6">SOFFIT VENT</text>
<polyline points="1063.48,923.84 1109.86,923.84 1231.12,854.99" fill="none" stroke="#f2f2f7" stroke-width="1"/>
<text x="1013.83" y="945.65" font-size="10.36" fill="#f2f2f7" textLength="43.46" lengthAdjust="spacingAndGlyphs" stroke="#f2f2f7" stroke-width="0.6">LOOKOUTS</text>
<polyline points="1056.15,941.26 1096.03,941.26 1258.79,820.0" fill="none" stroke="#f2f2f7" stroke-width="1"/>
<text x="1013.35" y="964.04" font-size="10.36" fill="#f2f2f7" textLength="57.94" lengthAdjust="spacingAndGlyphs" stroke="#f2f2f7" stroke-width="0.6">(OPT.) CROWN</text>
<polyline points="1069.99,959.65 1101.73,959.65 1232.75,873.71" fill="none" stroke="#f2f2f7" stroke-width="1"/>
<text x="1013.35" y="983.57" font-size="10.36" fill="#f2f2f7" textLength="68.85" lengthAdjust="spacingAndGlyphs" stroke="#f2f2f7" stroke-width="0.6">1 x 8 FRIEZE BD.</text>
<polyline points="1078.12,978.2 1112.3,978.2 1242.51,894.87" fill="none" stroke="#f2f2f7" stroke-width="1"/>
<text x="1013.02" y="1002.29" font-size="10.36" fill="#f2f2f7" textLength="205.89" lengthAdjust="spacingAndGlyphs" stroke="#f2f2f7" stroke-width="0.6">(OPT.) CULTURED STONE &amp; BLOCKING FOR FRIEZE</text>
<polyline points="1166.02,995.78 1234.38,904.64" fill="none" stroke="#f2f2f7" stroke-width="1"/>
<polyline points="1166.02,995.78 1236.0,946.14" fill="none" stroke="#f2f2f7" stroke-width="1"/>
<text x="1013.83" y="1059.58" font-size="10.36" fill="#f2f2f7" textLength="78.94" lengthAdjust="spacingAndGlyphs" stroke="#f2f2f7" stroke-width="0.6">SIDING AS SPEC'D.</text>
<polyline points="1088.7,1052.42 1242.84,1052.42" fill="none" stroke="#f2f2f7" stroke-width="1"/>
<polygon points="1242.84,1052.42 1235.84,1053.52 1235.84,1051.32" fill="#f2f2f7"/>
<text x="1013.83" y="1083.35" font-size="10.36" fill="#f2f2f7" textLength="68.85" lengthAdjust="spacingAndGlyphs" stroke="#f2f2f7" stroke-width="0.6">DBL TOP PLATE</text>
<polyline points="1081.38,1080.42 1269.37,1080.42" fill="none" stroke="#f2f2f7" stroke-width="1"/>
<polygon points="1269.37,1080.42 1262.37,1081.52 1262.37,1079.32" fill="#f2f2f7"/>
<text x="1013.83" y="1175.23" font-size="10.36" fill="#f2f2f7" textLength="69.5" lengthAdjust="spacingAndGlyphs" stroke="#f2f2f7" stroke-width="0.6">R-13 INSUL. (MIN.)</text>
<polyline points="1083.33,1170.68 1253.09,1170.68" fill="none" stroke="#f2f2f7" stroke-width="1"/>
<text x="1013.83" y="1204.04" font-size="10.36" fill="#f2f2f7" textLength="52.08" lengthAdjust="spacingAndGlyphs" stroke="#f2f2f7" stroke-width="0.6">SOLE PLATE</text>
<polyline points="1065.92,1200.79 1244.14,1200.79" fill="none" stroke="#f2f2f7" stroke-width="1"/>
<text x="1013.83" y="1236.6" font-size="10.36" fill="#f2f2f7" textLength="100.91" lengthAdjust="spacingAndGlyphs" stroke="#f2f2f7" stroke-width="0.6">2 x BAND (SEE STRUCT.)</text>
<polyline points="1114.75,1233.83 1253.91,1233.83" fill="none" stroke="#f2f2f7" stroke-width="1"/>
<text x="1014.65" y="1261.01" font-size="10.36" fill="#f2f2f7" textLength="69.17" lengthAdjust="spacingAndGlyphs" stroke="#f2f2f7" stroke-width="0.6">R-19 INSUL. (MIN.)</text>
<polyline points="1083.82,1257.27 1172.53,1257.27 1242.51,1243.92 1281.58,1236.6" fill="none" stroke="#f2f2f7" stroke-width="1"/>
<polygon points="1281.58,1236.60 1274.90,1238.97 1274.50,1236.81" fill="#f2f2f7"/>
<text x="1073.24" y="1329.39" font-size="10.36" fill="#f2f2f7" textLength="71.61" lengthAdjust="spacingAndGlyphs" stroke="#f2f2f7" stroke-width="0.6">GRADE (VARIES)</text>
<text x="1014.32" y="1381.47" font-size="10.36" fill="#f2f2f7" textLength="126.46" lengthAdjust="spacingAndGlyphs" stroke="#f2f2f7" stroke-width="0.6">WATERPROOFING (PER BLDR.)</text>
<polyline points="1104.17,1374.64 1200.2,1342.08 1244.14,1329.06" fill="none" stroke="#f2f2f7" stroke-width="1"/>
<text x="1014.32" y="1418.58" font-size="10.36" fill="#f2f2f7" textLength="25.55" lengthAdjust="spacingAndGlyphs" stroke="#f2f2f7" stroke-width="0.6">STONE</text>
<polyline points="1043.62,1413.37 1138.35,1413.37 1208.33,1442.99" fill="none" stroke="#f2f2f7" stroke-width="1"/>
<text x="1014.32" y="1447.06" font-size="10.36" fill="#f2f2f7" textLength="76.5" lengthAdjust="spacingAndGlyphs" stroke="#f2f2f7" stroke-width="0.6">PERIMETER DRAIN</text>
<polyline points="1090.82,1441.37 1122.07,1441.37 1203.45,1464.97" fill="none" stroke="#f2f2f7" stroke-width="1"/>
<text x="1436.61" y="699.38" font-size="10.36" fill="#f2f2f7" textLength="36.46" lengthAdjust="spacingAndGlyphs" stroke="#f2f2f7" stroke-width="0.6">RAFTERS</text>
<text x="1436.61" y="710.12" font-size="10.36" fill="#f2f2f7" textLength="57.29" lengthAdjust="spacingAndGlyphs" stroke="#f2f2f7" stroke-width="0.6">(SEE STRUCT.)</text>
<polyline points="1432.87,695.47 1406.02,695.47 1319.75,716.95" fill="none" stroke="#f2f2f7" stroke-width="1"/>
<text x="1387.79" y="767.41" font-size="10.36" fill="#f2f2f7" textLength="30.44" lengthAdjust="spacingAndGlyphs" stroke="#f2f2f7" stroke-width="0.6">MIN  45</text>
<circle cx="1423.59" cy="758.46" r="1.46" fill="none" stroke="#f2f2f7" stroke-width="1"/>
<polyline points="1382.42,763.83 1334.4,763.83 1292.08,824.38 1304.29,843.91" fill="none" stroke="#f2f2f7" stroke-width="1"/>
<polygon points="1304.29,843.91 1299.65,838.56 1301.51,837.39" fill="#f2f2f7"/>
<text x="1387.3" y="785.31" font-size="10.36" fill="#f2f2f7" textLength="93.26" lengthAdjust="spacingAndGlyphs" stroke="#f2f2f7" stroke-width="0.6">2x4 RAFTER TIES @ 16"</text>
<polyline points="1382.42,781.73 1361.26,781.73 1332.77,834.14" fill="none" stroke="#f2f2f7" stroke-width="1"/>
<text x="1395.92" y="816.56" font-size="10.36" fill="#f2f2f7" textLength="73.89" lengthAdjust="spacingAndGlyphs" stroke="#f2f2f7" stroke-width="0.6">R-30 INSUL. (MIN.)</text>
<polyline points="1391.37,814.28 1366.14,814.28 1305.1,887.85" fill="none" stroke="#f2f2f7" stroke-width="1"/>
<polygon points="1305.10,887.85 1308.72,881.76 1310.42,883.17" fill="#f2f2f7"/>
<text x="1403.09" y="848.48" font-size="10.36" fill="#f2f2f7" textLength="111.98" lengthAdjust="spacingAndGlyphs" stroke="#f2f2f7" stroke-width="0.6">CEILING JOISTS AS SPEC'D</text>
<polyline points="1401.13,845.23 1384.04,845.23 1401.13,883.48" fill="none" stroke="#f2f2f7" stroke-width="1"/>
<text x="1391.04" y="933.93" font-size="10.36" fill="#f2f2f7" textLength="75.52" lengthAdjust="spacingAndGlyphs" stroke="#f2f2f7" stroke-width="0.6">SIDING AS SPEC'D</text>
<polyline points="1389.41,931.98 1274.99,931.98" fill="none" stroke="#f2f2f7" stroke-width="1"/>
<line x1="1483.33" y1="908.7" x2="1466.24" y2="927.42" stroke="#f2f2f7" stroke-width="1"/>
<text x="1391.04" y="959.16" font-size="10.36" fill="#f2f2f7" textLength="55.34" lengthAdjust="spacingAndGlyphs" stroke="#f2f2f7" stroke-width="0.6">1/2" DRYWALL</text>
<polyline points="1386.48,957.53 1345.79,957.53 1275.32,946.95" fill="none" stroke="#f2f2f7" stroke-width="1"/>
<polygon points="1275.32,946.95 1282.41,946.90 1282.08,949.08" fill="#f2f2f7"/>
<text x="1391.04" y="992.53" font-size="10.36" fill="#f2f2f7" textLength="114.58" lengthAdjust="spacingAndGlyphs" stroke="#f2f2f7" stroke-width="0.6">STRUCTURAL SHEATHING TO</text>
<polyline points="1386.48,988.95 1303.48,988.95" fill="none" stroke="#f2f2f7" stroke-width="1"/>
<text x="1391.04" y="1003.59" font-size="10.36" fill="#f2f2f7" textLength="120.44" lengthAdjust="spacingAndGlyphs" stroke="#f2f2f7" stroke-width="0.6">EXTEND MINIMUM 12" BEYOND</text>
<text x="1391.04" y="1014.5" font-size="10.36" fill="#f2f2f7" textLength="92.77" lengthAdjust="spacingAndGlyphs" stroke="#f2f2f7" stroke-width="0.6">CONSTRUCTION JOINTS</text>
<text x="1390.55" y="1033.22" font-size="10.36" fill="#f2f2f7" textLength="187.99" lengthAdjust="spacingAndGlyphs" stroke="#f2f2f7" stroke-width="0.6">3/4" APA RATED SHEATHING UNDERLAYMENT</text>
<polyline points="1383.23,1030.29 1303.48,1040.05 1282.32,1023.45" fill="none" stroke="#f2f2f7" stroke-width="1"/>
<text x="1390.55" y="1042.98" font-size="10.36" fill="#f2f2f7" textLength="52.9" lengthAdjust="spacingAndGlyphs" stroke="#f2f2f7" stroke-width="0.6">(PER BLDR.)</text>
<text x="1390.55" y="1062.51" font-size="10.36" fill="#f2f2f7" textLength="108.24" lengthAdjust="spacingAndGlyphs" stroke="#f2f2f7" stroke-width="0.6">FLOOR JOISTS AS SPEC'D</text>
<polyline points="1385.67,1060.07 1332.77,1060.07" fill="none" stroke="#f2f2f7" stroke-width="1"/>
<polygon points="1332.77,1060.07 1339.77,1058.97 1339.77,1061.17" fill="#f2f2f7"/>
<text x="1391.04" y="1083.11" font-size="10.36" fill="#f2f2f7" textLength="117.51" lengthAdjust="spacingAndGlyphs" stroke="#f2f2f7" stroke-width="0.6">CROWN MOULD (PER BLDR.)</text>
<polyline points="1386.48,1081.16 1294.04,1081.16" fill="none" stroke="#f2f2f7" stroke-width="1"/>
<polygon points="1294.04,1081.16 1301.04,1080.06 1301.04,1082.26" fill="#f2f2f7"/>
<text x="1391.04" y="1102.64" font-size="10.36" fill="#f2f2f7" textLength="96.68" lengthAdjust="spacingAndGlyphs" stroke="#f2f2f7" stroke-width="0.6">2"x4" STUDS AT 16" O.C.</text>
<polyline points="1386.48,1099.39 1274.99,1099.39" fill="none" stroke="#f2f2f7" stroke-width="1"/>
<text x="1391.04" y="1114.04" font-size="10.36" fill="#f2f2f7" textLength="89.03" lengthAdjust="spacingAndGlyphs" stroke="#f2f2f7" stroke-width="0.6">#2 SPF UNLESS NOTED</text>
<text x="1391.04" y="1125.1" font-size="10.36" fill="#f2f2f7" textLength="71.61" lengthAdjust="spacingAndGlyphs" stroke="#f2f2f7" stroke-width="0.6">OTHERWISE (UNO)</text>
<text x="1391.04" y="1149.84" font-size="10.36" fill="#f2f2f7" textLength="91.8" lengthAdjust="spacingAndGlyphs" stroke="#f2f2f7" stroke-width="0.6">NOM. 3/8" APA RATED</text>
<polyline points="1386.48,1148.7 1260.35,1148.7" fill="none" stroke="#f2f2f7" stroke-width="1"/>
<text x="1391.04" y="1160.91" font-size="10.36" fill="#f2f2f7" textLength="141.93" lengthAdjust="spacingAndGlyphs" stroke="#f2f2f7" stroke-width="0.6">SHEATHING ATTACHED PER CODE</text>
<text x="1391.04" y="1190.21" font-size="10.36" fill="#f2f2f7" textLength="111.82" lengthAdjust="spacingAndGlyphs" stroke="#f2f2f7" stroke-width="0.6">BASE MOULD (PER BLDR.)</text>
<polyline points="1384.86,1184.51 1278.09,1184.51" fill="none" stroke="#f2f2f7" stroke-width="1"/>
<polygon points="1278.09,1184.51 1285.09,1183.41 1285.09,1185.61" fill="#f2f2f7"/>
<text x="1391.04" y="1209.41" font-size="10.36" fill="#f2f2f7" textLength="126.95" lengthAdjust="spacingAndGlyphs" stroke="#f2f2f7" stroke-width="0.6">1/2" DIA. A307 ANCHOR BOLTS</text>
<polyline points="1386.48,1212.18 1375.09,1212.18 1277.43,1255.31" fill="none" stroke="#f2f2f7" stroke-width="1"/>
<text x="1391.04" y="1220.81" font-size="10.36" fill="#f2f2f7" textLength="111.82" lengthAdjust="spacingAndGlyphs" stroke="#f2f2f7" stroke-width="0.6">WITH 2"x2"x1/8" WASHERS AT</text>
<text x="1391.04" y="1232.2" font-size="10.36" fill="#f2f2f7" textLength="121.09" lengthAdjust="spacingAndGlyphs" stroke="#f2f2f7" stroke-width="0.6">18" O.C. (MIN. 6" EMBEDMENT)</text>
<text x="1390.55" y="1251.24" font-size="10.36" fill="#f2f2f7" textLength="108.24" lengthAdjust="spacingAndGlyphs" stroke="#f2f2f7" stroke-width="0.6">FLOOR JOISTS AS SPEC'D</text>
<polyline points="1385.67,1247.5 1346.61,1247.5" fill="none" stroke="#f2f2f7" stroke-width="1"/>
<polygon points="1346.61,1247.50 1353.61,1246.40 1353.61,1248.60" fill="#f2f2f7"/>
<text x="1393.81" y="1268.33" font-size="10.36" fill="#f2f2f7" textLength="100.1" lengthAdjust="spacingAndGlyphs" stroke="#f2f2f7" stroke-width="0.6">2"x6" TRT'D SILL PLATE</text>
<polyline points="1385.67,1263.12 1280.69,1263.12" fill="none" stroke="#f2f2f7" stroke-width="1"/>
<text x="1391.04" y="1292.75" font-size="10.36" fill="#f2f2f7" textLength="76.82" lengthAdjust="spacingAndGlyphs" stroke="#f2f2f7" stroke-width="0.6">8"x8" BOND BEAM</text>
<polyline points="1384.86,1289.82 1292.41,1289.82" fill="none" stroke="#f2f2f7" stroke-width="1"/>
<polygon points="1292.41,1289.82 1299.41,1288.72 1299.41,1290.92" fill="#f2f2f7"/>
<text x="1391.04" y="1402.3" font-size="10.36" fill="#f2f2f7" textLength="137.04" lengthAdjust="spacingAndGlyphs" stroke="#f2f2f7" stroke-width="0.6">HORIZONTAL REINFORCEMENT AT</text>
<polyline points="1386.48,1397.1 1292.41,1397.1" fill="none" stroke="#f2f2f7" stroke-width="1"/>
<polygon points="1292.41,1397.10 1299.41,1396.00 1299.41,1398.20" fill="#f2f2f7"/>
<text x="1391.04" y="1413.37" font-size="10.36" fill="#f2f2f7" textLength="137.04" lengthAdjust="spacingAndGlyphs" stroke="#f2f2f7" stroke-width="0.6">16" O.C. (EVERY OTHER COURSE)</text>
<text x="1391.04" y="1424.77" font-size="10.36" fill="#f2f2f7" textLength="137.86" lengthAdjust="spacingAndGlyphs" stroke="#f2f2f7" stroke-width="0.6">"DURA-WIRE" OR EQUIV. TYPICAL</text>
<text x="1390.55" y="1495.89" font-size="10.36" fill="#f2f2f7" textLength="129.07" lengthAdjust="spacingAndGlyphs" stroke="#f2f2f7" stroke-width="0.6">CONC. FTG. (PER STRUCT. ENG.)</text>
<polyline points="1384.86,1494.26 1335.54,1494.26" fill="none" stroke="#f2f2f7" stroke-width="1"/>
<polygon points="1335.54,1494.26 1342.54,1493.16 1342.54,1495.36" fill="#f2f2f7"/>
</g>
<g id="s_g">
<line x1="1616.07" y1="695.71" x2="1616.07" y2="1031.2" stroke="#f2f2f7" stroke-width="1.1"/>
<polyline points="1616.07,1031.2 1596.14,1051.13 1638.86,1040.69 1616.07,1060.63" fill="none" stroke="#f2f2f7" stroke-width="1.1"/>
<line x1="1616.07" y1="1060.63" x2="1616.07" y2="1376.94" stroke="#f2f2f7" stroke-width="1.1"/>
<line x1="1616.07" y1="1352.63" x2="2149.58" y2="1352.63" stroke="#f2f2f7" stroke-width="1.3"/>
<line x1="1616.07" y1="752.67" x2="2081.23" y2="1129.92" stroke="#f2f2f7" stroke-width="1.1"/>
<line x1="1616.07" y1="768.81" x2="2081.23" y2="1149.31" stroke="#f2f2f7" stroke-width="1.1"/>
<rect x="1616.07" y="952.41" width="56.99" height="5.89" rx="2" fill="#f2f2f7"/>
<rect x="1666.39" y="956.2" width="5.69" height="41.77" fill="#f2f2f7" stroke="none" stroke-width="0"/>
<rect x="1666.39" y="997.02" width="60.79" height="5.89" rx="2" fill="#f2f2f7"/>
<rect x="1720.5" y="1000.82" width="5.69" height="41.77" fill="#f2f2f7" stroke="none" stroke-width="0"/>
<rect x="1720.5" y="1041.64" width="60.79" height="5.89" rx="2" fill="#f2f2f7"/>
<rect x="1774.61" y="1045.44" width="5.69" height="41.77" fill="#f2f2f7" stroke="none" stroke-width="0"/>
<rect x="1774.61" y="1086.26" width="60.79" height="5.89" rx="2" fill="#f2f2f7"/>
<rect x="1828.72" y="1090.06" width="5.69" height="41.76" fill="#f2f2f7" stroke="none" stroke-width="0"/>
<rect x="1828.72" y="1130.88" width="60.79" height="5.89" rx="2" fill="#f2f2f7"/>
<rect x="1882.83" y="1134.67" width="5.69" height="41.77" fill="#f2f2f7" stroke="none" stroke-width="0"/>
<rect x="1882.83" y="1175.49" width="60.79" height="5.89" rx="2" fill="#f2f2f7"/>
<rect x="1936.94" y="1179.29" width="5.7" height="41.77" fill="#f2f2f7" stroke="none" stroke-width="0"/>
<rect x="1936.94" y="1220.11" width="60.79" height="5.89" rx="2" fill="#f2f2f7"/>
<rect x="1991.05" y="1223.91" width="5.7" height="41.77" fill="#f2f2f7" stroke="none" stroke-width="0"/>
<rect x="1991.05" y="1264.73" width="60.79" height="5.89" rx="2" fill="#f2f2f7"/>
<rect x="2045.16" y="1268.52" width="5.7" height="41.77" fill="#f2f2f7" stroke="none" stroke-width="0"/>
<rect x="2045.16" y="1309.34" width="60.79" height="5.89" rx="2" fill="#f2f2f7"/>
<rect x="2099.27" y="1313.14" width="5.7" height="39.49" fill="#f2f2f7" stroke="none" stroke-width="0"/>
<polyline points="1632.02,781.85 1630.31,889.75" fill="none" stroke="#f2f2f7" stroke-width="1"/>
<polyline points="1636.2,785.27 1637.91,889.75" fill="none" stroke="#f2f2f7" stroke-width="1"/>
<path d="M 1629.93 889.75 L 1638.29 889.75 M 1630.31 891.65 L 1637.91 891.65 M 1631.45 891.65 C 1629.93 896.4 1629.93 898.3 1631.83 901.52 M 1636.77 891.65 C 1638.29 896.4 1638.29 898.3 1636.39 901.52 M 1629.93 902.09 L 1638.29 902.09 M 1629.93 903.99 L 1638.29 903.99" fill="none" stroke="#f2f2f7" stroke-width="1"/>
<line x1="1629.93" y1="903.99" x2="1629.93" y2="952.41" stroke="#f2f2f7" stroke-width="1"/>
<line x1="1638.29" y1="903.99" x2="1638.29" y2="952.41" stroke="#f2f2f7" stroke-width="1"/>
<polyline points="1653.86,799.72 1652.15,889.75" fill="none" stroke="#f2f2f7" stroke-width="1"/>
<polyline points="1658.03,803.13 1659.74,889.75" fill="none" stroke="#f2f2f7" stroke-width="1"/>
<path d="M 1651.77 889.75 L 1660.12 889.75 M 1652.15 891.65 L 1659.74 891.65 M 1653.29 891.65 C 1651.77 896.4 1651.77 898.3 1653.67 901.52 M 1658.6 891.65 C 1660.12 896.4 1660.12 898.3 1658.22 901.52 M 1651.77 902.09 L 1660.12 902.09 M 1651.77 903.99 L 1660.12 903.99" fill="none" stroke="#f2f2f7" stroke-width="1"/>
<line x1="1651.77" y1="903.99" x2="1651.77" y2="952.41" stroke="#f2f2f7" stroke-width="1"/>
<line x1="1660.12" y1="903.99" x2="1660.12" y2="952.41" stroke="#f2f2f7" stroke-width="1"/>
<polyline points="1686.13,826.12 1684.42,934.37" fill="none" stroke="#f2f2f7" stroke-width="1"/>
<polyline points="1690.31,829.53 1692.02,934.37" fill="none" stroke="#f2f2f7" stroke-width="1"/>
<path d="M 1684.04 934.37 L 1692.4 934.37 M 1684.42 936.27 L 1692.02 936.27 M 1685.56 936.27 C 1684.04 941.01 1684.04 942.91 1685.94 946.14 M 1690.88 936.27 C 1692.4 941.01 1692.4 942.91 1690.5 946.14 M 1684.04 946.71 L 1692.4 946.71 M 1684.04 948.61 L 1692.4 948.61" fill="none" stroke="#f2f2f7" stroke-width="1"/>
<line x1="1684.04" y1="948.61" x2="1684.04" y2="997.02" stroke="#f2f2f7" stroke-width="1"/>
<line x1="1692.4" y1="948.61" x2="1692.4" y2="997.02" stroke="#f2f2f7" stroke-width="1"/>
<polyline points="1707.97,843.98 1706.26,934.37" fill="none" stroke="#f2f2f7" stroke-width="1"/>
<polyline points="1712.14,847.4 1713.85,934.37" fill="none" stroke="#f2f2f7" stroke-width="1"/>
<path d="M 1705.88 934.37 L 1714.23 934.37 M 1706.26 936.27 L 1713.85 936.27 M 1707.4 936.27 C 1705.88 941.01 1705.88 942.91 1707.78 946.14 M 1712.71 936.27 C 1714.23 941.01 1714.23 942.91 1712.33 946.14 M 1705.88 946.71 L 1714.23 946.71 M 1705.88 948.61 L 1714.23 948.61" fill="none" stroke="#f2f2f7" stroke-width="1"/>
<line x1="1705.88" y1="948.61" x2="1705.88" y2="997.02" stroke="#f2f2f7" stroke-width="1"/>
<line x1="1714.23" y1="948.61" x2="1714.23" y2="997.02" stroke="#f2f2f7" stroke-width="1"/>
<polyline points="1740.24,870.38 1738.53,978.99" fill="none" stroke="#f2f2f7" stroke-width="1"/>
<polyline points="1744.42,873.8 1746.13,978.99" fill="none" stroke="#f2f2f7" stroke-width="1"/>
<path d="M 1738.15 978.99 L 1746.51 978.99 M 1738.53 980.88 L 1746.13 980.88 M 1739.67 980.88 C 1738.15 985.63 1738.15 987.53 1740.05 990.76 M 1744.99 980.88 C 1746.51 985.63 1746.51 987.53 1744.61 990.76 M 1738.15 991.33 L 1746.51 991.33 M 1738.15 993.23 L 1746.51 993.23" fill="none" stroke="#f2f2f7" stroke-width="1"/>
<line x1="1738.15" y1="993.23" x2="1738.15" y2="1041.64" stroke="#f2f2f7" stroke-width="1"/>
<line x1="1746.51" y1="993.23" x2="1746.51" y2="1041.64" stroke="#f2f2f7" stroke-width="1"/>
<polyline points="1762.08,888.24 1760.37,978.99" fill="none" stroke="#f2f2f7" stroke-width="1"/>
<polyline points="1766.25,891.66 1767.96,978.99" fill="none" stroke="#f2f2f7" stroke-width="1"/>
<path d="M 1759.99 978.99 L 1768.34 978.99 M 1760.37 980.88 L 1767.96 980.88 M 1761.51 980.88 C 1759.99 985.63 1759.99 987.53 1761.89 990.76 M 1766.82 980.88 C 1768.34 985.63 1768.34 987.53 1766.44 990.76 M 1759.99 991.33 L 1768.34 991.33 M 1759.99 993.23 L 1768.34 993.23" fill="none" stroke="#f2f2f7" stroke-width="1"/>
<line x1="1759.99" y1="993.23" x2="1759.99" y2="1041.64" stroke="#f2f2f7" stroke-width="1"/>
<line x1="1768.34" y1="993.23" x2="1768.34" y2="1041.64" stroke="#f2f2f7" stroke-width="1"/>
<polyline points="1794.35,914.64 1792.64,1023.6" fill="none" stroke="#f2f2f7" stroke-width="1"/>
<polyline points="1798.53,918.06 1800.24,1023.6" fill="none" stroke="#f2f2f7" stroke-width="1"/>
<path d="M 1792.27 1023.6 L 1800.62 1023.6 M 1792.64 1025.5 L 1800.24 1025.5 M 1793.78 1025.5 C 1792.27 1030.25 1792.27 1032.15 1794.16 1035.37 M 1799.1 1025.5 C 1800.62 1030.25 1800.62 1032.15 1798.72 1035.37 M 1792.27 1035.94 L 1800.62 1035.94 M 1792.27 1037.84 L 1800.62 1037.84" fill="none" stroke="#f2f2f7" stroke-width="1"/>
<line x1="1792.27" y1="1037.84" x2="1792.27" y2="1086.26" stroke="#f2f2f7" stroke-width="1"/>
<line x1="1800.62" y1="1037.84" x2="1800.62" y2="1086.26" stroke="#f2f2f7" stroke-width="1"/>
<polyline points="1816.19,932.5 1814.48,1023.6" fill="none" stroke="#f2f2f7" stroke-width="1"/>
<polyline points="1820.36,935.92 1822.07,1023.6" fill="none" stroke="#f2f2f7" stroke-width="1"/>
<path d="M 1814.1 1023.6 L 1822.45 1023.6 M 1814.48 1025.5 L 1822.07 1025.5 M 1815.62 1025.5 C 1814.1 1030.25 1814.1 1032.15 1816.0 1035.37 M 1820.93 1025.5 C 1822.45 1030.25 1822.45 1032.15 1820.55 1035.37 M 1814.1 1035.94 L 1822.45 1035.94 M 1814.1 1037.84 L 1822.45 1037.84" fill="none" stroke="#f2f2f7" stroke-width="1"/>
<line x1="1814.1" y1="1037.84" x2="1814.1" y2="1086.26" stroke="#f2f2f7" stroke-width="1"/>
<line x1="1822.45" y1="1037.84" x2="1822.45" y2="1086.26" stroke="#f2f2f7" stroke-width="1"/>
<polyline points="1848.46,958.9 1846.76,1068.22" fill="none" stroke="#f2f2f7" stroke-width="1"/>
<polyline points="1852.64,962.32 1854.35,1068.22" fill="none" stroke="#f2f2f7" stroke-width="1"/>
<path d="M 1846.38 1068.22 L 1854.73 1068.22 M 1846.76 1070.12 L 1854.35 1070.12 M 1847.89 1070.12 C 1846.38 1074.87 1846.38 1076.76 1848.27 1079.99 M 1853.21 1070.12 C 1854.73 1074.87 1854.73 1076.76 1852.83 1079.99 M 1846.38 1080.56 L 1854.73 1080.56 M 1846.38 1082.46 L 1854.73 1082.46" fill="none" stroke="#f2f2f7" stroke-width="1"/>
<line x1="1846.38" y1="1082.46" x2="1846.38" y2="1130.88" stroke="#f2f2f7" stroke-width="1"/>
<line x1="1854.73" y1="1082.46" x2="1854.73" y2="1130.88" stroke="#f2f2f7" stroke-width="1"/>
<polyline points="1870.3,976.76 1868.59,1068.22" fill="none" stroke="#f2f2f7" stroke-width="1"/>
<polyline points="1874.48,980.18 1876.18,1068.22" fill="none" stroke="#f2f2f7" stroke-width="1"/>
<path d="M 1868.21 1068.22 L 1876.56 1068.22 M 1868.59 1070.12 L 1876.18 1070.12 M 1869.73 1070.12 C 1868.21 1074.87 1868.21 1076.76 1870.11 1079.99 M 1875.04 1070.12 C 1876.56 1074.87 1876.56 1076.76 1874.66 1079.99 M 1868.21 1080.56 L 1876.56 1080.56 M 1868.21 1082.46 L 1876.56 1082.46" fill="none" stroke="#f2f2f7" stroke-width="1"/>
<line x1="1868.21" y1="1082.46" x2="1868.21" y2="1130.88" stroke="#f2f2f7" stroke-width="1"/>
<line x1="1876.56" y1="1082.46" x2="1876.56" y2="1130.88" stroke="#f2f2f7" stroke-width="1"/>
<polyline points="1902.57,1003.17 1900.87,1112.84" fill="none" stroke="#f2f2f7" stroke-width="1"/>
<polyline points="1906.75,1006.58 1908.46,1112.84" fill="none" stroke="#f2f2f7" stroke-width="1"/>
<path d="M 1900.49 1112.84 L 1908.84 1112.84 M 1900.87 1114.74 L 1908.46 1114.74 M 1902.0 1114.74 C 1900.49 1119.48 1900.49 1121.38 1902.38 1124.61 M 1907.32 1114.74 C 1908.84 1119.48 1908.84 1121.38 1906.94 1124.61 M 1900.49 1125.18 L 1908.84 1125.18 M 1900.49 1127.08 L 1908.84 1127.08" fill="none" stroke="#f2f2f7" stroke-width="1"/>
<line x1="1900.49" y1="1127.08" x2="1900.49" y2="1175.49" stroke="#f2f2f7" stroke-width="1"/>
<line x1="1908.84" y1="1127.08" x2="1908.84" y2="1175.49" stroke="#f2f2f7" stroke-width="1"/>
<polyline points="1924.41,1021.03 1922.7,1112.84" fill="none" stroke="#f2f2f7" stroke-width="1"/>
<polyline points="1928.59,1024.44 1930.29,1112.84" fill="none" stroke="#f2f2f7" stroke-width="1"/>
<path d="M 1922.32 1112.84 L 1930.67 1112.84 M 1922.7 1114.74 L 1930.29 1114.74 M 1923.84 1114.74 C 1922.32 1119.48 1922.32 1121.38 1924.22 1124.61 M 1929.16 1114.74 C 1930.67 1119.48 1930.67 1121.38 1928.78 1124.61 M 1922.32 1125.18 L 1930.67 1125.18 M 1922.32 1127.08 L 1930.67 1127.08" fill="none" stroke="#f2f2f7" stroke-width="1"/>
<line x1="1922.32" y1="1127.08" x2="1922.32" y2="1175.49" stroke="#f2f2f7" stroke-width="1"/>
<line x1="1930.67" y1="1127.08" x2="1930.67" y2="1175.49" stroke="#f2f2f7" stroke-width="1"/>
<polyline points="1956.69,1047.43 1954.98,1157.46" fill="none" stroke="#f2f2f7" stroke-width="1"/>
<polyline points="1960.86,1050.85 1962.57,1157.46" fill="none" stroke="#f2f2f7" stroke-width="1"/>
<path d="M 1954.6 1157.46 L 1962.95 1157.46 M 1954.98 1159.35 L 1962.57 1159.35 M 1956.12 1159.35 C 1954.6 1164.1 1954.6 1166.0 1956.5 1169.23 M 1961.43 1159.35 C 1962.95 1164.1 1962.95 1166.0 1961.05 1169.23 M 1954.6 1169.8 L 1962.95 1169.8 M 1954.6 1171.7 L 1962.95 1171.7" fill="none" stroke="#f2f2f7" stroke-width="1"/>
<line x1="1954.6" y1="1171.7" x2="1954.6" y2="1220.11" stroke="#f2f2f7" stroke-width="1"/>
<line x1="1962.95" y1="1171.7" x2="1962.95" y2="1220.11" stroke="#f2f2f7" stroke-width="1"/>
<polyline points="1978.52,1065.29 1976.81,1157.46" fill="none" stroke="#f2f2f7" stroke-width="1"/>
<polyline points="1982.7,1068.71 1984.4,1157.46" fill="none" stroke="#f2f2f7" stroke-width="1"/>
<path d="M 1976.43 1157.46 L 1984.78 1157.46 M 1976.81 1159.35 L 1984.4 1159.35 M 1977.95 1159.35 C 1976.43 1164.1 1976.43 1166.0 1978.33 1169.23 M 1983.27 1159.35 C 1984.78 1164.1 1984.78 1166.0 1982.89 1169.23 M 1976.43 1169.8 L 1984.78 1169.8 M 1976.43 1171.7 L 1984.78 1171.7" fill="none" stroke="#f2f2f7" stroke-width="1"/>
<line x1="1976.43" y1="1171.7" x2="1976.43" y2="1220.11" stroke="#f2f2f7" stroke-width="1"/>
<line x1="1984.78" y1="1171.7" x2="1984.78" y2="1220.11" stroke="#f2f2f7" stroke-width="1"/>
<polyline points="2010.8,1091.69 2009.09,1202.07" fill="none" stroke="#f2f2f7" stroke-width="1"/>
<polyline points="2014.97,1095.11 2016.68,1202.07" fill="none" stroke="#f2f2f7" stroke-width="1"/>
<path d="M 2008.71 1202.07 L 2017.06 1202.07 M 2009.09 1203.97 L 2016.68 1203.97 M 2010.23 1203.97 C 2008.71 1208.72 2008.71 1210.62 2010.61 1213.84 M 2015.54 1203.97 C 2017.06 1208.72 2017.06 1210.62 2015.16 1213.84 M 2008.71 1214.41 L 2017.06 1214.41 M 2008.71 1216.31 L 2017.06 1216.31" fill="none" stroke="#f2f2f7" stroke-width="1"/>
<line x1="2008.71" y1="1216.31" x2="2008.71" y2="1264.73" stroke="#f2f2f7" stroke-width="1"/>
<line x1="2017.06" y1="1216.31" x2="2017.06" y2="1264.73" stroke="#f2f2f7" stroke-width="1"/>
<polyline points="2032.63,1109.55 2030.92,1202.07" fill="none" stroke="#f2f2f7" stroke-width="1"/>
<polyline points="2036.81,1112.97 2038.52,1202.07" fill="none" stroke="#f2f2f7" stroke-width="1"/>
<path d="M 2030.54 1202.07 L 2038.9 1202.07 M 2030.92 1203.97 L 2038.52 1203.97 M 2032.06 1203.97 C 2030.54 1208.72 2030.54 1210.62 2032.44 1213.84 M 2037.38 1203.97 C 2038.9 1208.72 2038.9 1210.62 2037.0 1213.84 M 2030.54 1214.41 L 2038.9 1214.41 M 2030.54 1216.31 L 2038.9 1216.31" fill="none" stroke="#f2f2f7" stroke-width="1"/>
<line x1="2030.54" y1="1216.31" x2="2030.54" y2="1264.73" stroke="#f2f2f7" stroke-width="1"/>
<line x1="2038.9" y1="1216.31" x2="2038.9" y2="1264.73" stroke="#f2f2f7" stroke-width="1"/>
<polyline points="2063.01,1134.4 2061.3,1246.69" fill="none" stroke="#f2f2f7" stroke-width="1"/>
<polyline points="2067.18,1137.82 2068.89,1246.69" fill="none" stroke="#f2f2f7" stroke-width="1"/>
<path d="M 2060.92 1246.69 L 2069.27 1246.69 M 2061.3 1248.59 L 2068.89 1248.59 M 2062.44 1248.59 C 2060.92 1253.34 2060.92 1255.23 2062.82 1258.46 M 2067.75 1248.59 C 2069.27 1253.34 2069.27 1255.23 2067.37 1258.46 M 2060.92 1259.03 L 2069.27 1259.03 M 2060.92 1260.93 L 2069.27 1260.93" fill="none" stroke="#f2f2f7" stroke-width="1"/>
<line x1="2060.92" y1="1260.93" x2="2060.92" y2="1309.34" stroke="#f2f2f7" stroke-width="1"/>
<line x1="2069.27" y1="1260.93" x2="2069.27" y2="1309.34" stroke="#f2f2f7" stroke-width="1"/>
<line x1="1616.07" y1="994.18" x2="1776.51" y2="1127.08" stroke="#f2f2f7" stroke-width="2.6"/>
<line x1="1776.51" y1="1127.08" x2="2054.65" y2="1352.63" stroke="#f2f2f7" stroke-width="1.1"/>
<line x1="1775.94" y1="1127.08" x2="1775.94" y2="1352.63" stroke="#f2f2f7" stroke-width="4.4"/>
<line x1="1796.44" y1="1151.76" x2="1796.44" y2="1352.63" stroke="#f2f2f7" stroke-width="1"/>
<polyline points="1778.41,1128.98 1806.88,1150.81 1802.14,1155.56 1778.41,1135.62" fill="none" stroke="#f2f2f7" stroke-width="1"/>
<line x1="1778.41" y1="1135.62" x2="1806.88" y2="1150.81" stroke="#f2f2f7" stroke-width="1"/>
<rect x="1778.41" y="1343.71" width="18.03" height="8.16" fill="none" stroke="#f2f2f7" stroke-width="1"/>
<line x1="1778.41" y1="1343.71" x2="1796.44" y2="1351.87" stroke="#f2f2f7" stroke-width="0.9"/>
<line x1="1796.44" y1="1343.71" x2="1778.41" y2="1351.87" stroke="#f2f2f7" stroke-width="0.9"/>
<line x1="1711.95" y1="1077.71" x2="1773.66" y2="1234.35" stroke="#f2f2f7" stroke-width="1"/>
<text x="1656.89" y="1199.23" font-size="10.68" fill="#f2f2f7" textLength="22.78" lengthAdjust="spacingAndGlyphs" stroke="#f2f2f7" stroke-width="0.6">NOTE:</text>
<text x="1656.89" y="1210.24" font-size="10.68" fill="#f2f2f7" textLength="149.04" lengthAdjust="spacingAndGlyphs" stroke="#f2f2f7" stroke-width="0.6">ACCESSIBLE AREAS UNDER STAIRS</text>
<text x="1656.89" y="1221.63" font-size="10.68" fill="#f2f2f7" textLength="136.7" lengthAdjust="spacingAndGlyphs" stroke="#f2f2f7" stroke-width="0.6">SHALL HAVE WALLS PROTECTED</text>
<text x="1656.89" y="1233.02" font-size="10.68" fill="#f2f2f7" textLength="79.74" lengthAdjust="spacingAndGlyphs" stroke="#f2f2f7" stroke-width="0.6">W/ 1/2" GYPSUM BD.</text>
<text x="1898.97" y="1093.85" font-size="10.68" fill="#f2f2f7" textLength="30.38" lengthAdjust="spacingAndGlyphs" stroke="#f2f2f7" stroke-width="0.6">4" MAX</text>
<line x1="1892.32" y1="1098.03" x2="1938.84" y2="1098.03" stroke="#f2f2f7" stroke-width="1"/>
<line x1="1911.31" y1="1181.19" x2="1911.31" y2="1219.16" stroke="#f2f2f7" stroke-width="1"/>
<line x1="1909.41" y1="1219.16" x2="1921.75" y2="1219.16" stroke="#f2f2f7" stroke-width="1"/>
<text x="1910.74" y="1208.72" font-size="10.68" fill="#f2f2f7" textLength="24.68" lengthAdjust="spacingAndGlyphs" transform="rotate(-90 1910.74 1208.72)" stroke="#f2f2f7" stroke-width="0.6">8 1/4"</text>
<text x="1920.8" y="1208.72" font-size="10.68" fill="#f2f2f7" textLength="19.94" lengthAdjust="spacingAndGlyphs" transform="rotate(-90 1920.8 1208.72)" stroke="#f2f2f7" stroke-width="0.6">MAX</text>
<text x="1954.98" y="1253.34" font-size="10.68" fill="#f2f2f7" textLength="26.58" lengthAdjust="spacingAndGlyphs" stroke="#f2f2f7" stroke-width="0.6">9" MIN.</text>
<line x1="1943.58" y1="1256.56" x2="1992.0" y2="1256.56" stroke="#f2f2f7" stroke-width="1"/>
<line x1="1943.58" y1="1240.99" x2="1943.58" y2="1259.98" stroke="#f2f2f7" stroke-width="1"/>
<line x1="1997.7" y1="1240.99" x2="1997.7" y2="1259.98" stroke="#f2f2f7" stroke-width="1"/>
<polygon points="1943.96,1256.56 1950.96,1255.46 1950.96,1257.66" fill="#f2f2f7"/>
<text x="1827.2" y="1349.41" font-size="10.68" fill="#f2f2f7" textLength="68.92" lengthAdjust="spacingAndGlyphs" stroke="#f2f2f7" stroke-width="0.6">FINISHED FLOOR</text>
<text x="1772.14" y="848.53" font-size="10.68" fill="#f2f2f7" textLength="167.08" lengthAdjust="spacingAndGlyphs" stroke="#f2f2f7" stroke-width="0.6">NOTE: STAIR CODE SUMMARY REFLECTS</text>
<text x="1772.14" y="858.98" font-size="10.68" fill="#f2f2f7" textLength="190.43" lengthAdjust="spacingAndGlyphs" stroke="#f2f2f7" stroke-width="0.6">THE REQUIREMENTS OF THE NORTH CAROLINA</text>
<text x="1772.14" y="869.42" font-size="10.68" fill="#f2f2f7" textLength="123.98" lengthAdjust="spacingAndGlyphs" stroke="#f2f2f7" stroke-width="0.6">RESIDENTIAL BUILDING CODE</text>
<line x1="1936.89" y1="786.26" x2="2150.87" y2="786.26" stroke="#f2f2f7" stroke-width="1.2"/>
<line x1="2044.17" y1="786.26" x2="2044.17" y2="1216.3" stroke="#f2f2f7" stroke-width="1"/>
<polygon points="2044.17,1216.30 2043.07,1209.30 2045.27,1209.30" fill="#f2f2f7"/>
<polygon points="2044.17,786.64 2045.27,793.64 2043.07,793.64" fill="#f2f2f7"/>
<text x="2048.34" y="795.94" font-size="10.68" fill="#f2f2f7" textLength="72.72" lengthAdjust="spacingAndGlyphs" stroke="#f2f2f7" stroke-width="0.6">FINISHED CEILING</text>
<text x="2040.75" y="974.79" font-size="10.68" fill="#f2f2f7" textLength="39.87" lengthAdjust="spacingAndGlyphs" transform="rotate(-90 2040.75 974.79)" stroke="#f2f2f7" stroke-width="0.6">6'-8" MIN.</text>
<line x1="2008.09" y1="1219.36" x2="2047.01" y2="1219.36" stroke="#f2f2f7" stroke-width="1"/>
<polyline points="2079.29,1128.99 2106.82,1128.99 2106.82,1124.43 2093.15,1121.78 2079.29,1124.43 2079.29,1128.99" fill="none" stroke="#f2f2f7" stroke-width="1.1"/>
<line x1="2081.19" y1="1128.99" x2="2081.19" y2="1308.6" stroke="#f2f2f7" stroke-width="1.1"/>
<line x1="2104.92" y1="1128.99" x2="2104.92" y2="1308.6" stroke="#f2f2f7" stroke-width="1.1"/>
<rect x="2086.88" y="1135.82" width="11.97" height="166.13" fill="none" stroke="#f2f2f7" stroke-width="1"/>
<polyline points="2051.76,1266.83 2058.41,1273.47 2051.76,1280.12" fill="none" stroke="#f2f2f7" stroke-width="1"/>
<rect x="2069.8" y="1344.29" width="29.43" height="7.6" fill="none" stroke="#f2f2f7" stroke-width="1"/>
<line x1="2069.8" y1="1344.29" x2="2099.23" y2="1351.89" stroke="#f2f2f7" stroke-width="0.9"/>
<line x1="2099.23" y1="1344.29" x2="2069.8" y2="1351.89" stroke="#f2f2f7" stroke-width="0.9"/>
<polyline points="1988.16,1316.19 2003.35,1316.19 2057.46,1273.47" fill="none" stroke="#f2f2f7" stroke-width="1"/>
<text x="1916.96" y="1319.99" font-size="10.68" fill="#f2f2f7" textLength="64.55" lengthAdjust="spacingAndGlyphs" stroke="#f2f2f7" stroke-width="0.6">NOSING RADIUS</text>
<text x="1924.55" y="1328.53" font-size="10.68" fill="#f2f2f7" textLength="67.4" lengthAdjust="spacingAndGlyphs" stroke="#f2f2f7" stroke-width="0.6">LESS THAN 9/16"</text>
<text x="1912.21" y="1338.6" font-size="10.68" fill="#f2f2f7" textLength="86.39" lengthAdjust="spacingAndGlyphs" stroke="#f2f2f7" stroke-width="0.6">NOSING PROJECTION</text>
<text x="1927.4" y="1348.47" font-size="10.68" fill="#f2f2f7" textLength="80.69" lengthAdjust="spacingAndGlyphs" stroke="#f2f2f7" stroke-width="0.6">BETWEEN 3/4"-1-1/4"</text>
<text x="1954.93" y="1253.35" font-size="10.68" fill="#f2f2f7" textLength="26.58" lengthAdjust="spacingAndGlyphs" stroke="#f2f2f7" stroke-width="0.6">9" MIN.</text>
<line x1="1943.54" y1="1256.58" x2="1992.9" y2="1256.58" stroke="#f2f2f7" stroke-width="1"/>
<line x1="1943.54" y1="1241.01" x2="1943.54" y2="1259.99" stroke="#f2f2f7" stroke-width="1"/>
<line x1="1997.65" y1="1241.01" x2="1997.65" y2="1259.99" stroke="#f2f2f7" stroke-width="1"/>
<polygon points="1943.92,1256.58 1950.92,1255.48 1950.92,1257.68" fill="#f2f2f7"/>
<text x="1910.31" y="1208.73" font-size="10.68" fill="#f2f2f7" textLength="24.68" lengthAdjust="spacingAndGlyphs" transform="rotate(-90 1910.31 1208.73)" stroke="#f2f2f7" stroke-width="0.6">8 1/4"</text>
<text x="1920.38" y="1208.73" font-size="10.68" fill="#f2f2f7" textLength="19.94" lengthAdjust="spacingAndGlyphs" transform="rotate(-90 1920.38 1208.73)" stroke="#f2f2f7" stroke-width="0.6">MAX</text>
<line x1="1911.26" y1="1181.39" x2="1911.26" y2="1219.36" stroke="#f2f2f7" stroke-width="1"/>
<line x1="1908.98" y1="1219.36" x2="1921.14" y2="1219.36" stroke="#f2f2f7" stroke-width="1"/>
<text x="1898.92" y="1093.87" font-size="10.68" fill="#f2f2f7" textLength="30.38" lengthAdjust="spacingAndGlyphs" stroke="#f2f2f7" stroke-width="0.6">4" MAX</text>
<line x1="1892.28" y1="1098.04" x2="1938.79" y2="1098.04" stroke="#f2f2f7" stroke-width="1"/>
<line x1="2139.1" y1="1145.7" x2="2139.1" y2="1352.27" stroke="#f2f2f7" stroke-width="1"/>
<line x1="2119.73" y1="1145.7" x2="2141.94" y2="1145.7" stroke="#f2f2f7" stroke-width="1"/>
<line x1="2119.73" y1="1307.65" x2="2141.94" y2="1307.65" stroke="#f2f2f7" stroke-width="1"/>
<polygon points="2139.10,1146.08 2140.20,1153.08 2138.00,1153.08" fill="#f2f2f7"/>
<polygon points="2139.10,1307.27 2138.00,1300.27 2140.20,1300.27" fill="#f2f2f7"/>
<polygon points="2139.10,1308.03 2140.20,1315.03 2138.00,1315.03" fill="#f2f2f7"/>
<text x="2135.68" y="1238.35" font-size="10.68" fill="#f2f2f7" textLength="39.87" lengthAdjust="spacingAndGlyphs" transform="rotate(-90 2135.68 1238.35)" stroke="#f2f2f7" stroke-width="0.6">2'-6" MIN.</text>
<text x="2148.59" y="1240.25" font-size="10.68" fill="#f2f2f7" textLength="41.77" lengthAdjust="spacingAndGlyphs" transform="rotate(-90 2148.59 1240.25)" stroke="#f2f2f7" stroke-width="0.6">3'-2" MAX.</text>
<text x="2135.68" y="1344.67" font-size="10.68" fill="#f2f2f7" textLength="34.18" lengthAdjust="spacingAndGlyphs" transform="rotate(-90 2135.68 1344.67)" stroke="#f2f2f7" stroke-width="0.6">2'-8 3/4"</text>
<text x="2148.21" y="1338.98" font-size="10.68" fill="#f2f2f7" textLength="20.88" lengthAdjust="spacingAndGlyphs" transform="rotate(-90 2148.21 1338.98)" stroke="#f2f2f7" stroke-width="0.6">MAX</text>
</g>
</svg>
</body></html>
